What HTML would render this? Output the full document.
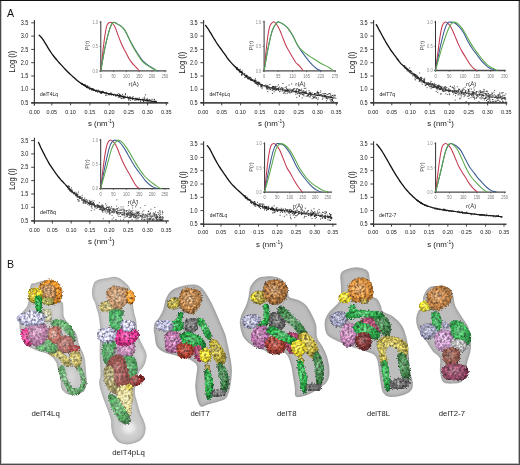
<!DOCTYPE html>
<html><head><meta charset="utf-8"><style>
html,body{margin:0;padding:0;background:#fff;}
svg{display:block;will-change:transform;}
text{font-family:"Liberation Sans", sans-serif;}
</style></head><body>
<svg width="520" height="465" viewBox="0 0 520 465">
<rect x="0" y="0" width="520" height="465" fill="#fff"/>

<line x1="34.4" y1="20.0" x2="34.4" y2="105.6" stroke="#333" stroke-width="1.1"/>
<line x1="31.2" y1="102.9" x2="168.3" y2="102.9" stroke="#4a4a4a" stroke-width="1.6"/>
<line x1="31.2" y1="22.8" x2="34.4" y2="22.8" stroke="#333" stroke-width="0.9"/>
<text x="28.4" y="24.9" font-size="6.5" text-anchor="end" fill="#1a1a1a" textLength="7.7" lengthAdjust="spacingAndGlyphs">3.5</text>
<line x1="31.2" y1="36.1" x2="34.4" y2="36.1" stroke="#333" stroke-width="0.9"/>
<text x="28.4" y="38.2" font-size="6.5" text-anchor="end" fill="#1a1a1a" textLength="7.7" lengthAdjust="spacingAndGlyphs">3.0</text>
<line x1="31.2" y1="49.4" x2="34.4" y2="49.4" stroke="#333" stroke-width="0.9"/>
<text x="28.4" y="51.5" font-size="6.5" text-anchor="end" fill="#1a1a1a" textLength="7.7" lengthAdjust="spacingAndGlyphs">2.5</text>
<line x1="31.2" y1="62.7" x2="34.4" y2="62.7" stroke="#333" stroke-width="0.9"/>
<text x="28.4" y="64.8" font-size="6.5" text-anchor="end" fill="#1a1a1a" textLength="7.7" lengthAdjust="spacingAndGlyphs">2.0</text>
<line x1="31.2" y1="76.0" x2="34.4" y2="76.0" stroke="#333" stroke-width="0.9"/>
<text x="28.4" y="78.1" font-size="6.5" text-anchor="end" fill="#1a1a1a" textLength="7.7" lengthAdjust="spacingAndGlyphs">1.5</text>
<line x1="31.2" y1="89.3" x2="34.4" y2="89.3" stroke="#333" stroke-width="0.9"/>
<text x="28.4" y="91.4" font-size="6.5" text-anchor="end" fill="#1a1a1a" textLength="7.7" lengthAdjust="spacingAndGlyphs">1.0</text>
<line x1="31.2" y1="102.6" x2="34.4" y2="102.6" stroke="#333" stroke-width="0.9"/>
<text x="28.4" y="104.7" font-size="6.5" text-anchor="end" fill="#1a1a1a" textLength="7.7" lengthAdjust="spacingAndGlyphs">0.5</text>
<line x1="34.4" y1="102.6" x2="34.4" y2="105.4" stroke="#333" stroke-width="0.9"/>
<text x="34.5" y="114.0" font-size="6.2" text-anchor="middle" fill="#222" textLength="10.6" lengthAdjust="spacingAndGlyphs">0.00</text>
<line x1="51.8" y1="102.6" x2="51.8" y2="105.4" stroke="#333" stroke-width="0.9"/>
<text x="51.8" y="114.0" font-size="6.2" text-anchor="middle" fill="#222" textLength="10.6" lengthAdjust="spacingAndGlyphs">0.05</text>
<line x1="70.6" y1="102.6" x2="70.6" y2="105.4" stroke="#333" stroke-width="0.9"/>
<text x="70.6" y="114.0" font-size="6.2" text-anchor="middle" fill="#222" textLength="10.6" lengthAdjust="spacingAndGlyphs">0.10</text>
<line x1="89.9" y1="102.6" x2="89.9" y2="105.4" stroke="#333" stroke-width="0.9"/>
<text x="89.9" y="114.0" font-size="6.2" text-anchor="middle" fill="#222" textLength="10.6" lengthAdjust="spacingAndGlyphs">0.15</text>
<line x1="109.2" y1="102.6" x2="109.2" y2="105.4" stroke="#333" stroke-width="0.9"/>
<text x="109.2" y="114.0" font-size="6.2" text-anchor="middle" fill="#222" textLength="10.6" lengthAdjust="spacingAndGlyphs">0.20</text>
<line x1="128.8" y1="102.6" x2="128.8" y2="105.4" stroke="#333" stroke-width="0.9"/>
<text x="128.8" y="114.0" font-size="6.2" text-anchor="middle" fill="#222" textLength="10.6" lengthAdjust="spacingAndGlyphs">0.25</text>
<line x1="147.6" y1="102.6" x2="147.6" y2="105.4" stroke="#333" stroke-width="0.9"/>
<text x="147.6" y="114.0" font-size="6.2" text-anchor="middle" fill="#222" textLength="10.6" lengthAdjust="spacingAndGlyphs">0.30</text>
<line x1="166.3" y1="102.6" x2="166.3" y2="105.4" stroke="#333" stroke-width="0.9"/>
<text x="166.3" y="114.0" font-size="6.2" text-anchor="middle" fill="#222" textLength="10.6" lengthAdjust="spacingAndGlyphs">0.35</text>
<text x="101.3" y="126.2" font-size="7.9" text-anchor="middle" fill="#1a1a1a">s (nm<tspan font-size="4.9" dy="-3.3">-1</tspan><tspan dy="3.3">)</tspan></text>
<text transform="translate(12.0,61.6) rotate(-90)" x="0" y="3" font-size="8.8" text-anchor="middle" fill="#1a1a1a" textLength="21.6" lengthAdjust="spacingAndGlyphs">Log (I)</text>
<text x="40.0" y="95.5" font-size="5.4" fill="#1a1a1a" textLength="17.9" lengthAdjust="spacingAndGlyphs">delT4Lq</text>
<path d="M39.20,35.20 C39.53,35.55 40.53,36.48 41.20,37.28 C41.87,38.07 42.53,38.99 43.20,39.96 C43.87,40.92 44.53,42.02 45.20,43.09 C45.87,44.16 46.53,45.30 47.20,46.39 C47.87,47.49 48.53,48.62 49.20,49.68 C49.87,50.73 50.53,51.78 51.20,52.75 C51.87,53.72 52.53,54.63 53.20,55.50 C53.87,56.38 54.53,57.20 55.20,58.01 C55.87,58.83 56.53,59.61 57.20,60.39 C57.87,61.17 58.53,61.94 59.20,62.70 C59.87,63.45 60.53,64.20 61.20,64.94 C61.87,65.68 62.53,66.40 63.20,67.12 C63.87,67.84 64.53,68.54 65.20,69.24 C65.87,69.93 66.53,70.62 67.20,71.29 C67.87,71.96 68.53,72.62 69.20,73.26 C69.87,73.90 70.53,74.52 71.20,75.14 C71.87,75.76 72.53,76.37 73.20,76.97 C73.87,77.58 74.53,78.19 75.20,78.77 C75.87,79.35 76.53,79.92 77.20,80.46 C77.87,81.00 78.53,81.50 79.20,81.99 C79.87,82.48 80.53,82.93 81.20,83.38 C81.87,83.82 82.53,84.24 83.20,84.65 C83.87,85.07 84.53,85.46 85.20,85.85 C85.87,86.24 86.87,86.82 87.20,87.01" fill="none" stroke="#111" stroke-width="1.3" stroke-linejoin="round" stroke-linecap="round"/>
<path d="M81.20,83.38 C81.53,83.59 82.53,84.24 83.20,84.65 C83.87,85.07 84.53,85.46 85.20,85.85 C85.87,86.24 86.53,86.64 87.20,87.01 C87.87,87.39 88.53,87.77 89.20,88.11 C89.87,88.45 90.53,88.76 91.20,89.04 C91.87,89.32 92.53,89.56 93.20,89.79 C93.87,90.02 94.53,90.23 95.20,90.43 C95.87,90.62 96.53,90.80 97.20,90.97 C97.87,91.14 98.53,91.30 99.20,91.46 C99.87,91.62 100.53,91.77 101.20,91.92 C101.87,92.08 102.53,92.22 103.20,92.38 C103.87,92.53 104.53,92.68 105.20,92.84 C105.87,92.99 106.53,93.15 107.20,93.30 C107.87,93.46 108.53,93.61 109.20,93.76 C109.87,93.90 110.53,94.03 111.20,94.16 C111.87,94.29 112.53,94.40 113.20,94.52 C113.87,94.63 114.53,94.74 115.20,94.87 C115.87,94.99 116.53,95.12 117.20,95.26 C117.87,95.40 118.53,95.56 119.20,95.71 C119.87,95.86 120.53,96.02 121.20,96.18 C121.87,96.33 122.53,96.48 123.20,96.63 C123.87,96.77 124.53,96.92 125.20,97.06 C125.87,97.20 126.53,97.34 127.20,97.48 C127.87,97.61 128.53,97.75 129.20,97.88 C129.87,98.01 130.53,98.14 131.20,98.26 C131.87,98.38 132.53,98.51 133.20,98.62 C133.87,98.73 134.53,98.83 135.20,98.93 C135.87,99.02 136.53,99.10 137.20,99.18 C137.87,99.26 138.53,99.32 139.20,99.39 C139.87,99.47 140.53,99.54 141.20,99.62 C141.87,99.70 142.53,99.78 143.20,99.86 C143.87,99.95 144.53,100.03 145.20,100.12 C145.87,100.21 146.53,100.31 147.20,100.40 C147.87,100.50 148.53,100.60 149.20,100.71 C149.87,100.81 150.53,100.91 151.20,101.03 C151.87,101.14 152.53,101.26 153.20,101.39 C153.87,101.52 154.65,101.70 155.20,101.81 C155.75,101.93 156.28,102.05 156.50,102.10" fill="none" stroke="#111" stroke-width="1.15" stroke-linejoin="round" stroke-linecap="round"/>
<path d="M105.6,92.9h1M121.4,96.1h1M85.8,87.0h1M86.7,87.1h1M113.1,95.3h1M128.2,98.6h1M124.5,97.3h1M145.5,100.2h1M92.2,89.3h1M95.0,91.4h1M129.1,97.7h1M85.9,86.5h1M132.2,98.1h1M115.3,95.8h1M140.7,99.7h1M120.6,98.2h1M135.8,99.5h1M112.7,94.4h1M92.8,90.5h1M138.5,99.7h1M146.7,100.0h1M124.7,96.1h1M144.1,97.1h1M86.0,86.8h1M129.7,98.7h1M110.2,93.6h1M83.2,85.0h1M85.9,86.9h1M91.1,88.4h1M87.5,88.0h1M122.4,97.9h1M102.2,91.2h1M108.2,94.4h1M94.6,90.3h1M98.9,91.1h1M81.8,83.9h1M109.0,94.8h1M119.9,95.7h1M131.9,99.6h1M146.7,98.3h1M110.7,94.9h1M86.1,87.1h1M97.1,91.0h1M81.5,84.0h1M89.1,89.2h1M127.2,97.8h1M100.3,91.6h1M144.7,100.9h1M116.2,95.4h1M107.0,93.5h1M143.2,101.9h1M120.9,96.5h1M122.0,94.4h1M145.8,99.8h1M101.0,92.5h1M121.2,98.6h1M106.1,93.8h1M145.0,94.8h1M142.5,100.2h1M108.0,94.3h1M83.6,85.1h1M152.8,101.9h1M151.3,101.9h1M97.9,91.1h1M96.2,90.0h1M144.1,98.6h1M130.1,100.4h1M149.3,101.9h1M137.4,99.9h1M106.3,95.3h1M153.9,99.6h1M135.5,100.2h1M91.0,89.9h1M92.4,88.6h1M154.5,101.0h1M91.3,89.7h1M153.8,99.3h1M113.8,94.2h1M143.0,99.9h1M99.4,92.1h1M100.8,92.8h1M107.9,94.6h1M125.0,93.9h1M118.9,96.5h1M120.5,95.7h1M81.8,84.3h1M94.3,90.2h1M105.8,92.3h1M122.9,98.3h1M100.0,92.2h1M139.0,98.0h1M149.5,100.2h1M127.1,96.3h1M115.2,94.9h1M117.1,94.4h1M151.7,99.3h1M123.2,97.2h1M90.6,88.8h1M86.9,87.7h1M139.9,100.8h1M93.0,89.6h1M147.3,99.5h1M97.9,90.2h1M155.2,101.9h1M93.5,89.6h1M96.1,90.8h1M135.3,98.1h1M82.8,84.6h1M128.0,99.9h1M140.2,101.8h1M89.3,89.2h1M101.6,92.4h1M113.0,95.0h1M92.6,89.0h1M124.0,97.4h1M132.8,98.8h1M86.9,86.0h1M87.7,86.3h1M86.5,86.1h1M122.7,97.0h1M101.5,91.7h1M89.7,88.5h1M85.3,86.0h1M138.1,100.0h1M118.8,95.6h1M100.2,91.9h1M136.1,99.5h1M151.1,101.9h1M142.5,98.1h1M110.8,94.2h1M132.7,96.8h1M134.2,100.2h1M111.6,94.7h1M86.8,87.2h1M100.5,92.8h1M146.4,101.3h1M102.5,92.2h1M93.2,90.5h1M101.1,93.5h1M99.7,91.4h1M104.6,93.4h1M116.9,95.3h1M96.5,91.3h1M88.2,87.8h1M84.6,85.7h1M125.1,97.7h1M137.4,98.9h1M110.5,92.8h1M154.9,101.6h1M84.8,84.6h1M147.9,100.4h1M91.9,88.6h1M119.1,96.8h1M125.0,94.2h1M132.4,98.6h1M91.4,89.4h1M89.3,87.1h1M128.2,97.4h1M118.0,95.9h1M119.0,94.6h1M130.6,98.2h1M87.0,86.9h1M135.8,98.9h1M118.3,93.7h1M117.2,95.5h1M129.4,96.9h1M92.5,89.7h1M123.8,96.2h1M86.0,86.3h1M131.8,97.3h1M120.0,95.6h1M148.1,100.7h1M154.4,101.9h1M142.6,100.1h1M115.0,95.3h1M97.2,92.3h1M92.1,89.8h1M142.6,99.7h1M147.6,101.0h1M117.7,97.0h1M81.8,83.7h1M92.0,89.6h1M105.0,95.1h1M144.0,100.1h1M150.5,101.9h1M109.2,93.6h1M155.9,101.4h1M102.0,92.7h1M89.1,87.8h1M100.1,93.1h1M119.6,94.6h1M147.4,101.9h1M128.5,99.8h1M135.1,98.6h1M136.1,99.1h1M102.8,91.6h1M150.5,100.1h1M103.7,92.8h1M154.2,101.2h1M123.0,96.2h1M94.0,90.5h1M118.5,97.2h1M149.0,99.7h1M95.8,90.8h1M107.0,93.4h1M123.9,98.1h1M137.3,98.3h1M109.6,94.3h1M86.1,86.9h1M119.0,95.7h1M145.8,100.2h1M111.3,94.8h1M152.6,101.7h1M83.9,85.2h1M148.2,100.6h1M110.7,94.1h1M143.0,101.4h1M89.6,88.5h1M120.4,97.2h1M129.7,97.1h1M115.6,96.2h1M98.8,92.0h1M129.6,98.5h1" stroke="#222" stroke-width="0.90" fill="none"/>
<line x1="100.8" y1="21.1" x2="100.8" y2="71.3" stroke="#333" stroke-width="1.0"/>
<line x1="99.6" y1="70.9" x2="166.5" y2="70.9" stroke="#4a4a4a" stroke-width="1.3"/>
<line x1="99.5" y1="22.3" x2="100.8" y2="22.3" stroke="#444" stroke-width="0.7"/>
<text x="98.0" y="24.1" font-size="4.9" text-anchor="end" fill="#8a8a8a" textLength="5.6" lengthAdjust="spacingAndGlyphs">1.0</text>
<line x1="99.5" y1="46.6" x2="100.8" y2="46.6" stroke="#444" stroke-width="0.7"/>
<text x="98.0" y="48.4" font-size="4.9" text-anchor="end" fill="#8a8a8a" textLength="5.6" lengthAdjust="spacingAndGlyphs">0.5</text>
<line x1="99.5" y1="70.9" x2="100.8" y2="70.9" stroke="#444" stroke-width="0.7"/>
<text x="98.0" y="72.7" font-size="4.9" text-anchor="end" fill="#8a8a8a" textLength="5.6" lengthAdjust="spacingAndGlyphs">0.0</text>
<line x1="100.8" y1="70.9" x2="100.8" y2="72.2" stroke="#444" stroke-width="0.7"/>
<text x="100.8" y="77.9" font-size="4.9" text-anchor="middle" fill="#777" textLength="2.2" lengthAdjust="spacingAndGlyphs">0</text>
<line x1="113.6" y1="70.9" x2="113.6" y2="72.2" stroke="#444" stroke-width="0.7"/>
<text x="113.6" y="77.9" font-size="4.9" text-anchor="middle" fill="#777" textLength="4.4" lengthAdjust="spacingAndGlyphs">50</text>
<line x1="126.4" y1="70.9" x2="126.4" y2="72.2" stroke="#444" stroke-width="0.7"/>
<text x="126.4" y="77.9" font-size="4.9" text-anchor="middle" fill="#777" textLength="6.6" lengthAdjust="spacingAndGlyphs">100</text>
<line x1="139.2" y1="70.9" x2="139.2" y2="72.2" stroke="#444" stroke-width="0.7"/>
<text x="139.2" y="77.9" font-size="4.9" text-anchor="middle" fill="#777" textLength="6.6" lengthAdjust="spacingAndGlyphs">150</text>
<line x1="152.0" y1="70.9" x2="152.0" y2="72.2" stroke="#444" stroke-width="0.7"/>
<text x="152.0" y="77.9" font-size="4.9" text-anchor="middle" fill="#777" textLength="6.6" lengthAdjust="spacingAndGlyphs">200</text>
<line x1="164.8" y1="70.9" x2="164.8" y2="72.2" stroke="#444" stroke-width="0.7"/>
<text x="164.8" y="77.9" font-size="4.9" text-anchor="middle" fill="#777" textLength="6.6" lengthAdjust="spacingAndGlyphs">250</text>
<text x="133.6" y="86.3" font-size="6.2" text-anchor="middle" fill="#333">r(Å)</text>
<text transform="translate(87.0,45.5) rotate(-90)" x="0" y="2" font-size="5.6" text-anchor="middle" fill="#333">P(r)</text>
<path d="M100.80,70.90 C101.14,67.74 102.15,57.78 102.82,51.95 C103.50,46.11 104.17,40.28 104.84,35.91 C105.52,31.53 106.19,27.89 106.87,25.70 C107.54,23.52 108.22,23.35 108.89,22.79 C109.56,22.22 110.24,22.14 110.91,22.30 C111.59,22.46 112.15,22.75 112.93,23.76 C113.72,24.77 114.73,26.35 115.62,28.38 C116.52,30.40 117.41,33.52 118.31,35.91 C119.21,38.30 120.10,40.61 121.00,42.71 C121.90,44.82 122.81,46.76 123.71,48.54 C124.61,50.33 125.50,51.70 126.40,53.40 C127.30,55.11 128.19,57.21 129.09,58.75 C129.98,60.29 130.88,61.50 131.78,62.64 C132.68,63.77 133.59,64.58 134.49,65.55 C135.39,66.53 136.39,67.58 137.18,68.47 C137.96,69.36 138.86,70.50 139.20,70.90" fill="none" stroke="#c23a50" stroke-width="1.05"/>
<path d="M100.80,70.90 C101.47,67.09 103.50,54.62 104.84,48.06 C106.19,41.50 107.77,35.50 108.89,31.53 C110.01,27.56 110.79,25.78 111.58,24.24 C112.36,22.71 112.70,22.38 113.60,22.30 C114.50,22.22 115.75,23.11 116.98,23.76 C118.21,24.41 119.77,25.22 121.00,26.19 C122.23,27.16 123.37,28.21 124.38,29.59 C125.39,30.97 126.05,32.51 127.07,34.45 C128.08,36.39 129.21,38.91 130.44,41.25 C131.68,43.60 133.14,46.28 134.49,48.54 C135.84,50.81 137.19,52.84 138.53,54.86 C139.88,56.89 141.24,59.16 142.58,60.69 C143.92,62.23 145.03,62.92 146.60,64.10 C148.17,65.27 150.46,66.73 152.00,67.74 C153.54,68.75 154.73,69.64 155.84,70.17 C156.95,70.70 158.19,70.78 158.66,70.90" fill="none" stroke="#3b5a92" stroke-width="1.05"/>
<path d="M100.80,70.90 C101.47,67.09 103.50,54.62 104.84,48.06 C106.19,41.50 107.77,35.50 108.89,31.53 C110.01,27.56 110.79,25.78 111.58,24.24 C112.36,22.71 112.70,22.38 113.60,22.30 C114.50,22.22 115.75,23.11 116.98,23.76 C118.21,24.41 119.77,25.22 121.00,26.19 C122.23,27.16 123.37,28.21 124.38,29.59 C125.39,30.97 126.05,32.43 127.07,34.45 C128.08,36.48 129.21,39.23 130.44,41.74 C131.68,44.25 133.14,47.17 134.49,49.52 C135.84,51.87 137.19,53.81 138.53,55.83 C139.88,57.86 141.24,60.17 142.58,61.67 C143.92,63.16 145.03,63.74 146.60,64.83 C148.17,65.91 150.20,67.17 152.00,68.18 C153.80,69.19 156.48,70.45 157.38,70.90" fill="none" stroke="#5aa84a" stroke-width="1.05"/>
<line x1="203.6" y1="20.0" x2="203.6" y2="105.6" stroke="#333" stroke-width="1.1"/>
<line x1="200.4" y1="102.9" x2="338.0" y2="102.9" stroke="#4a4a4a" stroke-width="1.6"/>
<line x1="200.4" y1="22.8" x2="203.6" y2="22.8" stroke="#333" stroke-width="0.9"/>
<text x="197.6" y="24.9" font-size="6.5" text-anchor="end" fill="#1a1a1a" textLength="7.7" lengthAdjust="spacingAndGlyphs">3.5</text>
<line x1="200.4" y1="36.1" x2="203.6" y2="36.1" stroke="#333" stroke-width="0.9"/>
<text x="197.6" y="38.2" font-size="6.5" text-anchor="end" fill="#1a1a1a" textLength="7.7" lengthAdjust="spacingAndGlyphs">3.0</text>
<line x1="200.4" y1="49.4" x2="203.6" y2="49.4" stroke="#333" stroke-width="0.9"/>
<text x="197.6" y="51.5" font-size="6.5" text-anchor="end" fill="#1a1a1a" textLength="7.7" lengthAdjust="spacingAndGlyphs">2.5</text>
<line x1="200.4" y1="62.7" x2="203.6" y2="62.7" stroke="#333" stroke-width="0.9"/>
<text x="197.6" y="64.8" font-size="6.5" text-anchor="end" fill="#1a1a1a" textLength="7.7" lengthAdjust="spacingAndGlyphs">2.0</text>
<line x1="200.4" y1="76.0" x2="203.6" y2="76.0" stroke="#333" stroke-width="0.9"/>
<text x="197.6" y="78.1" font-size="6.5" text-anchor="end" fill="#1a1a1a" textLength="7.7" lengthAdjust="spacingAndGlyphs">1.5</text>
<line x1="200.4" y1="89.3" x2="203.6" y2="89.3" stroke="#333" stroke-width="0.9"/>
<text x="197.6" y="91.4" font-size="6.5" text-anchor="end" fill="#1a1a1a" textLength="7.7" lengthAdjust="spacingAndGlyphs">1.0</text>
<line x1="200.4" y1="102.6" x2="203.6" y2="102.6" stroke="#333" stroke-width="0.9"/>
<text x="197.6" y="104.7" font-size="6.5" text-anchor="end" fill="#1a1a1a" textLength="7.7" lengthAdjust="spacingAndGlyphs">0.5</text>
<line x1="203.6" y1="102.6" x2="203.6" y2="105.4" stroke="#333" stroke-width="0.9"/>
<text x="203.1" y="114.0" font-size="6.2" text-anchor="middle" fill="#222" textLength="10.6" lengthAdjust="spacingAndGlyphs">0.00</text>
<line x1="221.8" y1="102.6" x2="221.8" y2="105.4" stroke="#333" stroke-width="0.9"/>
<text x="221.8" y="114.0" font-size="6.2" text-anchor="middle" fill="#222" textLength="10.6" lengthAdjust="spacingAndGlyphs">0.05</text>
<line x1="240.6" y1="102.6" x2="240.6" y2="105.4" stroke="#333" stroke-width="0.9"/>
<text x="240.6" y="114.0" font-size="6.2" text-anchor="middle" fill="#222" textLength="10.6" lengthAdjust="spacingAndGlyphs">0.10</text>
<line x1="259.9" y1="102.6" x2="259.9" y2="105.4" stroke="#333" stroke-width="0.9"/>
<text x="259.9" y="114.0" font-size="6.2" text-anchor="middle" fill="#222" textLength="10.6" lengthAdjust="spacingAndGlyphs">0.15</text>
<line x1="279.2" y1="102.6" x2="279.2" y2="105.4" stroke="#333" stroke-width="0.9"/>
<text x="279.2" y="114.0" font-size="6.2" text-anchor="middle" fill="#222" textLength="10.6" lengthAdjust="spacingAndGlyphs">0.20</text>
<line x1="298.8" y1="102.6" x2="298.8" y2="105.4" stroke="#333" stroke-width="0.9"/>
<text x="298.8" y="114.0" font-size="6.2" text-anchor="middle" fill="#222" textLength="10.6" lengthAdjust="spacingAndGlyphs">0.25</text>
<line x1="317.6" y1="102.6" x2="317.6" y2="105.4" stroke="#333" stroke-width="0.9"/>
<text x="317.6" y="114.0" font-size="6.2" text-anchor="middle" fill="#222" textLength="10.6" lengthAdjust="spacingAndGlyphs">0.30</text>
<line x1="336.3" y1="102.6" x2="336.3" y2="105.4" stroke="#333" stroke-width="0.9"/>
<text x="336.3" y="114.0" font-size="6.2" text-anchor="middle" fill="#222" textLength="10.6" lengthAdjust="spacingAndGlyphs">0.35</text>
<text x="271.4" y="126.2" font-size="7.9" text-anchor="middle" fill="#1a1a1a">s (nm<tspan font-size="4.9" dy="-3.3">-1</tspan><tspan dy="3.3">)</tspan></text>
<text transform="translate(182.3,62.6) rotate(-90)" x="0" y="3" font-size="8.8" text-anchor="middle" fill="#1a1a1a" textLength="21.6" lengthAdjust="spacingAndGlyphs">Log (I)</text>
<text x="209.4" y="95.5" font-size="5.4" fill="#1a1a1a" textLength="20.6" lengthAdjust="spacingAndGlyphs">delT4pLq</text>
<path d="M205.60,25.40 C205.93,25.86 206.93,27.16 207.60,28.15 C208.27,29.13 208.93,30.22 209.60,31.31 C210.27,32.40 210.93,33.56 211.60,34.67 C212.27,35.79 212.93,36.90 213.60,38.00 C214.27,39.10 214.93,40.21 215.60,41.27 C216.27,42.33 216.93,43.36 217.60,44.35 C218.27,45.34 218.93,46.29 219.60,47.22 C220.27,48.16 220.93,49.07 221.60,49.98 C222.27,50.89 222.93,51.77 223.60,52.68 C224.27,53.59 224.93,54.51 225.60,55.45 C226.27,56.38 226.93,57.41 227.60,58.32 C228.27,59.22 228.93,60.07 229.60,60.87 C230.27,61.67 230.93,62.39 231.60,63.12 C232.27,63.84 232.93,64.54 233.60,65.22 C234.27,65.91 234.93,66.57 235.60,67.23 C236.27,67.89 236.93,68.54 237.60,69.18 C238.27,69.81 238.93,70.45 239.60,71.05 C240.27,71.65 241.27,72.49 241.60,72.78" fill="none" stroke="#111" stroke-width="1.3" stroke-linejoin="round" stroke-linecap="round"/>
<path d="M235.60,67.23 C235.93,67.56 236.93,68.54 237.60,69.18 C238.27,69.81 238.93,70.45 239.60,71.05 C240.27,71.65 240.93,72.24 241.60,72.78 C242.27,73.31 242.93,73.79 243.60,74.26 C244.27,74.74 244.93,75.16 245.60,75.61 C246.27,76.07 246.93,76.53 247.60,77.00 C248.27,77.48 248.93,77.98 249.60,78.44 C250.27,78.90 250.93,79.36 251.60,79.79 C252.27,80.22 252.93,80.62 253.60,81.01 C254.27,81.40 254.93,81.77 255.60,82.13 C256.27,82.50 256.93,82.85 257.60,83.19 C258.27,83.52 258.93,83.85 259.60,84.16 C260.27,84.47 260.93,84.77 261.60,85.05 C262.27,85.32 262.93,85.59 263.60,85.83 C264.27,86.07 264.93,86.28 265.60,86.48 C266.27,86.68 266.93,86.85 267.60,87.02 C268.27,87.19 268.93,87.35 269.60,87.51 C270.27,87.68 270.93,87.86 271.60,88.02 C272.27,88.18 272.93,88.33 273.60,88.47 C274.27,88.60 274.93,88.71 275.60,88.81 C276.27,88.92 276.93,89.01 277.60,89.10 C278.27,89.20 278.93,89.29 279.60,89.38 C280.27,89.47 280.93,89.56 281.60,89.64 C282.27,89.73 282.93,89.82 283.60,89.91 C284.27,90.00 284.93,90.09 285.60,90.17 C286.27,90.26 286.93,90.34 287.60,90.43 C288.27,90.51 288.93,90.60 289.60,90.68 C290.27,90.77 290.93,90.85 291.60,90.94 C292.27,91.03 292.93,91.12 293.60,91.21 C294.27,91.31 294.93,91.40 295.60,91.50 C296.27,91.61 296.93,91.71 297.60,91.82 C298.27,91.93 298.93,92.05 299.60,92.17 C300.27,92.29 300.93,92.42 301.60,92.54 C302.27,92.67 302.93,92.80 303.60,92.93 C304.27,93.06 304.93,93.19 305.60,93.32 C306.27,93.45 306.93,93.57 307.60,93.70 C308.27,93.82 308.93,93.94 309.60,94.06 C310.27,94.17 310.93,94.28 311.60,94.39 C312.27,94.50 312.93,94.60 313.60,94.70 C314.27,94.81 314.93,94.90 315.60,95.00 C316.27,95.10 316.93,95.19 317.60,95.29 C318.27,95.39 318.93,95.48 319.60,95.58 C320.27,95.67 320.93,95.77 321.60,95.87 C322.27,95.97 322.93,96.07 323.60,96.17 C324.27,96.27 324.93,96.38 325.60,96.49 C326.27,96.59 326.93,96.70 327.60,96.81 C328.27,96.92 328.93,97.03 329.60,97.14 C330.27,97.25 330.93,97.35 331.60,97.47 C332.27,97.59 332.93,97.73 333.60,97.84 C334.27,97.95 335.20,98.06 335.60,98.12 C336.00,98.18 335.93,98.19 336.00,98.20" fill="none" stroke="#111" stroke-width="0.80" stroke-linejoin="round" stroke-linecap="round"/>
<path d="M299.1,93.0h1M246.7,75.8h1M274.3,88.4h1M295.6,91.1h1M331.4,99.6h1M323.9,96.4h1M331.6,100.8h1M266.2,85.3h1M277.5,89.2h1M302.2,92.9h1M269.3,87.8h1M303.8,93.8h1M286.0,88.2h1M332.5,98.4h1M257.6,82.2h1M265.0,85.1h1M257.8,83.6h1M302.0,94.7h1M256.8,84.5h1M249.7,79.5h1M325.3,98.0h1M308.8,96.9h1M254.1,80.9h1M310.1,93.4h1M272.9,87.5h1M252.4,80.5h1M331.1,99.3h1M331.9,95.3h1M317.7,98.0h1M240.4,71.3h1M254.8,83.3h1M325.2,93.5h1M312.2,96.2h1M239.0,71.3h1M310.2,92.9h1M269.4,89.0h1M261.7,84.6h1M267.1,88.7h1M327.1,96.9h1M329.8,97.5h1M331.2,101.9h1M274.2,87.5h1M328.3,98.0h1M315.8,98.0h1M296.2,89.4h1M267.5,87.2h1M255.2,81.5h1M260.2,85.8h1M268.1,87.8h1M323.8,96.1h1M245.1,75.9h1M306.5,93.7h1M297.5,93.4h1M310.3,93.3h1M319.6,94.8h1M292.2,91.0h1M260.2,84.1h1M250.8,78.3h1M275.1,87.8h1M286.2,91.0h1M334.6,95.2h1M283.0,93.1h1M239.5,70.3h1M247.4,78.2h1M328.5,96.6h1M322.1,95.8h1M330.1,100.8h1M295.1,91.8h1M249.6,79.5h1M261.0,84.6h1M236.6,68.4h1M303.3,92.6h1M315.0,96.1h1M241.8,72.7h1M299.4,93.4h1M251.9,79.7h1M266.3,87.7h1M266.7,86.3h1M321.9,99.2h1M271.9,88.1h1M236.1,67.4h1M277.9,84.9h1M281.6,91.1h1M237.0,68.3h1M244.4,74.0h1M272.6,88.9h1M287.6,92.3h1M246.4,77.1h1M255.2,80.2h1M329.8,95.9h1M328.1,97.0h1M325.9,97.1h1M314.1,93.9h1M275.9,89.7h1M257.3,82.8h1M287.3,91.2h1M308.0,95.7h1M239.6,71.5h1M319.3,95.1h1M295.5,90.7h1M277.5,88.4h1M278.1,88.0h1M237.8,70.1h1M284.5,90.3h1M281.3,87.5h1M282.8,90.8h1M244.7,75.8h1M286.5,90.0h1M308.8,92.9h1M286.6,89.1h1M330.6,97.3h1M321.2,95.1h1M254.9,78.8h1M284.7,91.5h1M314.3,93.8h1M242.1,73.5h1M325.2,95.4h1M317.1,91.3h1M256.3,82.8h1M286.1,91.1h1M251.6,80.3h1M303.5,95.9h1M247.0,78.0h1M299.1,93.5h1M293.5,88.5h1M246.0,75.2h1M315.3,93.7h1M334.5,95.8h1M279.7,91.0h1M309.9,94.7h1M299.4,90.0h1M294.1,91.3h1M238.9,70.9h1M297.1,88.7h1M248.7,78.0h1M300.8,93.9h1M246.1,76.3h1M257.9,83.1h1M297.9,91.4h1M249.0,78.4h1M245.1,76.0h1M322.6,93.5h1M236.6,69.0h1M291.7,90.1h1M329.2,93.5h1M260.3,87.0h1M276.1,89.3h1M241.3,74.6h1M329.6,97.4h1M255.5,81.1h1M316.8,95.1h1M266.4,88.8h1M313.8,97.1h1M236.1,68.2h1M309.7,92.3h1M258.1,83.7h1M269.1,88.1h1M305.0,92.7h1M290.9,89.9h1M314.3,94.6h1M332.0,100.5h1M323.5,96.1h1M309.9,96.8h1M310.1,95.3h1M259.4,83.1h1M298.6,90.0h1M282.4,83.5h1M305.3,88.3h1M292.5,92.0h1M256.7,84.6h1M250.0,79.8h1M246.2,75.9h1M238.4,70.6h1M304.8,92.4h1M242.1,72.5h1M271.8,90.2h1M242.1,71.0h1M326.9,99.0h1M246.7,77.0h1M320.3,90.9h1M298.7,90.0h1M245.5,75.9h1M267.4,86.4h1M237.6,69.5h1M272.3,90.0h1M331.9,99.3h1M238.6,69.9h1M279.1,87.1h1M289.3,92.4h1M321.7,96.4h1M235.6,67.5h1M311.7,98.7h1M284.6,90.2h1M254.0,80.6h1M261.6,88.3h1M263.9,85.7h1M246.5,75.8h1M243.6,73.8h1M298.3,89.5h1M275.6,89.3h1M324.3,95.9h1M256.1,83.5h1M273.4,86.9h1M258.9,82.6h1M310.8,93.8h1M270.3,89.0h1M301.7,97.9h1M252.5,80.8h1M248.1,76.8h1M324.0,96.9h1M305.8,96.2h1M251.0,79.7h1M287.7,91.7h1M268.3,89.0h1M245.7,75.7h1M245.7,77.2h1M308.8,93.7h1M255.1,82.6h1M274.3,89.2h1M275.4,87.9h1M298.7,90.4h1M249.7,77.8h1M326.3,98.5h1M292.9,89.3h1M307.7,95.0h1M312.9,98.0h1M299.7,90.4h1M266.8,87.8h1M313.7,97.0h1M298.5,90.6h1M297.7,92.7h1M303.0,94.9h1M313.3,97.0h1M284.5,93.4h1M251.6,80.6h1M329.6,99.3h1M289.6,93.0h1M286.7,91.1h1M276.5,86.4h1M256.5,81.8h1M247.7,79.1h1M271.0,87.8h1M236.8,69.5h1M277.6,88.6h1M257.9,84.8h1M329.5,97.9h1M274.7,90.7h1M248.4,78.8h1M282.4,88.2h1M258.1,82.1h1M317.4,99.7h1M282.3,89.2h1M318.9,95.3h1M320.6,94.8h1M278.1,89.9h1M235.8,67.7h1M265.7,87.4h1M278.3,88.7h1M328.4,93.7h1M241.2,74.7h1M249.5,77.2h1M298.8,95.8h1M301.1,92.8h1M245.7,76.1h1M270.1,89.6h1M325.9,100.9h1M296.3,97.4h1M302.3,94.3h1M255.2,80.7h1M288.6,85.1h1M291.0,92.0h1M258.9,83.8h1M282.2,89.8h1M284.6,87.6h1M236.2,67.7h1M282.3,88.6h1M273.0,86.6h1M331.6,95.7h1M238.4,69.7h1M303.8,88.4h1M286.6,93.6h1M325.3,96.0h1M269.4,84.5h1M272.1,86.4h1M256.6,82.7h1M277.7,89.6h1M318.3,94.1h1M285.9,86.7h1M301.0,92.2h1M268.6,87.0h1M299.0,96.2h1M239.5,72.6h1M240.5,71.7h1M236.1,68.9h1M301.3,90.4h1M326.5,94.7h1M305.1,91.8h1M303.6,92.2h1M311.8,92.9h1M253.6,81.6h1M301.1,89.2h1M317.8,92.6h1M265.7,86.4h1M267.3,85.6h1M241.0,71.6h1M239.4,71.6h1M327.4,94.5h1M236.9,67.9h1M333.6,95.3h1M276.7,88.6h1M250.7,79.1h1M236.0,69.1h1M244.3,77.6h1M248.4,77.8h1M308.9,92.8h1M240.5,71.7h1M308.5,90.8h1M298.4,84.9h1M260.9,86.1h1M307.2,96.1h1M317.2,95.6h1M266.6,89.0h1M284.1,92.2h1M272.3,86.8h1M250.0,79.9h1M271.8,87.4h1M274.1,86.8h1M330.0,94.1h1M241.6,72.7h1M305.8,91.1h1M333.2,101.9h1M295.6,88.8h1M273.2,89.5h1M295.7,92.5h1M235.7,67.4h1M277.8,90.2h1M239.7,69.2h1M316.7,92.5h1M320.6,94.4h1M304.0,92.3h1M290.9,91.9h1M255.5,83.5h1M296.2,91.2h1M282.0,89.7h1M314.7,97.9h1M244.3,75.2h1M293.5,89.1h1M324.0,93.8h1M254.4,81.9h1M253.6,79.8h1M275.7,90.0h1M250.4,80.0h1M246.1,76.3h1M314.2,93.6h1M287.4,89.8h1M238.9,71.8h1M292.2,89.9h1M313.4,97.5h1M317.4,93.2h1M260.9,85.1h1M243.9,75.2h1M291.2,84.0h1M326.5,97.9h1M295.3,94.2h1M261.2,86.7h1M299.6,90.7h1M280.3,88.5h1M332.1,97.9h1M261.1,85.3h1M325.8,97.3h1M314.1,93.9h1M300.2,94.1h1M311.0,95.1h1M303.2,90.7h1M246.0,75.6h1M261.2,84.5h1M259.3,84.3h1M303.3,92.7h1M239.1,70.3h1M257.6,86.0h1M249.5,77.5h1M245.2,76.8h1M280.7,88.2h1M317.8,94.7h1M257.7,83.1h1M306.9,95.7h1M262.1,86.9h1M251.1,80.1h1M252.3,79.9h1M267.3,91.6h1M241.2,75.2h1M302.3,91.5h1M261.3,85.2h1M271.9,93.5h1M245.3,75.7h1M325.1,96.3h1M333.4,96.2h1M316.2,95.2h1M318.7,95.6h1M254.1,82.0h1M292.6,90.6h1M253.5,81.0h1M243.4,74.1h1M296.4,91.6h1M296.7,93.9h1M316.7,95.4h1M308.8,94.6h1M307.7,94.4h1M319.7,92.4h1M284.8,91.4h1M322.7,95.0h1M254.1,80.9h1M272.6,88.8h1M236.0,67.5h1M247.6,78.0h1M317.2,92.7h1M273.6,91.9h1M241.6,74.6h1M286.8,90.0h1M289.2,91.6h1M253.7,81.3h1M260.5,85.7h1M305.4,93.5h1M237.3,68.7h1M305.8,92.5h1M322.5,98.0h1M284.9,90.3h1M263.5,85.5h1M294.7,92.4h1M250.2,79.2h1M318.1,93.1h1M274.4,89.4h1M275.1,86.3h1M313.2,94.8h1M279.1,91.7h1M315.9,98.0h1M240.9,71.5h1M331.3,97.5h1M298.8,93.7h1M288.6,89.2h1M237.6,69.9h1M332.5,101.9h1M316.4,93.1h1M324.0,95.4h1M303.3,92.0h1M289.7,89.2h1M287.5,89.8h1M330.6,96.4h1M247.5,78.3h1M331.1,97.2h1" stroke="#222" stroke-width="0.90" fill="none"/>
<line x1="264.1" y1="20.7" x2="264.1" y2="71.3" stroke="#333" stroke-width="1.0"/>
<line x1="262.9" y1="70.9" x2="336.0" y2="70.9" stroke="#4a4a4a" stroke-width="1.3"/>
<line x1="262.8" y1="21.9" x2="264.1" y2="21.9" stroke="#444" stroke-width="0.7"/>
<text x="261.3" y="23.7" font-size="4.9" text-anchor="end" fill="#8a8a8a" textLength="5.6" lengthAdjust="spacingAndGlyphs">1.0</text>
<line x1="262.8" y1="46.4" x2="264.1" y2="46.4" stroke="#444" stroke-width="0.7"/>
<text x="261.3" y="48.2" font-size="4.9" text-anchor="end" fill="#8a8a8a" textLength="5.6" lengthAdjust="spacingAndGlyphs">0.5</text>
<line x1="262.8" y1="70.9" x2="264.1" y2="70.9" stroke="#444" stroke-width="0.7"/>
<text x="261.3" y="72.7" font-size="4.9" text-anchor="end" fill="#8a8a8a" textLength="5.6" lengthAdjust="spacingAndGlyphs">0.0</text>
<line x1="264.1" y1="70.9" x2="264.1" y2="72.2" stroke="#444" stroke-width="0.7"/>
<text x="264.1" y="77.9" font-size="4.9" text-anchor="middle" fill="#777" textLength="2.2" lengthAdjust="spacingAndGlyphs">0</text>
<line x1="278.3" y1="70.9" x2="278.3" y2="72.2" stroke="#444" stroke-width="0.7"/>
<text x="278.3" y="77.9" font-size="4.9" text-anchor="middle" fill="#777" textLength="4.4" lengthAdjust="spacingAndGlyphs">55</text>
<line x1="292.5" y1="70.9" x2="292.5" y2="72.2" stroke="#444" stroke-width="0.7"/>
<text x="292.5" y="77.9" font-size="4.9" text-anchor="middle" fill="#777" textLength="6.6" lengthAdjust="spacingAndGlyphs">110</text>
<line x1="306.6" y1="70.9" x2="306.6" y2="72.2" stroke="#444" stroke-width="0.7"/>
<text x="306.6" y="77.9" font-size="4.9" text-anchor="middle" fill="#777" textLength="6.6" lengthAdjust="spacingAndGlyphs">165</text>
<line x1="320.8" y1="70.9" x2="320.8" y2="72.2" stroke="#444" stroke-width="0.7"/>
<text x="320.8" y="77.9" font-size="4.9" text-anchor="middle" fill="#777" textLength="6.6" lengthAdjust="spacingAndGlyphs">220</text>
<line x1="335.0" y1="70.9" x2="335.0" y2="72.2" stroke="#444" stroke-width="0.7"/>
<text x="335.0" y="77.9" font-size="4.9" text-anchor="middle" fill="#777" textLength="6.6" lengthAdjust="spacingAndGlyphs">275</text>
<text x="300.5" y="86.3" font-size="6.2" text-anchor="middle" fill="#333">r(Å)</text>
<text transform="translate(251.0,45.5) rotate(-90)" x="0" y="2" font-size="5.6" text-anchor="middle" fill="#333">P(r)</text>
<path d="M264.10,70.90 C264.65,65.67 266.42,46.95 267.37,39.54 C268.32,32.13 268.85,29.40 269.80,26.46 C270.75,23.52 271.98,22.31 273.07,21.90 C274.16,21.49 275.25,22.70 276.35,24.01 C277.44,25.31 278.53,27.43 279.62,29.74 C280.71,32.05 281.80,35.15 282.89,37.87 C283.98,40.59 285.08,43.74 286.17,46.06 C287.26,48.38 288.35,49.88 289.44,51.79 C290.53,53.70 291.60,55.70 292.69,57.52 C293.78,59.34 294.87,61.36 295.96,62.72 C297.06,64.07 298.01,64.29 299.24,65.66 C300.46,67.02 302.63,70.03 303.31,70.90" fill="none" stroke="#c23a50" stroke-width="1.05"/>
<path d="M264.10,70.90 C264.78,67.04 266.81,54.44 268.17,47.72 C269.54,41.00 270.91,34.66 272.27,30.57 C273.63,26.49 275.26,24.67 276.35,23.22 C277.43,21.78 277.70,21.77 278.79,21.90 C279.89,22.03 281.39,22.97 282.89,24.01 C284.39,25.04 286.16,26.21 287.79,28.12 C289.42,30.03 291.06,32.61 292.69,35.47 C294.32,38.33 295.96,42.41 297.59,45.27 C299.22,48.13 300.85,50.31 302.49,52.62 C304.12,54.93 305.75,57.10 307.38,59.14 C309.02,61.18 310.65,63.24 312.28,64.87 C313.92,66.51 315.68,67.94 317.18,68.94 C318.68,69.94 320.60,70.57 321.28,70.90" fill="none" stroke="#3b5a92" stroke-width="1.05"/>
<path d="M264.10,70.90 C264.78,67.04 266.81,54.44 268.17,47.72 C269.54,41.00 270.91,34.66 272.27,30.57 C273.63,26.49 275.26,24.67 276.35,23.22 C277.43,21.78 277.70,21.77 278.79,21.90 C279.89,22.03 281.39,22.97 282.89,24.01 C284.39,25.04 286.16,26.21 287.79,28.12 C289.42,30.03 291.06,32.61 292.69,35.47 C294.32,38.33 295.96,42.69 297.59,45.27 C299.22,47.85 300.58,49.19 302.49,50.96 C304.39,52.72 306.86,54.35 309.03,55.86 C311.21,57.36 313.38,58.61 315.56,59.97 C317.74,61.34 319.92,62.82 322.11,64.04 C324.29,65.27 326.75,66.18 328.65,67.32 C330.56,68.47 332.73,70.30 333.55,70.90" fill="none" stroke="#5aa84a" stroke-width="1.05"/>
<line x1="373.6" y1="20.0" x2="373.6" y2="105.6" stroke="#333" stroke-width="1.1"/>
<line x1="370.4" y1="102.9" x2="507.3" y2="102.9" stroke="#4a4a4a" stroke-width="1.6"/>
<line x1="370.4" y1="22.8" x2="373.6" y2="22.8" stroke="#333" stroke-width="0.9"/>
<text x="367.6" y="24.9" font-size="6.5" text-anchor="end" fill="#1a1a1a" textLength="7.7" lengthAdjust="spacingAndGlyphs">3.5</text>
<line x1="370.4" y1="36.1" x2="373.6" y2="36.1" stroke="#333" stroke-width="0.9"/>
<text x="367.6" y="38.2" font-size="6.5" text-anchor="end" fill="#1a1a1a" textLength="7.7" lengthAdjust="spacingAndGlyphs">3.0</text>
<line x1="370.4" y1="49.4" x2="373.6" y2="49.4" stroke="#333" stroke-width="0.9"/>
<text x="367.6" y="51.5" font-size="6.5" text-anchor="end" fill="#1a1a1a" textLength="7.7" lengthAdjust="spacingAndGlyphs">2.5</text>
<line x1="370.4" y1="62.7" x2="373.6" y2="62.7" stroke="#333" stroke-width="0.9"/>
<text x="367.6" y="64.8" font-size="6.5" text-anchor="end" fill="#1a1a1a" textLength="7.7" lengthAdjust="spacingAndGlyphs">2.0</text>
<line x1="370.4" y1="76.0" x2="373.6" y2="76.0" stroke="#333" stroke-width="0.9"/>
<text x="367.6" y="78.1" font-size="6.5" text-anchor="end" fill="#1a1a1a" textLength="7.7" lengthAdjust="spacingAndGlyphs">1.5</text>
<line x1="370.4" y1="89.3" x2="373.6" y2="89.3" stroke="#333" stroke-width="0.9"/>
<text x="367.6" y="91.4" font-size="6.5" text-anchor="end" fill="#1a1a1a" textLength="7.7" lengthAdjust="spacingAndGlyphs">1.0</text>
<line x1="370.4" y1="102.6" x2="373.6" y2="102.6" stroke="#333" stroke-width="0.9"/>
<text x="367.6" y="104.7" font-size="6.5" text-anchor="end" fill="#1a1a1a" textLength="7.7" lengthAdjust="spacingAndGlyphs">0.5</text>
<line x1="373.6" y1="102.6" x2="373.6" y2="105.4" stroke="#333" stroke-width="0.9"/>
<text x="373.1" y="114.0" font-size="6.2" text-anchor="middle" fill="#222" textLength="10.6" lengthAdjust="spacingAndGlyphs">0.00</text>
<line x1="391.8" y1="102.6" x2="391.8" y2="105.4" stroke="#333" stroke-width="0.9"/>
<text x="391.8" y="114.0" font-size="6.2" text-anchor="middle" fill="#222" textLength="10.6" lengthAdjust="spacingAndGlyphs">0.05</text>
<line x1="410.6" y1="102.6" x2="410.6" y2="105.4" stroke="#333" stroke-width="0.9"/>
<text x="410.6" y="114.0" font-size="6.2" text-anchor="middle" fill="#222" textLength="10.6" lengthAdjust="spacingAndGlyphs">0.10</text>
<line x1="429.9" y1="102.6" x2="429.9" y2="105.4" stroke="#333" stroke-width="0.9"/>
<text x="429.9" y="114.0" font-size="6.2" text-anchor="middle" fill="#222" textLength="10.6" lengthAdjust="spacingAndGlyphs">0.15</text>
<line x1="449.2" y1="102.6" x2="449.2" y2="105.4" stroke="#333" stroke-width="0.9"/>
<text x="449.2" y="114.0" font-size="6.2" text-anchor="middle" fill="#222" textLength="10.6" lengthAdjust="spacingAndGlyphs">0.20</text>
<line x1="468.8" y1="102.6" x2="468.8" y2="105.4" stroke="#333" stroke-width="0.9"/>
<text x="468.8" y="114.0" font-size="6.2" text-anchor="middle" fill="#222" textLength="10.6" lengthAdjust="spacingAndGlyphs">0.25</text>
<line x1="487.6" y1="102.6" x2="487.6" y2="105.4" stroke="#333" stroke-width="0.9"/>
<text x="487.6" y="114.0" font-size="6.2" text-anchor="middle" fill="#222" textLength="10.6" lengthAdjust="spacingAndGlyphs">0.30</text>
<line x1="506.3" y1="102.6" x2="506.3" y2="105.4" stroke="#333" stroke-width="0.9"/>
<text x="506.3" y="114.0" font-size="6.2" text-anchor="middle" fill="#222" textLength="10.6" lengthAdjust="spacingAndGlyphs">0.35</text>
<text x="440.6" y="126.2" font-size="7.9" text-anchor="middle" fill="#1a1a1a">s (nm<tspan font-size="4.9" dy="-3.3">-1</tspan><tspan dy="3.3">)</tspan></text>
<text transform="translate(351.5,62.6) rotate(-90)" x="0" y="3" font-size="8.8" text-anchor="middle" fill="#1a1a1a" textLength="21.6" lengthAdjust="spacingAndGlyphs">Log (I)</text>
<text x="379.4" y="95.5" font-size="5.4" fill="#1a1a1a" textLength="15.6" lengthAdjust="spacingAndGlyphs">delT7q</text>
<path d="M376.30,24.60 C376.63,25.21 377.63,27.00 378.30,28.24 C378.97,29.47 379.63,30.76 380.30,32.01 C380.97,33.25 381.63,34.48 382.30,35.70 C382.97,36.91 383.63,38.12 384.30,39.31 C384.97,40.50 385.63,41.69 386.30,42.83 C386.97,43.97 387.63,45.07 388.30,46.15 C388.97,47.22 389.63,48.27 390.30,49.28 C390.97,50.29 391.63,51.27 392.30,52.21 C392.97,53.16 393.63,54.04 394.30,54.94 C394.97,55.84 395.63,56.71 396.30,57.60 C396.97,58.48 397.63,59.38 398.30,60.25 C398.97,61.12 399.63,62.05 400.30,62.82 C400.97,63.59 401.63,64.23 402.30,64.88 C402.97,65.52 403.63,66.09 404.30,66.70 C404.97,67.30 405.63,67.90 406.30,68.50 C406.97,69.10 407.97,69.99 408.30,70.28" fill="none" stroke="#111" stroke-width="1.3" stroke-linejoin="round" stroke-linecap="round"/>
<path d="M402.30,64.88 C402.63,65.18 403.63,66.09 404.30,66.70 C404.97,67.30 405.63,67.90 406.30,68.50 C406.97,69.10 407.63,69.70 408.30,70.28 C408.97,70.87 409.63,71.44 410.30,71.99 C410.97,72.55 411.63,73.08 412.30,73.61 C412.97,74.13 413.63,74.64 414.30,75.13 C414.97,75.62 415.63,76.09 416.30,76.57 C416.97,77.04 417.63,77.49 418.30,77.96 C418.97,78.43 419.63,78.91 420.30,79.39 C420.97,79.87 421.63,80.37 422.30,80.83 C422.97,81.28 423.63,81.71 424.30,82.10 C424.97,82.49 425.63,82.83 426.30,83.16 C426.97,83.49 427.63,83.79 428.30,84.08 C428.97,84.38 429.63,84.66 430.30,84.92 C430.97,85.19 431.63,85.44 432.30,85.67 C432.97,85.91 433.63,86.12 434.30,86.33 C434.97,86.54 435.63,86.73 436.30,86.93 C436.97,87.13 437.63,87.33 438.30,87.53 C438.97,87.74 439.63,87.96 440.30,88.16 C440.97,88.36 441.63,88.54 442.30,88.72 C442.97,88.90 443.63,89.06 444.30,89.23 C444.97,89.40 445.63,89.57 446.30,89.73 C446.97,89.90 447.63,90.06 448.30,90.21 C448.97,90.37 449.63,90.52 450.30,90.66 C450.97,90.80 451.63,90.94 452.30,91.07 C452.97,91.19 453.63,91.31 454.30,91.42 C454.97,91.53 455.63,91.63 456.30,91.72 C456.97,91.81 457.63,91.89 458.30,91.98 C458.97,92.06 459.63,92.14 460.30,92.21 C460.97,92.29 461.63,92.36 462.30,92.44 C462.97,92.52 463.63,92.59 464.30,92.67 C464.97,92.75 465.63,92.84 466.30,92.92 C466.97,93.01 467.63,93.10 468.30,93.20 C468.97,93.29 469.63,93.38 470.30,93.48 C470.97,93.57 471.63,93.67 472.30,93.77 C472.97,93.86 473.63,93.96 474.30,94.06 C474.97,94.16 475.63,94.26 476.30,94.36 C476.97,94.46 477.63,94.57 478.30,94.67 C478.97,94.77 479.63,94.88 480.30,94.99 C480.97,95.09 481.63,95.20 482.30,95.32 C482.97,95.43 483.63,95.55 484.30,95.66 C484.97,95.78 485.63,95.90 486.30,96.02 C486.97,96.14 487.63,96.26 488.30,96.37 C488.97,96.49 489.63,96.61 490.30,96.72 C490.97,96.84 491.63,96.95 492.30,97.06 C492.97,97.17 493.63,97.27 494.30,97.37 C494.97,97.47 495.63,97.56 496.30,97.66 C496.97,97.75 497.63,97.84 498.30,97.93 C498.97,98.02 499.63,98.10 500.30,98.19 C500.97,98.27 501.63,98.36 502.30,98.44 C502.97,98.53 503.68,98.62 504.30,98.69 C504.92,98.77 505.72,98.87 506.00,98.90" fill="none" stroke="#111" stroke-width="0.55" stroke-linejoin="round" stroke-linecap="round"/>
<path d="M458.0,94.0h1M416.1,76.6h1M432.9,87.3h1M412.5,74.7h1M461.7,90.3h1M424.0,79.5h1M466.0,93.5h1M435.2,87.0h1M442.6,90.6h1M404.7,67.8h1M460.3,91.2h1M432.6,84.7h1M419.7,80.9h1M492.4,99.5h1M448.4,91.6h1M414.6,77.1h1M419.3,78.6h1M439.5,86.1h1M487.3,93.1h1M478.9,95.2h1M483.6,90.0h1M496.8,98.0h1M481.6,95.1h1M454.3,88.1h1M483.4,93.4h1M465.4,90.8h1M477.3,95.3h1M443.3,88.2h1M483.8,98.6h1M454.5,92.1h1M418.3,79.0h1M462.8,94.0h1M489.5,94.5h1M501.3,93.0h1M404.6,68.0h1M461.1,95.1h1M458.4,88.9h1M456.3,91.1h1M440.0,86.9h1M439.3,86.4h1M413.6,74.1h1M444.4,86.7h1M501.9,95.9h1M448.4,91.8h1M457.6,91.9h1M420.9,82.0h1M455.8,91.3h1M494.7,100.9h1M494.1,90.4h1M419.5,78.0h1M422.7,81.3h1M467.8,89.4h1M468.4,98.4h1M445.5,87.9h1M403.9,67.7h1M489.4,95.9h1M454.3,90.5h1M430.6,81.3h1M462.1,91.2h1M415.9,76.7h1M413.7,74.7h1M456.8,86.7h1M409.8,71.2h1M482.1,94.9h1M420.8,79.2h1M413.6,73.6h1M449.4,89.8h1M409.1,68.0h1M448.3,88.4h1M428.9,86.6h1M435.6,84.6h1M486.7,91.3h1M454.0,86.0h1M428.3,84.1h1M435.0,84.8h1M452.9,91.4h1M440.1,89.1h1M502.6,97.3h1M457.9,91.7h1M444.6,91.4h1M439.3,89.8h1M423.0,81.6h1M471.3,94.2h1M419.4,80.4h1M488.7,97.6h1M448.7,91.1h1M439.5,86.4h1M441.9,90.7h1M455.0,95.7h1M449.7,90.3h1M495.3,95.6h1M441.0,87.7h1M492.5,96.1h1M455.8,91.3h1M442.8,91.4h1M461.4,91.8h1M421.6,81.2h1M436.2,88.4h1M440.4,89.5h1M433.8,86.0h1M416.4,78.2h1M432.3,87.6h1M493.5,92.3h1M417.0,78.7h1M471.2,94.3h1M445.6,89.3h1M489.9,95.0h1M467.6,96.5h1M478.4,101.6h1M407.6,70.4h1M434.4,87.2h1M407.5,69.7h1M489.1,95.4h1M476.6,91.5h1M439.1,88.8h1M488.6,96.2h1M490.6,97.6h1M408.3,71.7h1M424.9,85.3h1M480.0,94.2h1M479.8,90.5h1M432.2,87.0h1M498.4,97.1h1M478.8,91.2h1M409.0,70.8h1M447.2,90.8h1M481.2,94.7h1M475.2,93.9h1M502.4,101.9h1M459.0,93.7h1M445.5,90.2h1M435.2,86.2h1M427.8,82.5h1M456.1,93.2h1M434.0,85.4h1M418.0,77.2h1M459.4,98.3h1M420.8,79.2h1M481.6,92.2h1M415.2,75.7h1M409.7,72.3h1M423.6,81.0h1M436.6,87.4h1M440.5,88.5h1M504.7,99.2h1M412.1,75.9h1M414.6,75.6h1M447.8,90.0h1M497.3,97.8h1M467.5,91.3h1M428.6,83.7h1M406.3,69.6h1M422.4,80.5h1M489.8,101.2h1M488.2,101.9h1M436.8,87.8h1M441.1,87.4h1M441.2,88.6h1M461.3,92.9h1M487.1,101.9h1M453.9,89.2h1M419.6,78.9h1M473.7,93.6h1M448.7,91.2h1M448.3,90.6h1M477.2,96.9h1M483.8,91.8h1M432.4,84.6h1M438.0,87.5h1M471.4,95.9h1M433.7,85.9h1M461.0,92.6h1M436.5,87.7h1M502.6,101.9h1M501.6,92.9h1M486.2,94.6h1M433.8,84.8h1M500.7,96.9h1M438.5,85.8h1M406.3,68.7h1M412.2,73.1h1M441.4,87.1h1M461.1,93.5h1M415.2,76.9h1M415.0,74.5h1M429.4,83.9h1M453.4,91.1h1M426.6,84.5h1M463.5,94.1h1M445.1,86.8h1M459.7,95.0h1M480.7,98.8h1M413.9,75.0h1M443.5,91.0h1M482.5,94.7h1M482.7,95.7h1M405.0,68.4h1M425.2,82.6h1M494.1,94.8h1M492.5,101.6h1M420.6,77.9h1M438.3,85.4h1M416.0,75.2h1M478.7,94.6h1M465.1,92.3h1M459.5,98.8h1M472.4,96.9h1M423.2,82.4h1M415.1,75.1h1M414.8,76.7h1M433.1,87.5h1M442.3,90.1h1M473.8,90.1h1M500.3,97.4h1M454.7,93.3h1M485.1,97.7h1M472.8,97.4h1M452.0,92.0h1M492.5,95.1h1M411.2,73.5h1M463.6,96.6h1M420.8,78.9h1M443.1,89.4h1M404.1,66.9h1M450.4,91.4h1M408.1,70.3h1M431.4,84.7h1M430.2,82.2h1M504.7,97.6h1M460.7,97.0h1M468.1,90.8h1M440.5,89.2h1M499.2,92.9h1M434.5,86.3h1M468.3,90.9h1M459.7,93.7h1M436.5,88.1h1M452.6,91.3h1M439.1,88.9h1M404.2,65.7h1M461.5,93.0h1M420.7,79.8h1M477.6,96.4h1M499.1,101.2h1M411.7,73.0h1M462.7,88.3h1M447.2,94.5h1M410.4,73.0h1M429.8,84.4h1M420.3,79.5h1M444.3,88.4h1M465.0,91.2h1M478.4,92.3h1M464.8,94.2h1M438.3,85.1h1M422.7,82.4h1M497.6,95.3h1M436.8,85.5h1M472.8,92.2h1M409.4,72.6h1M437.6,88.0h1M464.5,92.5h1M497.9,98.0h1M504.2,95.4h1M437.1,85.9h1M419.4,79.2h1M486.5,95.1h1M458.4,89.6h1M464.9,91.9h1M479.1,94.0h1M482.7,91.7h1M482.3,91.6h1M456.9,92.7h1M417.0,76.1h1M482.5,95.9h1M504.4,98.8h1M406.4,68.7h1M409.6,71.4h1M499.4,97.6h1M418.7,78.5h1M420.0,77.4h1M482.9,98.2h1M468.4,93.0h1M485.2,93.6h1M414.5,79.1h1M410.2,71.1h1M409.6,72.7h1M445.3,93.8h1M426.4,82.9h1M430.3,85.2h1M480.9,96.7h1M433.9,87.1h1M419.5,81.7h1M492.2,97.2h1M432.3,83.6h1M453.0,94.1h1M464.5,95.2h1M462.6,94.6h1M440.3,94.2h1M491.6,101.9h1M433.9,83.3h1M414.9,79.9h1M418.9,79.0h1M413.4,74.7h1M438.1,86.5h1M476.6,95.7h1M427.4,83.8h1M473.8,92.5h1M447.4,90.1h1M405.5,67.1h1M415.8,78.2h1M417.4,78.2h1M418.6,81.2h1M454.6,90.3h1M497.2,100.3h1M425.4,85.7h1M431.3,84.2h1M430.5,86.5h1M445.1,90.0h1M440.5,87.6h1M459.0,89.7h1M473.9,99.1h1M444.2,87.7h1M446.3,87.4h1M445.3,90.6h1M505.3,93.9h1M429.5,83.1h1M442.0,89.0h1M489.5,99.1h1M496.2,96.9h1M469.4,91.7h1M435.7,91.5h1M490.6,96.9h1M463.9,93.2h1M479.3,98.0h1M476.1,91.5h1M472.6,93.4h1M467.6,93.6h1M430.5,88.6h1M451.8,87.1h1M426.1,83.1h1M498.1,94.8h1M486.5,95.7h1M421.1,77.4h1M487.9,98.2h1M492.0,93.6h1M486.9,99.3h1M419.2,79.7h1M485.4,97.3h1M449.7,86.3h1M474.4,98.6h1M452.3,91.3h1M472.9,92.7h1M456.6,90.7h1M442.4,89.8h1M424.0,82.8h1M476.8,95.0h1M436.5,87.4h1M468.4,91.7h1M424.1,82.6h1M441.4,86.7h1M448.6,90.1h1M445.1,88.3h1M486.2,93.7h1M497.8,100.2h1M502.6,92.6h1M437.1,88.7h1M480.6,92.5h1M495.4,96.6h1M406.1,68.1h1M489.1,97.2h1M451.8,87.3h1M455.7,93.3h1M471.9,92.7h1M472.8,94.3h1M482.0,97.9h1M411.4,74.0h1M413.9,75.2h1M409.1,70.5h1M476.0,97.5h1M446.1,90.6h1M505.3,101.2h1M437.6,86.9h1M404.1,66.8h1M435.4,87.8h1M491.1,94.3h1M408.7,71.0h1M491.9,99.6h1M424.1,81.6h1M458.3,90.0h1M463.0,93.1h1M485.2,98.6h1M408.7,70.6h1M457.9,90.5h1M431.4,84.6h1M433.2,87.3h1M449.9,86.4h1M448.9,93.8h1M468.7,94.1h1M491.5,95.7h1M497.6,97.0h1M485.2,94.3h1M433.6,84.6h1M489.0,98.0h1M413.8,74.8h1M483.5,89.4h1M429.8,86.8h1M473.5,97.1h1M407.8,71.0h1M433.5,85.3h1M460.7,91.5h1M496.5,98.6h1M485.0,93.5h1M443.4,87.6h1M426.3,84.5h1M413.0,74.4h1M472.7,91.7h1M488.0,101.9h1M499.3,94.0h1M433.2,86.1h1M498.3,94.9h1M452.9,87.7h1M412.5,73.6h1M431.2,86.5h1M497.8,96.4h1M464.6,87.3h1M470.5,97.7h1M437.5,87.5h1M421.7,84.3h1M433.9,85.8h1M459.8,91.6h1M464.3,95.0h1M413.4,75.0h1M417.0,76.9h1M471.1,95.3h1M420.8,78.2h1M492.6,101.4h1M418.7,78.9h1M454.1,90.9h1M415.5,76.9h1M455.2,93.4h1M423.7,82.2h1M428.0,85.4h1M454.7,100.2h1M453.3,92.1h1M461.7,92.8h1M419.2,80.5h1M406.7,68.7h1M494.3,97.2h1M462.5,89.8h1M476.0,92.3h1M428.6,84.7h1M466.6,93.0h1M486.6,97.1h1M497.4,95.2h1M499.4,97.2h1M428.5,84.9h1M472.7,93.3h1M423.7,82.5h1M437.3,92.4h1M452.4,91.1h1M483.0,95.6h1M423.8,80.6h1M489.8,101.9h1M439.1,89.1h1M502.0,98.4h1M488.0,93.6h1M495.8,101.9h1M463.7,89.7h1M487.7,99.3h1M501.5,96.7h1M500.0,101.9h1M429.2,83.8h1M427.2,83.0h1M453.7,92.1h1M473.4,87.9h1M484.5,98.4h1M499.6,96.1h1M470.1,94.5h1M438.1,88.9h1M404.0,65.9h1M405.2,68.2h1M465.2,91.0h1M437.7,85.9h1M466.7,96.1h1M412.5,73.9h1M470.9,89.1h1M415.8,78.1h1M422.3,81.6h1M501.2,99.3h1M465.7,101.5h1M443.7,90.9h1M504.3,97.9h1M488.2,96.4h1M421.4,80.5h1M449.9,90.7h1M413.8,75.9h1M491.4,92.9h1M494.7,101.6h1M411.2,71.3h1M440.4,89.5h1M468.0,90.3h1M496.0,97.1h1M440.6,93.7h1M473.2,95.4h1M449.2,94.7h1M480.0,92.7h1M436.7,89.8h1M418.2,77.7h1M462.3,90.1h1M468.9,95.4h1M481.3,92.9h1M503.3,97.8h1M485.6,91.5h1M475.9,98.2h1M431.8,83.7h1M484.5,93.8h1M417.8,78.3h1M478.8,93.9h1M435.3,86.4h1M502.1,101.9h1M422.6,82.0h1M436.2,86.8h1M414.6,75.0h1M501.8,100.1h1M424.3,78.3h1M468.5,95.8h1M435.6,86.9h1M460.5,90.2h1M480.3,91.8h1M457.5,94.9h1M467.8,93.3h1M487.8,95.7h1M439.6,87.9h1M410.6,73.2h1M480.4,91.6h1M414.8,76.7h1M469.3,89.0h1M482.5,92.8h1M499.4,95.1h1M485.7,98.0h1M422.4,78.7h1M471.8,92.7h1M417.1,78.3h1M454.7,93.1h1M471.6,91.5h1M431.4,87.4h1M483.9,100.0h1M480.4,97.8h1M495.1,97.1h1M469.7,85.5h1M416.9,76.6h1M431.6,84.0h1M465.0,92.4h1M426.3,84.2h1M472.5,95.2h1M474.8,92.3h1M489.0,100.0h1M417.7,77.9h1M409.5,70.5h1M407.5,69.2h1M414.8,75.3h1M437.3,86.5h1M425.7,84.2h1M486.0,100.5h1M406.6,70.9h1M446.7,90.3h1M467.8,89.5h1M455.7,90.8h1M426.6,87.7h1M501.6,98.3h1M504.1,97.3h1M449.8,90.8h1M475.8,93.6h1M444.6,90.2h1M423.3,79.5h1M423.7,81.8h1M423.6,80.5h1M502.7,95.2h1M500.2,96.7h1M409.9,70.9h1M404.8,67.3h1M430.4,83.5h1M420.2,80.5h1M408.0,70.4h1M439.7,89.2h1M413.9,74.4h1M419.2,73.0h1M496.5,100.8h1M452.1,92.3h1M461.0,93.0h1M424.8,85.0h1M475.9,95.7h1M503.5,98.4h1M486.3,91.1h1M417.2,77.8h1M442.1,90.7h1M488.2,94.9h1M494.2,97.6h1M410.7,71.6h1M452.9,88.8h1M424.5,83.3h1M414.1,74.9h1M416.4,75.8h1M468.4,94.8h1M448.3,90.3h1M451.5,90.5h1M472.1,94.2h1M474.1,97.2h1M418.0,77.5h1M427.8,83.6h1M426.8,84.1h1" stroke="#2a2a2a" stroke-width="0.85" fill="none"/>
<line x1="435.5" y1="20.9" x2="435.5" y2="70.9" stroke="#333" stroke-width="1.0"/>
<line x1="434.3" y1="70.5" x2="505.8" y2="70.5" stroke="#4a4a4a" stroke-width="1.3"/>
<line x1="434.2" y1="22.1" x2="435.5" y2="22.1" stroke="#444" stroke-width="0.7"/>
<text x="432.7" y="23.9" font-size="4.9" text-anchor="end" fill="#8a8a8a" textLength="5.6" lengthAdjust="spacingAndGlyphs">1.0</text>
<line x1="434.2" y1="46.3" x2="435.5" y2="46.3" stroke="#444" stroke-width="0.7"/>
<text x="432.7" y="48.0" font-size="4.9" text-anchor="end" fill="#8a8a8a" textLength="5.6" lengthAdjust="spacingAndGlyphs">0.5</text>
<line x1="434.2" y1="70.5" x2="435.5" y2="70.5" stroke="#444" stroke-width="0.7"/>
<text x="432.7" y="72.2" font-size="4.9" text-anchor="end" fill="#8a8a8a" textLength="5.6" lengthAdjust="spacingAndGlyphs">0.0</text>
<line x1="435.5" y1="70.5" x2="435.5" y2="71.8" stroke="#444" stroke-width="0.7"/>
<text x="435.5" y="77.5" font-size="4.9" text-anchor="middle" fill="#777" textLength="2.2" lengthAdjust="spacingAndGlyphs">0</text>
<line x1="449.3" y1="70.5" x2="449.3" y2="71.8" stroke="#444" stroke-width="0.7"/>
<text x="449.3" y="77.5" font-size="4.9" text-anchor="middle" fill="#777" textLength="4.4" lengthAdjust="spacingAndGlyphs">50</text>
<line x1="463.1" y1="70.5" x2="463.1" y2="71.8" stroke="#444" stroke-width="0.7"/>
<text x="463.1" y="77.5" font-size="4.9" text-anchor="middle" fill="#777" textLength="6.6" lengthAdjust="spacingAndGlyphs">100</text>
<line x1="476.9" y1="70.5" x2="476.9" y2="71.8" stroke="#444" stroke-width="0.7"/>
<text x="476.9" y="77.5" font-size="4.9" text-anchor="middle" fill="#777" textLength="6.6" lengthAdjust="spacingAndGlyphs">150</text>
<line x1="490.7" y1="70.5" x2="490.7" y2="71.8" stroke="#444" stroke-width="0.7"/>
<text x="490.7" y="77.5" font-size="4.9" text-anchor="middle" fill="#777" textLength="6.6" lengthAdjust="spacingAndGlyphs">200</text>
<line x1="504.5" y1="70.5" x2="504.5" y2="71.8" stroke="#444" stroke-width="0.7"/>
<text x="504.5" y="77.5" font-size="4.9" text-anchor="middle" fill="#777" textLength="6.6" lengthAdjust="spacingAndGlyphs">250</text>
<text x="471.2" y="86.0" font-size="6.2" text-anchor="middle" fill="#333">r(Å)</text>
<text transform="translate(421.5,45.5) rotate(-90)" x="0" y="2" font-size="5.6" text-anchor="middle" fill="#333">P(r)</text>
<path d="M435.50,70.50 C435.91,67.35 437.20,57.43 437.98,51.62 C438.77,45.82 439.46,40.01 440.19,35.65 C440.92,31.30 441.52,27.75 442.37,25.49 C443.22,23.23 444.32,22.42 445.30,22.10 C446.27,21.78 447.25,22.66 448.22,23.55 C449.20,24.44 450.05,25.41 451.15,27.42 C452.24,29.44 453.57,32.83 454.79,35.65 C456.01,38.48 457.24,41.70 458.46,44.36 C459.68,47.03 460.89,49.45 462.11,51.62 C463.32,53.80 464.53,55.46 465.75,57.43 C466.97,59.41 468.20,61.75 469.42,63.48 C470.64,65.22 471.84,66.67 473.06,67.84 C474.28,69.01 476.12,70.06 476.73,70.50" fill="none" stroke="#c23a50" stroke-width="1.05"/>
<path d="M435.50,70.50 C436.28,66.63 438.68,54.04 440.19,47.27 C441.70,40.49 443.34,33.88 444.55,29.84 C445.77,25.81 446.50,24.36 447.48,23.07 C448.45,21.78 449.19,22.10 450.40,22.10 C451.62,22.10 453.32,22.26 454.79,23.07 C456.26,23.87 457.77,25.33 459.24,26.94 C460.70,28.55 462.12,30.33 463.57,32.75 C465.02,35.17 466.49,38.80 467.96,41.46 C469.42,44.12 470.88,46.54 472.35,48.72 C473.81,50.90 475.27,52.59 476.73,54.53 C478.20,56.46 479.66,58.60 481.12,60.34 C482.58,62.07 484.03,63.60 485.48,64.93 C486.94,66.27 488.13,67.39 489.87,68.32 C491.62,69.25 494.93,70.14 495.94,70.50" fill="none" stroke="#3b5a92" stroke-width="1.05"/>
<path d="M435.50,70.50 C436.52,66.87 439.63,55.25 441.63,48.72 C443.62,42.19 445.89,35.41 447.48,31.30 C449.07,27.18 450.05,25.57 451.15,24.04 C452.25,22.50 452.86,22.10 454.07,22.10 C455.29,22.10 457.12,22.99 458.46,24.04 C459.80,25.08 460.77,26.46 462.11,28.39 C463.44,30.33 465.03,33.11 466.49,35.65 C467.96,38.19 469.42,41.22 470.88,43.64 C472.35,46.06 473.81,48.11 475.27,50.17 C476.73,52.23 478.17,54.12 479.63,55.98 C481.09,57.84 482.56,59.69 484.02,61.30 C485.48,62.92 486.95,64.49 488.41,65.66 C489.87,66.83 491.27,67.52 492.80,68.32 C494.33,69.13 496.80,70.14 497.60,70.50" fill="none" stroke="#5aa84a" stroke-width="1.05"/>
<line x1="34.4" y1="137.8" x2="34.4" y2="223.7" stroke="#333" stroke-width="1.1"/>
<line x1="31.2" y1="221.0" x2="168.8" y2="221.0" stroke="#4a4a4a" stroke-width="1.6"/>
<line x1="31.2" y1="140.6" x2="34.4" y2="140.6" stroke="#333" stroke-width="0.9"/>
<text x="28.4" y="142.7" font-size="6.5" text-anchor="end" fill="#1a1a1a" textLength="7.7" lengthAdjust="spacingAndGlyphs">3.5</text>
<line x1="31.2" y1="153.9" x2="34.4" y2="153.9" stroke="#333" stroke-width="0.9"/>
<text x="28.4" y="156.0" font-size="6.5" text-anchor="end" fill="#1a1a1a" textLength="7.7" lengthAdjust="spacingAndGlyphs">3.0</text>
<line x1="31.2" y1="167.3" x2="34.4" y2="167.3" stroke="#333" stroke-width="0.9"/>
<text x="28.4" y="169.4" font-size="6.5" text-anchor="end" fill="#1a1a1a" textLength="7.7" lengthAdjust="spacingAndGlyphs">2.5</text>
<line x1="31.2" y1="180.6" x2="34.4" y2="180.6" stroke="#333" stroke-width="0.9"/>
<text x="28.4" y="182.7" font-size="6.5" text-anchor="end" fill="#1a1a1a" textLength="7.7" lengthAdjust="spacingAndGlyphs">2.0</text>
<line x1="31.2" y1="194.0" x2="34.4" y2="194.0" stroke="#333" stroke-width="0.9"/>
<text x="28.4" y="196.1" font-size="6.5" text-anchor="end" fill="#1a1a1a" textLength="7.7" lengthAdjust="spacingAndGlyphs">1.5</text>
<line x1="31.2" y1="207.3" x2="34.4" y2="207.3" stroke="#333" stroke-width="0.9"/>
<text x="28.4" y="209.4" font-size="6.5" text-anchor="end" fill="#1a1a1a" textLength="7.7" lengthAdjust="spacingAndGlyphs">1.0</text>
<line x1="31.2" y1="220.7" x2="34.4" y2="220.7" stroke="#333" stroke-width="0.9"/>
<text x="28.4" y="222.8" font-size="6.5" text-anchor="end" fill="#1a1a1a" textLength="7.7" lengthAdjust="spacingAndGlyphs">0.5</text>
<line x1="34.4" y1="220.7" x2="34.4" y2="223.5" stroke="#333" stroke-width="0.9"/>
<text x="34.5" y="231.5" font-size="6.2" text-anchor="middle" fill="#222" textLength="10.6" lengthAdjust="spacingAndGlyphs">0.00</text>
<line x1="52.4" y1="220.7" x2="52.4" y2="223.5" stroke="#333" stroke-width="0.9"/>
<text x="52.4" y="231.5" font-size="6.2" text-anchor="middle" fill="#222" textLength="10.6" lengthAdjust="spacingAndGlyphs">0.05</text>
<line x1="71.2" y1="220.7" x2="71.2" y2="223.5" stroke="#333" stroke-width="0.9"/>
<text x="71.2" y="231.5" font-size="6.2" text-anchor="middle" fill="#222" textLength="10.6" lengthAdjust="spacingAndGlyphs">0.10</text>
<line x1="89.9" y1="220.7" x2="89.9" y2="223.5" stroke="#333" stroke-width="0.9"/>
<text x="89.9" y="231.5" font-size="6.2" text-anchor="middle" fill="#222" textLength="10.6" lengthAdjust="spacingAndGlyphs">0.15</text>
<line x1="109.2" y1="220.7" x2="109.2" y2="223.5" stroke="#333" stroke-width="0.9"/>
<text x="109.2" y="231.5" font-size="6.2" text-anchor="middle" fill="#222" textLength="10.6" lengthAdjust="spacingAndGlyphs">0.20</text>
<line x1="128.3" y1="220.7" x2="128.3" y2="223.5" stroke="#333" stroke-width="0.9"/>
<text x="128.3" y="231.5" font-size="6.2" text-anchor="middle" fill="#222" textLength="10.6" lengthAdjust="spacingAndGlyphs">0.25</text>
<line x1="147.6" y1="220.7" x2="147.6" y2="223.5" stroke="#333" stroke-width="0.9"/>
<text x="147.6" y="231.5" font-size="6.2" text-anchor="middle" fill="#222" textLength="10.6" lengthAdjust="spacingAndGlyphs">0.30</text>
<line x1="166.3" y1="220.7" x2="166.3" y2="223.5" stroke="#333" stroke-width="0.9"/>
<text x="166.3" y="231.5" font-size="6.2" text-anchor="middle" fill="#222" textLength="10.6" lengthAdjust="spacingAndGlyphs">0.35</text>
<text x="101.3" y="243.9" font-size="7.9" text-anchor="middle" fill="#1a1a1a">s (nm<tspan font-size="4.9" dy="-3.3">-1</tspan><tspan dy="3.3">)</tspan></text>
<text transform="translate(11.8,179.0) rotate(-90)" x="0" y="3" font-size="8.8" text-anchor="middle" fill="#1a1a1a" textLength="21.6" lengthAdjust="spacingAndGlyphs">Log (I)</text>
<text x="40.0" y="213.6" font-size="5.4" fill="#1a1a1a" textLength="15.9" lengthAdjust="spacingAndGlyphs">delT8q</text>
<path d="M38.50,142.40 C38.83,143.15 39.83,145.48 40.50,146.91 C41.17,148.35 41.83,149.66 42.50,151.00 C43.17,152.33 43.83,153.63 44.50,154.92 C45.17,156.20 45.83,157.47 46.50,158.70 C47.17,159.93 47.83,161.15 48.50,162.30 C49.17,163.45 49.83,164.57 50.50,165.62 C51.17,166.68 51.83,167.65 52.50,168.63 C53.17,169.61 53.83,170.55 54.50,171.50 C55.17,172.45 55.83,173.40 56.50,174.31 C57.17,175.23 57.83,176.14 58.50,176.98 C59.17,177.82 59.83,178.62 60.50,179.37 C61.17,180.12 61.83,180.80 62.50,181.51 C63.17,182.21 63.83,182.88 64.50,183.59 C65.17,184.30 65.83,185.03 66.50,185.77 C67.17,186.50 67.83,187.27 68.50,187.98 C69.17,188.69 69.83,189.38 70.50,190.01 C71.17,190.65 72.17,191.51 72.50,191.81" fill="none" stroke="#111" stroke-width="1.3" stroke-linejoin="round" stroke-linecap="round"/>
<path d="M66.50,185.77 C66.83,186.14 67.83,187.27 68.50,187.98 C69.17,188.69 69.83,189.38 70.50,190.01 C71.17,190.65 71.83,191.23 72.50,191.81 C73.17,192.39 73.83,192.94 74.50,193.50 C75.17,194.05 75.83,194.60 76.50,195.14 C77.17,195.68 77.83,196.21 78.50,196.73 C79.17,197.25 79.83,197.76 80.50,198.25 C81.17,198.74 81.83,199.23 82.50,199.68 C83.17,200.12 83.83,200.54 84.50,200.92 C85.17,201.30 85.83,201.63 86.50,201.96 C87.17,202.28 87.83,202.58 88.50,202.87 C89.17,203.15 89.83,203.42 90.50,203.68 C91.17,203.94 91.83,204.19 92.50,204.46 C93.17,204.72 93.83,204.99 94.50,205.26 C95.17,205.53 95.83,205.81 96.50,206.06 C97.17,206.32 97.83,206.56 98.50,206.78 C99.17,207.00 99.83,207.19 100.50,207.40 C101.17,207.60 101.83,207.80 102.50,208.00 C103.17,208.21 103.83,208.42 104.50,208.64 C105.17,208.85 105.83,209.07 106.50,209.29 C107.17,209.50 107.83,209.72 108.50,209.92 C109.17,210.12 109.83,210.32 110.50,210.51 C111.17,210.70 111.83,210.88 112.50,211.04 C113.17,211.21 113.83,211.36 114.50,211.50 C115.17,211.64 115.83,211.77 116.50,211.90 C117.17,212.02 117.83,212.13 118.50,212.24 C119.17,212.35 119.83,212.45 120.50,212.56 C121.17,212.66 121.83,212.76 122.50,212.85 C123.17,212.95 123.83,213.05 124.50,213.15 C125.17,213.24 125.83,213.34 126.50,213.44 C127.17,213.54 127.83,213.64 128.50,213.74 C129.17,213.84 129.83,213.94 130.50,214.04 C131.17,214.14 131.83,214.24 132.50,214.33 C133.17,214.43 133.83,214.52 134.50,214.62 C135.17,214.71 135.83,214.80 136.50,214.89 C137.17,214.98 137.83,215.07 138.50,215.16 C139.17,215.24 139.83,215.33 140.50,215.41 C141.17,215.49 141.83,215.57 142.50,215.65 C143.17,215.72 143.83,215.80 144.50,215.87 C145.17,215.94 145.83,216.02 146.50,216.09 C147.17,216.15 147.83,216.22 148.50,216.29 C149.17,216.36 149.83,216.42 150.50,216.49 C151.17,216.55 151.83,216.62 152.50,216.68 C153.17,216.74 153.83,216.80 154.50,216.86 C155.17,216.92 155.83,216.97 156.50,217.02 C157.17,217.08 157.83,217.12 158.50,217.17 C159.17,217.22 159.83,217.28 160.50,217.32 C161.17,217.37 162.03,217.42 162.50,217.45 C162.97,217.48 163.17,217.49 163.30,217.50" fill="none" stroke="#111" stroke-width="0.45" stroke-linejoin="round" stroke-linecap="round"/>
<path d="M127.9,205.5h1M71.1,192.3h1M71.1,190.8h1M90.4,204.6h1M156.2,220.0h1M155.1,217.3h1M139.7,215.7h1M160.2,220.0h1M83.0,202.0h1M77.6,199.6h1M67.7,185.7h1M120.5,206.9h1M124.2,213.1h1M74.9,193.6h1M105.3,208.7h1M138.5,217.3h1M111.1,208.1h1M129.5,213.0h1M160.6,218.0h1M101.1,207.4h1M148.3,211.2h1M102.5,208.2h1M125.3,210.9h1M140.8,216.6h1M133.5,215.1h1M117.1,209.9h1M129.3,217.4h1M137.3,220.0h1M135.8,212.6h1M132.4,205.5h1M84.6,203.2h1M109.6,210.3h1M100.7,208.8h1M76.5,196.8h1M156.3,216.0h1M147.2,216.3h1M91.3,203.2h1M69.5,190.7h1M98.8,202.6h1M141.4,217.4h1M77.5,194.1h1M97.4,205.4h1M159.5,220.0h1M118.1,207.9h1M106.3,207.5h1M133.2,217.3h1M94.9,206.7h1M68.8,188.4h1M84.3,198.0h1M133.0,214.4h1M91.2,202.1h1M70.1,190.3h1M159.4,219.5h1M123.8,210.6h1M96.5,205.0h1M73.9,193.1h1M78.3,197.3h1M159.9,216.6h1M84.5,202.9h1M96.4,205.7h1M136.9,212.6h1M156.3,217.4h1M146.5,215.6h1M149.0,214.2h1M68.4,188.0h1M153.7,214.8h1M130.5,211.7h1M81.2,200.1h1M129.7,213.8h1M88.8,205.5h1M79.9,198.5h1M102.2,211.7h1M91.5,205.9h1M117.3,212.2h1M94.7,207.9h1M140.4,216.0h1M104.1,209.7h1M128.6,214.3h1M130.7,213.0h1M89.9,203.1h1M111.3,211.6h1M76.4,195.0h1M89.5,203.6h1M78.8,196.7h1M156.8,219.5h1M74.3,193.7h1M150.4,209.2h1M149.3,219.5h1M90.3,203.3h1M149.9,218.3h1M155.6,218.1h1M137.2,213.1h1M87.1,202.7h1M101.9,209.7h1M84.7,201.1h1M129.7,216.4h1M138.1,215.6h1M89.8,202.2h1M81.3,197.3h1M157.6,220.0h1M153.5,214.7h1M89.1,203.7h1M88.2,202.7h1M109.3,211.3h1M123.1,219.7h1M105.8,213.1h1M89.7,203.8h1M116.3,199.8h1M126.7,213.9h1M147.0,219.1h1M89.1,203.3h1M98.2,205.7h1M69.7,190.6h1M82.9,203.2h1M92.1,204.5h1M121.0,214.7h1M79.0,198.6h1M81.7,198.2h1M152.0,216.2h1M89.8,202.5h1M106.5,207.5h1M130.6,217.7h1M157.3,216.5h1M72.4,192.4h1M95.1,205.9h1M159.6,210.6h1M148.4,219.6h1M129.8,215.2h1M130.2,215.2h1M143.8,219.3h1M74.7,193.8h1M121.9,212.3h1M90.0,202.8h1M117.4,214.9h1M127.0,215.1h1M131.6,219.6h1M132.1,214.7h1M129.2,217.6h1M89.7,203.0h1M158.8,211.0h1M153.3,220.0h1M137.6,213.0h1M79.7,196.6h1M88.0,203.5h1M106.2,209.5h1M74.9,195.3h1M101.4,206.4h1M109.2,210.0h1M131.9,214.4h1M102.7,208.9h1M128.7,209.8h1M134.7,217.5h1M96.2,208.3h1M145.8,219.1h1M123.6,209.7h1M68.9,188.8h1M74.2,193.0h1M84.0,201.7h1M92.8,204.8h1M161.6,220.0h1M159.9,220.0h1M99.5,206.6h1M113.1,213.0h1M72.7,192.6h1M127.0,214.4h1M92.6,204.4h1M114.4,209.9h1M156.0,218.6h1M133.5,215.0h1M135.8,216.1h1M76.5,194.0h1M85.7,203.2h1M89.5,201.5h1M130.7,215.1h1M123.0,214.0h1M127.9,213.6h1M118.3,216.5h1M70.4,190.6h1M128.5,215.6h1M126.1,214.5h1M130.6,216.0h1M82.5,200.2h1M135.8,205.7h1M143.2,214.2h1M72.8,193.6h1M76.0,194.6h1M156.3,216.7h1M111.5,212.4h1M117.2,213.6h1M135.8,215.0h1M74.2,193.3h1M113.6,210.8h1M97.8,205.9h1M135.4,211.1h1M155.9,220.0h1M126.5,210.6h1M94.0,205.8h1M161.0,220.0h1M126.5,215.2h1M74.0,193.8h1M75.7,194.0h1M76.5,196.9h1M140.7,216.1h1M77.7,197.0h1M146.9,218.9h1M84.1,199.1h1M79.2,198.1h1M160.1,217.0h1M152.5,220.0h1M112.6,208.7h1M111.8,209.1h1M137.4,217.2h1M77.7,201.0h1M99.8,207.3h1M161.9,220.0h1M148.9,218.4h1M100.1,209.5h1M107.4,212.7h1M68.5,187.1h1M125.3,217.1h1M148.4,214.8h1M92.8,204.0h1M103.5,209.5h1M89.1,200.3h1M152.1,220.0h1M90.8,206.6h1M136.9,200.6h1M145.0,214.6h1M147.5,214.1h1M118.9,213.1h1M147.9,211.6h1M151.3,220.0h1M132.0,212.9h1M72.1,190.2h1M99.8,206.3h1M142.0,216.7h1M91.3,205.3h1M98.7,207.3h1M74.2,193.1h1M138.1,212.8h1M144.0,217.2h1M97.0,207.7h1M153.2,212.7h1M97.2,205.3h1M123.5,212.2h1M116.9,208.7h1M130.9,216.5h1M102.0,210.2h1M79.4,197.0h1M70.8,189.7h1M108.4,211.1h1M117.4,213.0h1M88.7,200.9h1M143.9,220.0h1M108.8,206.7h1M135.1,216.0h1M98.9,209.5h1M85.3,200.0h1M81.2,199.1h1M162.8,218.0h1M154.2,215.2h1M139.9,207.8h1M87.3,204.5h1M115.4,219.6h1M116.2,206.2h1M120.9,210.3h1M107.9,207.7h1M92.2,203.2h1M112.1,212.1h1M68.0,187.8h1M90.1,201.8h1M116.7,208.8h1M86.8,200.8h1M136.2,213.1h1M93.5,200.9h1M155.7,219.9h1M75.7,194.6h1M143.4,217.6h1M128.4,217.7h1M99.5,207.3h1M82.9,200.9h1M126.4,214.3h1M75.6,195.3h1M97.6,207.3h1M109.4,214.1h1M113.8,209.0h1M123.9,213.4h1M83.6,199.9h1M105.9,205.3h1M108.0,209.3h1M82.0,197.7h1M122.1,214.7h1M101.3,205.9h1M155.2,214.8h1M120.3,213.3h1M137.6,218.0h1M148.7,220.0h1M123.7,210.5h1M119.9,216.5h1M84.9,202.9h1M70.0,189.3h1M113.2,208.9h1M100.8,210.0h1M156.1,214.5h1M104.4,209.0h1M142.4,214.0h1M102.1,210.3h1M118.9,210.6h1M82.8,201.8h1M69.6,190.7h1M81.5,200.0h1M73.0,192.5h1M154.3,207.5h1M120.0,220.0h1M108.9,212.2h1M138.8,213.6h1M150.7,218.2h1M124.4,214.6h1M79.3,197.8h1M135.0,215.8h1M84.7,201.7h1M131.6,205.8h1M108.9,213.7h1M91.6,208.3h1M134.8,213.5h1M84.6,200.2h1M73.1,193.8h1M132.4,210.7h1M122.4,214.2h1M151.5,215.2h1M157.4,220.0h1M154.7,218.0h1M104.0,209.4h1M67.9,188.3h1M68.0,186.4h1M107.0,207.2h1M106.5,207.1h1M158.6,213.2h1M103.4,207.6h1M153.6,219.4h1M161.9,212.1h1M97.8,206.4h1M82.6,203.0h1M114.1,212.2h1M156.1,215.9h1M81.7,195.4h1M123.4,211.1h1M156.4,217.3h1M93.9,204.6h1M150.5,216.2h1M137.1,213.2h1M76.8,195.7h1M129.9,212.5h1M102.8,218.8h1M108.2,207.9h1M144.5,205.5h1M105.7,211.0h1M112.6,211.2h1M132.3,213.1h1M161.7,217.3h1M128.2,212.6h1M91.2,207.1h1M75.8,195.4h1M152.6,213.7h1M136.0,216.1h1M100.2,208.1h1M145.1,217.3h1M85.2,201.2h1M156.1,218.5h1M142.4,217.2h1M153.9,215.8h1M160.0,212.1h1M149.0,214.0h1M76.9,196.8h1M138.5,211.8h1M111.7,219.1h1M82.8,199.6h1M120.3,213.1h1M112.3,211.9h1M93.0,202.8h1M123.7,212.0h1M151.9,220.0h1M80.9,198.2h1M159.6,214.9h1M70.2,190.0h1M79.3,196.9h1M157.9,214.5h1M102.0,205.4h1M149.7,214.0h1M101.8,206.7h1M90.8,210.5h1M73.6,192.7h1M115.9,211.5h1M147.3,213.8h1M162.0,211.2h1M135.5,217.2h1M159.9,218.2h1M121.7,209.1h1M123.7,217.8h1M68.7,189.3h1M77.2,199.3h1M93.0,202.5h1M159.6,217.0h1M134.0,217.7h1M78.0,192.0h1M93.3,203.7h1M158.4,220.0h1M162.2,216.5h1M136.7,213.8h1M101.7,207.9h1M82.6,200.6h1M123.6,215.8h1M122.2,214.9h1M106.8,210.1h1M107.8,209.9h1M139.6,216.2h1M76.3,194.8h1M104.4,208.9h1M131.4,210.9h1M110.6,212.7h1M84.7,200.6h1M75.3,195.6h1M107.9,211.1h1M116.3,212.0h1M96.6,207.1h1M154.2,213.7h1M71.8,191.9h1M148.3,218.4h1M73.1,193.6h1M99.5,207.1h1M116.2,209.0h1M131.3,213.7h1M153.5,215.8h1M88.7,203.3h1M133.0,216.4h1M99.4,206.7h1M105.7,208.2h1M108.5,212.0h1M161.9,220.0h1M77.0,195.4h1M131.3,214.3h1M144.6,220.0h1M112.6,209.9h1M113.6,210.3h1M122.6,206.9h1M71.8,191.9h1M98.2,206.2h1M123.1,209.2h1M102.4,212.2h1M93.9,205.0h1M76.2,195.4h1M149.9,219.5h1M135.8,218.8h1M103.8,209.0h1M101.2,207.8h1M162.5,220.0h1M149.9,213.9h1M159.9,220.0h1M86.2,201.6h1M113.5,209.9h1M123.5,214.8h1M93.9,203.9h1M130.8,214.1h1M118.2,212.6h1M141.9,211.8h1M91.2,201.6h1M95.2,205.6h1M135.0,206.8h1M87.8,203.0h1M101.6,206.3h1M137.4,218.1h1M89.8,201.4h1M128.0,211.1h1M93.5,204.8h1M159.2,217.8h1M131.4,215.4h1M99.6,206.3h1M143.3,210.7h1M93.2,205.0h1M135.4,220.0h1M109.4,207.6h1M97.4,207.3h1M94.3,206.9h1M148.8,219.7h1M108.2,207.2h1M141.1,219.4h1M109.4,212.8h1M124.2,215.2h1M103.6,208.7h1M102.9,205.9h1M127.0,216.4h1M69.4,189.0h1M86.6,201.0h1M154.2,213.7h1M98.2,205.9h1M98.5,205.6h1M79.2,196.9h1M97.2,204.5h1M78.6,200.3h1M90.4,204.0h1M103.4,210.5h1M143.4,214.7h1M113.2,217.8h1M72.7,192.5h1M141.6,220.0h1M119.8,212.8h1M92.3,203.4h1M109.5,213.7h1M87.8,203.4h1M76.4,194.8h1M115.9,213.3h1M134.4,216.1h1M116.2,211.8h1M102.9,210.0h1M101.6,210.8h1M126.1,213.3h1M158.5,218.4h1M78.4,196.2h1M98.8,206.5h1M99.8,208.6h1M105.8,208.8h1M130.6,212.0h1M89.7,204.4h1M111.1,206.6h1M70.2,191.0h1M159.0,215.7h1M112.5,209.3h1M84.0,200.6h1M128.9,212.3h1M125.9,211.6h1M120.0,212.5h1M113.6,212.4h1M132.2,215.8h1M126.3,210.6h1M109.7,209.3h1M121.5,209.8h1M159.9,220.0h1M129.7,213.6h1M156.5,216.0h1M136.9,215.8h1M146.4,214.8h1M69.0,186.5h1M133.1,216.1h1M149.7,218.4h1M70.0,189.6h1M73.8,193.0h1M82.7,199.8h1M94.1,209.9h1M161.8,214.1h1M143.3,219.9h1M137.3,213.1h1M76.2,192.9h1M149.6,215.3h1M134.1,215.2h1M86.2,199.5h1M94.3,206.4h1M133.7,213.1h1M88.9,204.3h1M116.1,211.4h1M70.0,190.0h1M101.5,204.8h1M100.6,205.9h1M117.5,210.5h1M155.0,212.0h1M86.4,201.9h1M101.2,209.8h1M128.1,214.7h1M103.4,208.8h1M67.7,189.1h1M91.7,201.0h1M127.2,212.7h1M141.6,218.4h1M132.1,208.0h1M109.1,211.3h1M77.1,195.8h1M116.1,212.6h1M104.5,211.9h1M84.9,201.9h1M118.7,214.4h1M115.5,220.0h1M86.5,202.4h1M140.6,213.8h1M141.9,215.2h1M136.8,211.9h1M102.9,207.3h1M73.7,193.1h1M120.0,210.3h1M77.1,196.5h1M91.2,203.8h1M91.6,203.4h1M96.1,206.2h1M102.9,208.0h1M88.8,202.6h1M98.9,206.2h1M162.4,212.6h1M71.0,187.9h1M104.9,210.8h1M74.4,192.0h1M109.2,210.0h1M146.7,217.3h1M152.4,219.2h1M130.5,211.3h1M90.9,204.4h1M149.9,212.7h1M160.7,220.0h1M127.3,214.9h1M80.0,197.3h1M135.4,216.8h1M130.1,217.1h1M69.6,189.2h1M99.6,209.0h1M131.4,214.7h1M119.5,209.1h1M78.5,201.3h1M69.9,191.4h1M102.6,206.8h1M107.0,210.8h1M117.3,213.9h1M109.0,209.9h1M159.8,214.0h1M105.0,203.9h1M94.1,206.7h1M150.8,217.3h1M109.5,210.0h1M117.0,213.1h1M156.9,217.7h1M107.2,211.7h1M109.8,208.9h1M135.2,217.7h1M155.6,215.6h1M69.3,190.4h1M79.6,198.5h1M88.7,203.2h1M76.1,194.8h1M145.8,215.9h1M91.5,204.5h1M138.2,214.6h1M157.5,212.5h1M77.1,195.0h1M133.6,214.2h1M114.9,210.2h1M109.2,209.1h1M93.7,204.6h1M75.7,193.6h1M78.5,197.1h1M115.5,209.0h1M152.6,218.7h1M161.0,220.0h1M92.0,204.1h1M125.8,216.4h1M144.7,215.9h1M75.1,195.0h1M126.2,214.9h1M111.6,215.4h1M77.5,197.0h1M129.4,215.3h1M159.0,217.8h1M108.0,209.0h1M129.5,210.6h1M121.8,214.7h1M159.5,220.0h1M162.1,218.6h1M138.3,212.0h1M156.9,220.0h1M142.5,214.4h1M97.3,207.3h1M148.0,211.5h1" stroke="#333" stroke-width="0.80" fill="none"/>
<line x1="100.7" y1="138.9" x2="100.7" y2="189.0" stroke="#333" stroke-width="1.0"/>
<line x1="99.5" y1="188.6" x2="169.6" y2="188.6" stroke="#4a4a4a" stroke-width="1.3"/>
<line x1="99.4" y1="140.1" x2="100.7" y2="140.1" stroke="#444" stroke-width="0.7"/>
<text x="97.9" y="141.8" font-size="4.9" text-anchor="end" fill="#8a8a8a" textLength="5.6" lengthAdjust="spacingAndGlyphs">1.0</text>
<line x1="99.4" y1="164.3" x2="100.7" y2="164.3" stroke="#444" stroke-width="0.7"/>
<text x="97.9" y="166.1" font-size="4.9" text-anchor="end" fill="#8a8a8a" textLength="5.6" lengthAdjust="spacingAndGlyphs">0.5</text>
<line x1="99.4" y1="188.6" x2="100.7" y2="188.6" stroke="#444" stroke-width="0.7"/>
<text x="97.9" y="190.3" font-size="4.9" text-anchor="end" fill="#8a8a8a" textLength="5.6" lengthAdjust="spacingAndGlyphs">0.0</text>
<line x1="100.7" y1="188.6" x2="100.7" y2="189.9" stroke="#444" stroke-width="0.7"/>
<text x="100.7" y="195.6" font-size="4.9" text-anchor="middle" fill="#777" textLength="2.2" lengthAdjust="spacingAndGlyphs">0</text>
<line x1="113.5" y1="188.6" x2="113.5" y2="189.9" stroke="#444" stroke-width="0.7"/>
<text x="113.5" y="195.6" font-size="4.9" text-anchor="middle" fill="#777" textLength="4.4" lengthAdjust="spacingAndGlyphs">50</text>
<line x1="126.4" y1="188.6" x2="126.4" y2="189.9" stroke="#444" stroke-width="0.7"/>
<text x="126.4" y="195.6" font-size="4.9" text-anchor="middle" fill="#777" textLength="6.6" lengthAdjust="spacingAndGlyphs">100</text>
<line x1="139.2" y1="188.6" x2="139.2" y2="189.9" stroke="#444" stroke-width="0.7"/>
<text x="139.2" y="195.6" font-size="4.9" text-anchor="middle" fill="#777" textLength="6.6" lengthAdjust="spacingAndGlyphs">150</text>
<line x1="152.1" y1="188.6" x2="152.1" y2="189.9" stroke="#444" stroke-width="0.7"/>
<text x="152.1" y="195.6" font-size="4.9" text-anchor="middle" fill="#777" textLength="6.6" lengthAdjust="spacingAndGlyphs">200</text>
<line x1="164.9" y1="188.6" x2="164.9" y2="189.9" stroke="#444" stroke-width="0.7"/>
<text x="164.9" y="195.6" font-size="4.9" text-anchor="middle" fill="#777" textLength="6.6" lengthAdjust="spacingAndGlyphs">250</text>
<text x="132.8" y="204.0" font-size="6.2" text-anchor="middle" fill="#333">r(Å)</text>
<text transform="translate(86.5,164.0) rotate(-90)" x="0" y="2" font-size="5.6" text-anchor="middle" fill="#333">P(r)</text>
<path d="M100.70,188.60 C101.06,185.53 102.16,175.91 102.88,170.17 C103.61,164.43 104.34,158.53 105.07,154.16 C105.80,149.80 106.43,146.32 107.28,143.98 C108.13,141.64 109.21,140.50 110.18,140.10 C111.16,139.70 112.14,140.67 113.11,141.56 C114.09,142.44 115.07,143.62 116.04,145.44 C117.02,147.25 117.85,149.80 118.95,152.47 C120.04,155.13 121.38,158.73 122.60,161.44 C123.81,164.15 125.03,166.45 126.25,168.72 C127.46,170.98 128.68,172.84 129.90,175.02 C131.11,177.20 132.45,179.95 133.54,181.81 C134.64,183.67 135.50,185.04 136.47,186.17 C137.45,187.31 138.92,188.20 139.40,188.60" fill="none" stroke="#c23a50" stroke-width="1.05"/>
<path d="M100.70,188.60 C101.43,184.80 103.61,172.68 105.07,165.81 C106.53,158.93 108.22,151.42 109.44,147.38 C110.66,143.33 111.54,142.77 112.39,141.56 C113.25,140.34 113.49,140.10 114.58,140.10 C115.67,140.10 117.49,140.42 118.95,141.56 C120.40,142.69 121.86,144.79 123.32,146.89 C124.77,148.99 126.23,151.66 127.69,154.16 C129.14,156.67 130.60,159.50 132.05,161.92 C133.51,164.35 134.97,166.61 136.42,168.72 C137.88,170.82 139.34,172.59 140.79,174.53 C142.25,176.47 143.69,178.66 145.16,180.35 C146.63,182.05 148.15,183.55 149.61,184.72 C151.06,185.89 152.46,186.74 153.90,187.39 C155.34,188.03 157.54,188.40 158.27,188.60" fill="none" stroke="#3b5a92" stroke-width="1.05"/>
<path d="M100.70,188.60 C101.67,185.04 104.71,173.89 106.53,167.26 C108.36,160.63 110.19,152.95 111.65,148.83 C113.11,144.71 114.20,143.98 115.30,142.53 C116.39,141.07 117.01,140.10 118.23,140.10 C119.44,140.10 121.14,141.15 122.60,142.53 C124.06,143.90 125.53,146.16 126.99,148.34 C128.45,150.53 129.90,153.11 131.36,155.62 C132.82,158.13 134.29,160.95 135.75,163.38 C137.22,165.81 138.66,168.07 140.12,170.17 C141.58,172.27 142.94,174.21 144.52,175.99 C146.10,177.77 147.91,179.38 149.61,180.84 C151.31,182.30 153.26,183.63 154.72,184.72 C156.18,185.81 157.22,186.74 158.37,187.39 C159.52,188.03 161.07,188.40 161.61,188.60" fill="none" stroke="#5aa84a" stroke-width="1.05"/>
<line x1="203.6" y1="141.3" x2="203.6" y2="226.9" stroke="#333" stroke-width="1.1"/>
<line x1="200.4" y1="224.2" x2="336.5" y2="224.2" stroke="#4a4a4a" stroke-width="1.6"/>
<line x1="200.4" y1="144.1" x2="203.6" y2="144.1" stroke="#333" stroke-width="0.9"/>
<text x="197.6" y="146.2" font-size="6.5" text-anchor="end" fill="#1a1a1a" textLength="7.7" lengthAdjust="spacingAndGlyphs">3.5</text>
<line x1="200.4" y1="157.4" x2="203.6" y2="157.4" stroke="#333" stroke-width="0.9"/>
<text x="197.6" y="159.5" font-size="6.5" text-anchor="end" fill="#1a1a1a" textLength="7.7" lengthAdjust="spacingAndGlyphs">3.0</text>
<line x1="200.4" y1="170.7" x2="203.6" y2="170.7" stroke="#333" stroke-width="0.9"/>
<text x="197.6" y="172.8" font-size="6.5" text-anchor="end" fill="#1a1a1a" textLength="7.7" lengthAdjust="spacingAndGlyphs">2.5</text>
<line x1="200.4" y1="184.0" x2="203.6" y2="184.0" stroke="#333" stroke-width="0.9"/>
<text x="197.6" y="186.1" font-size="6.5" text-anchor="end" fill="#1a1a1a" textLength="7.7" lengthAdjust="spacingAndGlyphs">2.0</text>
<line x1="200.4" y1="197.3" x2="203.6" y2="197.3" stroke="#333" stroke-width="0.9"/>
<text x="197.6" y="199.4" font-size="6.5" text-anchor="end" fill="#1a1a1a" textLength="7.7" lengthAdjust="spacingAndGlyphs">1.5</text>
<line x1="200.4" y1="210.6" x2="203.6" y2="210.6" stroke="#333" stroke-width="0.9"/>
<text x="197.6" y="212.7" font-size="6.5" text-anchor="end" fill="#1a1a1a" textLength="7.7" lengthAdjust="spacingAndGlyphs">1.0</text>
<line x1="200.4" y1="223.9" x2="203.6" y2="223.9" stroke="#333" stroke-width="0.9"/>
<text x="197.6" y="226.0" font-size="6.5" text-anchor="end" fill="#1a1a1a" textLength="7.7" lengthAdjust="spacingAndGlyphs">0.5</text>
<line x1="203.6" y1="223.9" x2="203.6" y2="226.7" stroke="#333" stroke-width="0.9"/>
<text x="203.1" y="234.3" font-size="6.2" text-anchor="middle" fill="#222" textLength="10.6" lengthAdjust="spacingAndGlyphs">0.00</text>
<line x1="221.0" y1="223.9" x2="221.0" y2="226.7" stroke="#333" stroke-width="0.9"/>
<text x="221.0" y="234.3" font-size="6.2" text-anchor="middle" fill="#222" textLength="10.6" lengthAdjust="spacingAndGlyphs">0.05</text>
<line x1="239.7" y1="223.9" x2="239.7" y2="226.7" stroke="#333" stroke-width="0.9"/>
<text x="239.7" y="234.3" font-size="6.2" text-anchor="middle" fill="#222" textLength="10.6" lengthAdjust="spacingAndGlyphs">0.10</text>
<line x1="258.5" y1="223.9" x2="258.5" y2="226.7" stroke="#333" stroke-width="0.9"/>
<text x="258.5" y="234.3" font-size="6.2" text-anchor="middle" fill="#222" textLength="10.6" lengthAdjust="spacingAndGlyphs">0.15</text>
<line x1="277.2" y1="223.9" x2="277.2" y2="226.7" stroke="#333" stroke-width="0.9"/>
<text x="277.2" y="234.3" font-size="6.2" text-anchor="middle" fill="#222" textLength="10.6" lengthAdjust="spacingAndGlyphs">0.20</text>
<line x1="296.0" y1="223.9" x2="296.0" y2="226.7" stroke="#333" stroke-width="0.9"/>
<text x="296.0" y="234.3" font-size="6.2" text-anchor="middle" fill="#222" textLength="10.6" lengthAdjust="spacingAndGlyphs">0.25</text>
<line x1="314.7" y1="223.9" x2="314.7" y2="226.7" stroke="#333" stroke-width="0.9"/>
<text x="314.7" y="234.3" font-size="6.2" text-anchor="middle" fill="#222" textLength="10.6" lengthAdjust="spacingAndGlyphs">0.30</text>
<line x1="332.9" y1="223.9" x2="332.9" y2="226.7" stroke="#333" stroke-width="0.9"/>
<text x="332.9" y="234.3" font-size="6.2" text-anchor="middle" fill="#222" textLength="10.6" lengthAdjust="spacingAndGlyphs">0.35</text>
<text x="269.4" y="247.4" font-size="7.9" text-anchor="middle" fill="#1a1a1a">s (nm<tspan font-size="4.9" dy="-3.3">-1</tspan><tspan dy="3.3">)</tspan></text>
<text transform="translate(183.0,182.0) rotate(-90)" x="0" y="3" font-size="8.8" text-anchor="middle" fill="#1a1a1a" textLength="21.6" lengthAdjust="spacingAndGlyphs">Log (I)</text>
<text x="209.8" y="216.6" font-size="5.4" fill="#1a1a1a" textLength="17.4" lengthAdjust="spacingAndGlyphs">delT8Lq</text>
<path d="M207.30,145.60 C207.63,146.04 208.63,147.17 209.30,148.22 C209.97,149.27 210.63,150.62 211.30,151.89 C211.97,153.16 212.63,154.54 213.30,155.83 C213.97,157.12 214.63,158.39 215.30,159.63 C215.97,160.87 216.63,162.09 217.30,163.25 C217.97,164.41 218.63,165.55 219.30,166.61 C219.97,167.67 220.63,168.65 221.30,169.63 C221.97,170.62 222.63,171.55 223.30,172.50 C223.97,173.45 224.63,174.38 225.30,175.35 C225.97,176.32 226.63,177.34 227.30,178.31 C227.97,179.28 228.63,180.29 229.30,181.18 C229.97,182.06 230.63,182.87 231.30,183.63 C231.97,184.40 232.63,185.09 233.30,185.77 C233.97,186.45 234.63,187.08 235.30,187.72 C235.97,188.35 236.63,188.97 237.30,189.60 C237.97,190.23 238.63,190.86 239.30,191.48 C239.97,192.10 240.63,192.72 241.30,193.33 C241.97,193.94 242.63,194.55 243.30,195.14 C243.97,195.73 244.63,196.31 245.30,196.88 C245.97,197.44 246.63,197.99 247.30,198.53 C247.97,199.06 248.97,199.82 249.30,200.08" fill="none" stroke="#111" stroke-width="1.3" stroke-linejoin="round" stroke-linecap="round"/>
<path d="M243.30,195.14 C243.63,195.43 244.63,196.31 245.30,196.88 C245.97,197.44 246.63,197.99 247.30,198.53 C247.97,199.06 248.63,199.58 249.30,200.08 C249.97,200.57 250.63,201.06 251.30,201.52 C251.97,201.98 252.63,202.43 253.30,202.85 C253.97,203.27 254.63,203.68 255.30,204.04 C255.97,204.40 256.63,204.72 257.30,205.02 C257.97,205.31 258.63,205.57 259.30,205.82 C259.97,206.07 260.63,206.31 261.30,206.53 C261.97,206.75 262.63,206.96 263.30,207.15 C263.97,207.34 264.63,207.52 265.30,207.67 C265.97,207.83 266.63,207.97 267.30,208.10 C267.97,208.23 268.63,208.35 269.30,208.47 C269.97,208.60 270.63,208.72 271.30,208.83 C271.97,208.94 272.63,209.05 273.30,209.16 C273.97,209.26 274.63,209.36 275.30,209.46 C275.97,209.56 276.63,209.65 277.30,209.74 C277.97,209.84 278.63,209.93 279.30,210.02 C279.97,210.12 280.63,210.21 281.30,210.30 C281.97,210.39 282.63,210.48 283.30,210.57 C283.97,210.66 284.63,210.75 285.30,210.84 C285.97,210.93 286.63,211.02 287.30,211.11 C287.97,211.20 288.63,211.29 289.30,211.38 C289.97,211.47 290.63,211.56 291.30,211.64 C291.97,211.73 292.63,211.82 293.30,211.91 C293.97,212.00 294.63,212.09 295.30,212.18 C295.97,212.27 296.63,212.36 297.30,212.46 C297.97,212.55 298.63,212.64 299.30,212.73 C299.97,212.83 300.63,212.92 301.30,213.01 C301.97,213.11 302.63,213.20 303.30,213.29 C303.97,213.39 304.63,213.48 305.30,213.58 C305.97,213.67 306.63,213.77 307.30,213.86 C307.97,213.96 308.63,214.05 309.30,214.14 C309.97,214.24 310.63,214.33 311.30,214.43 C311.97,214.52 312.63,214.61 313.30,214.70 C313.97,214.80 314.63,214.89 315.30,214.98 C315.97,215.07 316.63,215.16 317.30,215.26 C317.97,215.35 318.63,215.44 319.30,215.54 C319.97,215.63 320.63,215.73 321.30,215.82 C321.97,215.92 322.63,216.02 323.30,216.13 C323.97,216.23 324.63,216.34 325.30,216.45 C325.97,216.57 326.63,216.68 327.30,216.81 C327.97,216.94 328.63,217.10 329.30,217.23 C329.97,217.35 330.87,217.50 331.30,217.58 C331.73,217.66 331.80,217.68 331.90,217.70" fill="none" stroke="#111" stroke-width="0.75" stroke-linejoin="round" stroke-linecap="round"/>
<path d="M258.5,205.2h1M273.1,208.9h1M257.1,205.6h1M272.4,213.1h1M270.1,208.6h1M281.8,210.5h1M244.6,196.7h1M327.9,217.1h1M265.7,209.0h1M294.7,213.4h1M265.1,208.6h1M330.5,216.8h1M254.5,206.1h1M314.7,215.3h1M291.8,213.7h1M266.9,209.0h1M260.3,203.8h1M298.7,211.6h1M324.5,213.3h1M325.1,215.8h1M252.5,202.2h1M300.3,209.8h1M325.9,212.6h1M310.3,214.9h1M253.2,203.2h1M303.6,211.2h1M254.7,203.4h1M327.0,217.0h1M282.7,209.5h1M328.9,216.4h1M250.2,201.8h1M279.7,210.4h1M279.9,210.7h1M264.4,206.5h1M286.7,210.2h1M271.9,208.1h1M331.1,217.5h1M251.7,202.2h1M280.7,208.3h1M317.1,211.1h1M294.5,211.4h1M298.1,213.4h1M291.2,210.4h1M252.5,202.7h1M313.9,216.5h1M320.1,219.0h1M310.2,216.0h1M267.8,206.3h1M316.1,215.2h1M276.8,211.1h1M310.4,213.4h1M325.1,218.5h1M323.8,216.7h1M283.9,210.7h1M307.4,211.3h1M299.3,211.7h1M305.5,216.5h1M320.5,215.9h1M313.0,213.0h1M264.4,206.3h1M263.4,204.9h1M272.1,208.8h1M327.4,219.8h1M288.9,211.1h1M273.9,210.6h1M311.5,218.4h1M245.1,195.9h1M257.8,205.6h1M278.4,210.3h1M272.5,208.9h1M255.3,204.0h1M254.2,201.8h1M288.1,212.3h1M262.6,204.1h1M314.7,218.3h1M316.1,215.2h1M310.9,210.2h1M330.1,214.8h1M316.8,213.1h1M303.7,217.8h1M293.3,212.0h1M255.4,206.2h1M321.7,215.1h1M254.2,201.6h1M310.9,215.5h1M311.3,215.3h1M315.2,216.2h1M320.8,216.8h1M250.0,202.6h1M250.8,202.1h1M301.8,210.3h1M246.2,198.4h1M264.8,207.0h1M290.2,209.4h1M254.7,203.8h1M308.5,215.3h1M272.1,210.0h1M285.7,209.7h1M324.5,211.7h1M319.3,216.3h1M266.2,206.5h1M257.3,205.2h1M330.6,214.8h1M321.9,218.3h1M254.4,203.7h1M301.5,209.8h1M288.8,210.1h1M323.7,217.7h1M324.9,217.4h1M324.5,216.2h1M320.2,216.1h1M318.0,215.4h1M276.4,210.5h1M284.7,212.7h1M260.8,206.4h1M329.5,216.5h1M276.5,207.7h1M326.6,215.0h1M275.6,210.7h1M294.8,212.9h1M329.9,216.2h1M258.6,207.1h1M295.4,211.4h1M271.2,209.2h1M282.7,209.0h1M248.2,199.5h1M273.9,210.5h1M312.1,213.8h1M290.7,212.1h1M302.2,213.3h1M276.9,210.6h1M249.4,200.0h1M301.0,214.6h1M246.5,198.7h1M298.5,211.7h1M259.8,206.4h1M315.2,214.7h1M314.4,213.4h1M301.0,212.2h1M329.1,216.8h1M290.3,212.5h1M263.8,208.4h1M244.6,197.4h1M306.7,211.9h1M263.9,206.6h1M274.3,212.7h1M293.9,214.8h1M330.2,217.3h1M320.6,214.1h1M311.2,214.0h1M261.8,204.1h1M286.5,210.4h1M311.3,214.4h1M266.3,208.0h1M310.7,212.0h1M302.3,214.0h1M290.5,211.5h1M270.8,208.2h1M251.9,202.2h1M258.7,203.7h1M253.8,203.8h1M265.6,208.2h1M267.2,209.6h1M309.4,213.7h1M292.8,215.0h1M244.7,196.3h1M271.7,207.1h1M245.6,198.6h1M270.7,209.4h1M262.1,206.6h1M275.8,209.9h1M294.3,213.0h1M270.3,209.0h1M273.7,205.9h1M313.1,213.3h1M255.3,204.5h1M297.0,215.0h1M246.5,197.1h1M264.4,208.0h1M287.3,210.2h1M260.4,204.4h1M260.0,208.4h1M247.1,199.0h1M289.9,212.0h1M313.4,212.5h1M254.6,203.0h1M310.7,215.7h1M278.5,209.1h1M273.7,210.4h1M291.5,210.6h1M253.8,203.8h1M296.3,210.2h1M327.7,217.6h1M271.4,207.4h1M279.6,215.3h1M277.3,211.2h1M285.0,209.9h1M245.7,198.3h1M250.5,200.7h1M329.1,213.5h1M327.6,216.1h1M296.8,210.3h1M324.7,213.7h1M267.7,207.3h1M324.7,217.4h1M330.9,218.2h1M262.0,207.9h1M294.7,211.0h1M279.8,212.6h1M248.5,199.9h1M252.7,204.0h1M247.2,198.1h1M286.8,212.0h1M314.0,216.4h1M320.5,215.7h1M283.9,211.6h1M293.6,208.7h1M330.4,217.3h1M245.0,196.9h1M280.3,210.7h1M324.4,218.4h1M307.7,210.5h1M270.0,209.4h1M295.8,215.8h1M258.2,206.2h1M329.5,214.3h1M262.0,206.7h1M300.5,208.0h1M288.9,213.0h1M301.2,212.1h1M286.9,209.9h1M280.9,210.1h1M281.5,209.7h1M281.0,211.2h1M328.9,220.2h1M278.2,210.1h1M295.5,212.3h1M320.3,216.4h1M268.6,208.3h1M322.0,217.2h1M264.7,207.2h1M284.8,208.8h1M264.0,209.8h1M253.6,202.3h1M330.1,215.3h1M248.8,200.3h1M249.5,199.9h1M321.9,212.3h1M297.7,211.4h1M265.4,206.8h1M307.7,214.2h1M293.9,213.3h1M282.1,212.1h1M272.6,212.2h1M327.2,216.2h1M279.6,209.8h1M299.6,213.6h1M292.8,212.0h1M270.4,209.7h1M265.9,207.3h1M267.7,209.1h1M282.1,212.0h1M258.0,205.9h1M272.7,209.6h1M310.3,212.8h1M311.6,215.1h1M280.9,210.3h1M289.7,215.0h1M277.0,211.2h1M275.1,211.1h1M284.0,210.9h1M273.1,209.8h1M291.3,211.4h1M249.6,200.0h1M262.1,205.5h1M265.3,207.6h1M268.1,208.8h1M304.9,208.2h1M301.0,213.9h1M266.2,208.1h1M315.8,214.0h1M329.8,218.7h1M273.5,210.0h1M318.0,215.3h1M300.9,214.0h1M252.4,202.2h1M314.3,211.6h1M268.3,207.3h1M251.1,203.5h1M274.3,209.8h1M281.8,210.5h1M298.8,213.6h1M288.4,211.7h1M258.8,205.6h1M288.7,209.5h1M322.1,215.1h1M247.2,199.9h1M256.1,204.7h1M312.2,213.8h1M304.1,216.3h1M303.8,211.9h1M301.4,213.6h1M255.3,204.0h1M277.4,210.1h1M292.0,212.0h1M272.5,208.3h1M319.5,216.1h1M312.7,212.7h1M253.8,204.6h1M271.8,210.1h1M290.8,211.0h1M313.5,208.8h1M271.4,209.0h1M276.2,208.1h1M257.0,202.3h1M273.4,209.7h1M288.6,213.2h1M304.5,212.6h1M319.2,212.3h1M267.6,207.6h1M313.9,215.8h1M328.3,217.7h1M314.7,213.0h1M279.6,209.7h1M251.4,202.5h1M302.6,213.7h1M314.4,215.4h1M244.4,196.5h1M312.0,211.9h1M257.2,204.9h1M322.7,212.6h1M267.9,209.6h1M312.3,213.8h1M286.3,214.9h1M275.5,208.6h1M293.0,209.1h1M290.0,217.2h1M306.3,213.9h1M318.2,214.0h1M315.9,217.4h1M330.9,218.5h1M250.2,201.2h1M271.8,208.6h1M323.4,216.7h1M292.6,211.3h1M274.0,212.0h1M327.5,217.7h1M254.4,203.5h1M254.6,205.2h1M327.8,216.7h1M263.0,207.2h1M289.9,212.0h1M302.7,212.3h1M308.1,213.3h1M306.3,212.6h1M247.0,198.8h1M297.7,214.4h1M318.5,209.7h1M286.4,210.8h1M330.0,220.5h1M244.0,195.8h1M253.4,204.8h1M273.2,208.4h1M259.0,207.1h1M295.3,215.6h1M307.9,215.6h1M325.8,212.0h1M290.5,218.7h1M265.8,208.5h1M292.8,211.6h1M294.3,217.6h1M266.1,206.7h1M245.1,197.5h1M275.8,209.3h1M264.3,207.1h1M324.4,215.7h1M304.7,213.9h1M331.2,218.9h1M283.8,216.3h1M290.3,211.0h1M289.1,210.9h1M317.6,212.9h1M292.6,213.6h1M245.7,198.6h1M294.0,213.3h1M259.8,205.8h1M295.5,212.9h1M306.2,213.8h1M266.0,210.4h1M258.8,204.6h1M309.8,214.1h1M281.4,210.5h1M295.2,212.5h1M304.5,214.1h1M263.1,208.0h1" stroke="#222" stroke-width="0.90" fill="none"/>
<line x1="264.6" y1="142.4" x2="264.6" y2="192.5" stroke="#333" stroke-width="1.0"/>
<line x1="263.4" y1="192.1" x2="332.0" y2="192.1" stroke="#4a4a4a" stroke-width="1.3"/>
<line x1="263.3" y1="143.6" x2="264.6" y2="143.6" stroke="#444" stroke-width="0.7"/>
<text x="261.8" y="145.3" font-size="4.9" text-anchor="end" fill="#8a8a8a" textLength="5.6" lengthAdjust="spacingAndGlyphs">1.0</text>
<line x1="263.3" y1="167.8" x2="264.6" y2="167.8" stroke="#444" stroke-width="0.7"/>
<text x="261.8" y="169.6" font-size="4.9" text-anchor="end" fill="#8a8a8a" textLength="5.6" lengthAdjust="spacingAndGlyphs">0.5</text>
<line x1="263.3" y1="192.1" x2="264.6" y2="192.1" stroke="#444" stroke-width="0.7"/>
<text x="261.8" y="193.8" font-size="4.9" text-anchor="end" fill="#8a8a8a" textLength="5.6" lengthAdjust="spacingAndGlyphs">0.0</text>
<line x1="264.6" y1="192.1" x2="264.6" y2="193.4" stroke="#444" stroke-width="0.7"/>
<text x="264.6" y="199.1" font-size="4.9" text-anchor="middle" fill="#777" textLength="2.2" lengthAdjust="spacingAndGlyphs">0</text>
<line x1="277.2" y1="192.1" x2="277.2" y2="193.4" stroke="#444" stroke-width="0.7"/>
<text x="277.2" y="199.1" font-size="4.9" text-anchor="middle" fill="#777" textLength="4.4" lengthAdjust="spacingAndGlyphs">50</text>
<line x1="289.9" y1="192.1" x2="289.9" y2="193.4" stroke="#444" stroke-width="0.7"/>
<text x="289.9" y="199.1" font-size="4.9" text-anchor="middle" fill="#777" textLength="6.6" lengthAdjust="spacingAndGlyphs">100</text>
<line x1="302.6" y1="192.1" x2="302.6" y2="193.4" stroke="#444" stroke-width="0.7"/>
<text x="302.6" y="199.1" font-size="4.9" text-anchor="middle" fill="#777" textLength="6.6" lengthAdjust="spacingAndGlyphs">150</text>
<line x1="315.2" y1="192.1" x2="315.2" y2="193.4" stroke="#444" stroke-width="0.7"/>
<text x="315.2" y="199.1" font-size="4.9" text-anchor="middle" fill="#777" textLength="6.6" lengthAdjust="spacingAndGlyphs">200</text>
<line x1="327.9" y1="192.1" x2="327.9" y2="193.4" stroke="#444" stroke-width="0.7"/>
<text x="327.9" y="199.1" font-size="4.9" text-anchor="middle" fill="#777" textLength="6.6" lengthAdjust="spacingAndGlyphs">250</text>
<text x="298.0" y="207.5" font-size="6.2" text-anchor="middle" fill="#333">r(Å)</text>
<text transform="translate(250.5,167.0) rotate(-90)" x="0" y="2" font-size="5.6" text-anchor="middle" fill="#333">P(r)</text>
<path d="M264.60,192.10 C264.92,188.95 265.81,179.25 266.50,173.19 C267.18,167.12 267.97,160.25 268.70,155.72 C269.43,151.20 270.02,148.05 270.87,146.03 C271.73,144.00 272.84,143.68 273.81,143.60 C274.78,143.52 275.74,144.49 276.72,145.54 C277.69,146.59 278.56,147.72 279.65,149.91 C280.75,152.09 282.08,155.64 283.30,158.63 C284.51,161.63 285.72,165.34 286.94,167.85 C288.16,170.36 289.39,171.57 290.61,173.67 C291.83,175.77 293.04,178.36 294.25,180.46 C295.47,182.56 296.55,184.34 297.89,186.28 C299.24,188.22 301.56,191.13 302.30,192.10" fill="none" stroke="#c23a50" stroke-width="1.05"/>
<path d="M264.60,192.10 C265.28,188.46 267.29,177.06 268.70,170.28 C270.11,163.49 271.86,155.64 273.08,151.36 C274.29,147.08 275.13,145.86 275.99,144.57 C276.84,143.28 277.09,143.60 278.19,143.60 C279.28,143.60 281.10,143.68 282.56,144.57 C284.02,145.46 285.48,147.08 286.94,148.94 C288.40,150.79 289.88,153.06 291.34,155.72 C292.81,158.39 294.26,162.19 295.72,164.94 C297.18,167.69 298.64,170.03 300.10,172.22 C301.55,174.40 303.01,176.18 304.47,178.03 C305.94,179.89 307.41,181.75 308.88,183.37 C310.34,184.99 311.79,186.52 313.25,187.73 C314.71,188.95 316.29,189.92 317.63,190.64 C318.97,191.37 320.66,191.86 321.27,192.10" fill="none" stroke="#3b5a92" stroke-width="1.05"/>
<path d="M264.60,192.10 C265.52,188.70 268.37,178.52 270.14,171.73 C271.92,164.94 273.91,155.72 275.25,151.36 C276.59,146.99 277.21,146.83 278.19,145.54 C279.16,144.25 279.88,143.60 281.10,143.60 C282.31,143.60 284.03,144.41 285.50,145.54 C286.97,146.67 288.44,148.37 289.90,150.39 C291.36,152.41 292.80,155.00 294.25,157.66 C295.71,160.33 297.17,163.81 298.63,166.39 C300.09,168.98 301.54,171.08 303.01,173.19 C304.47,175.29 305.82,177.23 307.41,179.00 C308.99,180.78 310.69,182.40 312.52,183.85 C314.34,185.31 316.54,186.60 318.36,187.73 C320.19,188.87 321.77,189.92 323.47,190.64 C325.18,191.37 327.73,191.86 328.58,192.10" fill="none" stroke="#5aa84a" stroke-width="1.05"/>
<line x1="373.6" y1="141.3" x2="373.6" y2="226.9" stroke="#333" stroke-width="1.1"/>
<line x1="370.4" y1="224.2" x2="506.5" y2="224.2" stroke="#4a4a4a" stroke-width="1.6"/>
<line x1="370.4" y1="144.1" x2="373.6" y2="144.1" stroke="#333" stroke-width="0.9"/>
<text x="367.6" y="146.2" font-size="6.5" text-anchor="end" fill="#1a1a1a" textLength="7.7" lengthAdjust="spacingAndGlyphs">3.5</text>
<line x1="370.4" y1="157.4" x2="373.6" y2="157.4" stroke="#333" stroke-width="0.9"/>
<text x="367.6" y="159.5" font-size="6.5" text-anchor="end" fill="#1a1a1a" textLength="7.7" lengthAdjust="spacingAndGlyphs">3.0</text>
<line x1="370.4" y1="170.7" x2="373.6" y2="170.7" stroke="#333" stroke-width="0.9"/>
<text x="367.6" y="172.8" font-size="6.5" text-anchor="end" fill="#1a1a1a" textLength="7.7" lengthAdjust="spacingAndGlyphs">2.5</text>
<line x1="370.4" y1="184.0" x2="373.6" y2="184.0" stroke="#333" stroke-width="0.9"/>
<text x="367.6" y="186.1" font-size="6.5" text-anchor="end" fill="#1a1a1a" textLength="7.7" lengthAdjust="spacingAndGlyphs">2.0</text>
<line x1="370.4" y1="197.3" x2="373.6" y2="197.3" stroke="#333" stroke-width="0.9"/>
<text x="367.6" y="199.4" font-size="6.5" text-anchor="end" fill="#1a1a1a" textLength="7.7" lengthAdjust="spacingAndGlyphs">1.5</text>
<line x1="370.4" y1="210.6" x2="373.6" y2="210.6" stroke="#333" stroke-width="0.9"/>
<text x="367.6" y="212.7" font-size="6.5" text-anchor="end" fill="#1a1a1a" textLength="7.7" lengthAdjust="spacingAndGlyphs">1.0</text>
<line x1="370.4" y1="223.9" x2="373.6" y2="223.9" stroke="#333" stroke-width="0.9"/>
<text x="367.6" y="226.0" font-size="6.5" text-anchor="end" fill="#1a1a1a" textLength="7.7" lengthAdjust="spacingAndGlyphs">0.5</text>
<line x1="373.6" y1="223.9" x2="373.6" y2="226.7" stroke="#333" stroke-width="0.9"/>
<text x="373.1" y="234.3" font-size="6.2" text-anchor="middle" fill="#222" textLength="10.6" lengthAdjust="spacingAndGlyphs">0.00</text>
<line x1="391.5" y1="223.9" x2="391.5" y2="226.7" stroke="#333" stroke-width="0.9"/>
<text x="391.5" y="234.3" font-size="6.2" text-anchor="middle" fill="#222" textLength="10.6" lengthAdjust="spacingAndGlyphs">0.05</text>
<line x1="410.3" y1="223.9" x2="410.3" y2="226.7" stroke="#333" stroke-width="0.9"/>
<text x="410.3" y="234.3" font-size="6.2" text-anchor="middle" fill="#222" textLength="10.6" lengthAdjust="spacingAndGlyphs">0.10</text>
<line x1="429.0" y1="223.9" x2="429.0" y2="226.7" stroke="#333" stroke-width="0.9"/>
<text x="429.0" y="234.3" font-size="6.2" text-anchor="middle" fill="#222" textLength="10.6" lengthAdjust="spacingAndGlyphs">0.15</text>
<line x1="447.8" y1="223.9" x2="447.8" y2="226.7" stroke="#333" stroke-width="0.9"/>
<text x="447.8" y="234.3" font-size="6.2" text-anchor="middle" fill="#222" textLength="10.6" lengthAdjust="spacingAndGlyphs">0.20</text>
<line x1="466.5" y1="223.9" x2="466.5" y2="226.7" stroke="#333" stroke-width="0.9"/>
<text x="466.5" y="234.3" font-size="6.2" text-anchor="middle" fill="#222" textLength="10.6" lengthAdjust="spacingAndGlyphs">0.25</text>
<line x1="485.6" y1="223.9" x2="485.6" y2="226.7" stroke="#333" stroke-width="0.9"/>
<text x="485.6" y="234.3" font-size="6.2" text-anchor="middle" fill="#222" textLength="10.6" lengthAdjust="spacingAndGlyphs">0.30</text>
<line x1="504.0" y1="223.9" x2="504.0" y2="226.7" stroke="#333" stroke-width="0.9"/>
<text x="504.0" y="234.3" font-size="6.2" text-anchor="middle" fill="#222" textLength="10.6" lengthAdjust="spacingAndGlyphs">0.35</text>
<text x="440.5" y="247.4" font-size="7.9" text-anchor="middle" fill="#1a1a1a">s (nm<tspan font-size="4.9" dy="-3.3">-1</tspan><tspan dy="3.3">)</tspan></text>
<text transform="translate(352.0,182.0) rotate(-90)" x="0" y="3" font-size="8.8" text-anchor="middle" fill="#1a1a1a" textLength="21.6" lengthAdjust="spacingAndGlyphs">Log (I)</text>
<text x="379.0" y="216.6" font-size="5.4" fill="#1a1a1a" textLength="17.3" lengthAdjust="spacingAndGlyphs">delT2-7</text>
<path d="M376.80,144.30 C377.13,144.71 378.13,145.88 378.80,146.74 C379.47,147.59 380.13,148.46 380.80,149.42 C381.47,150.38 382.13,151.42 382.80,152.50 C383.47,153.57 384.13,154.72 384.80,155.85 C385.47,156.98 386.13,158.12 386.80,159.27 C387.47,160.43 388.13,161.59 388.80,162.77 C389.47,163.95 390.13,165.17 390.80,166.35 C391.47,167.54 392.13,168.73 392.80,169.88 C393.47,171.02 394.13,172.13 394.80,173.21 C395.47,174.28 396.13,175.30 396.80,176.33 C397.47,177.36 398.13,178.38 398.80,179.39 C399.47,180.40 400.13,181.41 400.80,182.38 C401.47,183.35 402.13,184.31 402.80,185.22 C403.47,186.13 404.13,187.01 404.80,187.85 C405.47,188.68 406.13,189.47 406.80,190.23 C407.47,190.99 408.13,191.71 408.80,192.43 C409.47,193.14 410.13,193.84 410.80,194.51 C411.47,195.19 412.13,195.85 412.80,196.49 C413.47,197.13 414.13,197.75 414.80,198.33 C415.47,198.92 416.13,199.49 416.80,200.03 C417.47,200.56 418.13,201.07 418.80,201.55 C419.47,202.02 420.13,202.46 420.80,202.87 C421.47,203.28 422.47,203.82 422.80,204.01" fill="none" stroke="#111" stroke-width="1.3" stroke-linejoin="round" stroke-linecap="round"/>
<path d="M416.80,200.03 C417.13,200.28 418.13,201.07 418.80,201.55 C419.47,202.02 420.13,202.46 420.80,202.87 C421.47,203.28 422.13,203.65 422.80,204.01 C423.47,204.36 424.13,204.68 424.80,204.99 C425.47,205.29 426.13,205.56 426.80,205.83 C427.47,206.09 428.13,206.33 428.80,206.55 C429.47,206.78 430.13,206.99 430.80,207.19 C431.47,207.39 432.13,207.58 432.80,207.77 C433.47,207.96 434.13,208.14 434.80,208.31 C435.47,208.49 436.13,208.66 436.80,208.80 C437.47,208.95 438.13,209.08 438.80,209.20 C439.47,209.32 440.13,209.41 440.80,209.50 C441.47,209.60 442.13,209.69 442.80,209.79 C443.47,209.88 444.13,209.98 444.80,210.07 C445.47,210.17 446.13,210.26 446.80,210.35 C447.47,210.45 448.13,210.54 448.80,210.64 C449.47,210.73 450.13,210.82 450.80,210.92 C451.47,211.01 452.13,211.11 452.80,211.20 C453.47,211.30 454.13,211.39 454.80,211.49 C455.47,211.58 456.13,211.68 456.80,211.78 C457.47,211.87 458.13,211.97 458.80,212.07 C459.47,212.16 460.13,212.26 460.80,212.36 C461.47,212.45 462.13,212.55 462.80,212.64 C463.47,212.73 464.13,212.83 464.80,212.92 C465.47,213.01 466.13,213.10 466.80,213.19 C467.47,213.27 468.13,213.36 468.80,213.44 C469.47,213.53 470.13,213.61 470.80,213.70 C471.47,213.78 472.13,213.86 472.80,213.95 C473.47,214.03 474.13,214.11 474.80,214.18 C475.47,214.26 476.13,214.34 476.80,214.41 C477.47,214.49 478.13,214.56 478.80,214.63 C479.47,214.70 480.13,214.77 480.80,214.83 C481.47,214.90 482.13,214.96 482.80,215.02 C483.47,215.08 484.13,215.13 484.80,215.19 C485.47,215.24 486.13,215.29 486.80,215.34 C487.47,215.40 488.13,215.45 488.80,215.50 C489.47,215.55 490.13,215.60 490.80,215.65 C491.47,215.70 492.13,215.76 492.80,215.82 C493.47,215.87 494.13,215.94 494.80,216.00 C495.47,216.07 496.13,216.14 496.80,216.21 C497.47,216.28 498.13,216.37 498.80,216.44 C499.47,216.52 500.28,216.62 500.80,216.68 C501.32,216.74 501.72,216.78 501.90,216.80" fill="none" stroke="#111" stroke-width="1.20" stroke-linejoin="round" stroke-linecap="round"/>
<path d="M444.0,210.0h1M431.1,207.4h1M484.3,214.9h1M426.0,205.2h1M426.3,206.1h1M473.7,214.4h1M481.1,215.2h1M457.1,211.7h1M433.1,207.8h1M463.6,213.6h1M445.1,210.2h1M470.4,213.7h1M501.3,217.3h1M496.3,215.8h1M434.6,208.0h1M500.1,216.5h1M480.0,215.1h1M495.5,216.3h1M420.6,203.0h1M419.8,202.4h1M489.3,215.4h1M498.0,216.1h1M439.6,209.0h1M417.8,201.0h1M459.5,212.8h1M442.6,209.9h1M482.9,214.9h1M461.5,211.7h1M494.6,216.9h1M479.2,214.8h1M487.2,215.5h1M470.4,213.6h1M462.1,213.3h1M446.1,211.0h1M493.3,216.7h1M417.9,201.5h1M485.4,216.0h1M483.9,215.3h1M488.2,215.5h1M460.8,212.5h1M444.8,210.0h1M500.0,216.7h1M466.2,212.1h1M482.5,215.3h1M480.5,214.8h1M444.7,210.2h1M454.0,211.4h1M501.2,216.6h1M481.9,214.6h1M452.2,210.8h1M443.4,208.9h1M479.4,214.4h1M423.9,205.0h1M443.6,210.4h1M478.9,214.8h1M434.8,208.7h1M436.6,208.6h1M450.6,211.3h1M470.6,214.8h1M431.9,207.6h1M442.9,209.9h1M457.9,211.3h1M466.6,212.8h1M448.2,211.1h1M428.1,206.4h1M436.1,208.8h1M459.0,212.2h1M439.2,209.3h1M439.3,209.4h1M444.7,210.0h1M419.1,202.4h1M479.4,215.0h1M493.1,215.9h1M434.7,208.6h1M459.5,212.2h1M427.3,206.0h1M470.2,213.4h1M449.2,211.3h1M490.1,215.8h1M423.9,205.0h1M434.3,208.7h1M486.2,214.1h1M439.3,209.7h1M474.0,214.0h1M484.3,215.3h1M428.9,206.5h1M461.5,211.9h1M480.6,214.7h1M437.8,209.1h1M424.0,205.1h1M424.9,205.0h1M467.1,213.4h1M465.0,213.0h1M424.2,205.0h1M461.9,213.0h1M496.9,215.9h1M487.9,215.9h1M482.1,214.9h1M498.0,215.4h1M481.3,214.6h1M436.9,208.7h1M436.1,208.2h1M476.8,214.5h1M500.5,216.9h1M473.6,213.9h1M496.4,216.2h1M456.9,211.9h1M443.4,209.8h1M431.9,207.7h1M446.7,210.2h1M428.7,206.6h1M464.4,212.8h1M444.3,210.6h1M458.9,212.5h1M434.8,208.4h1M451.0,211.3h1M465.8,213.0h1M471.4,214.0h1M420.5,202.6h1M462.3,213.1h1M448.9,210.9h1M441.3,209.4h1M492.5,216.0h1M440.2,209.6h1M435.2,208.5h1" stroke="#222" stroke-width="0.90" fill="none"/>
<line x1="435.6" y1="142.4" x2="435.6" y2="192.5" stroke="#333" stroke-width="1.0"/>
<line x1="434.4" y1="192.1" x2="505.8" y2="192.1" stroke="#4a4a4a" stroke-width="1.3"/>
<line x1="434.3" y1="143.6" x2="435.6" y2="143.6" stroke="#444" stroke-width="0.7"/>
<text x="432.8" y="145.3" font-size="4.9" text-anchor="end" fill="#8a8a8a" textLength="5.6" lengthAdjust="spacingAndGlyphs">1.0</text>
<line x1="434.3" y1="167.8" x2="435.6" y2="167.8" stroke="#444" stroke-width="0.7"/>
<text x="432.8" y="169.6" font-size="4.9" text-anchor="end" fill="#8a8a8a" textLength="5.6" lengthAdjust="spacingAndGlyphs">0.5</text>
<line x1="434.3" y1="192.1" x2="435.6" y2="192.1" stroke="#444" stroke-width="0.7"/>
<text x="432.8" y="193.8" font-size="4.9" text-anchor="end" fill="#8a8a8a" textLength="5.6" lengthAdjust="spacingAndGlyphs">0.0</text>
<line x1="435.6" y1="192.1" x2="435.6" y2="193.4" stroke="#444" stroke-width="0.7"/>
<text x="435.6" y="199.1" font-size="4.9" text-anchor="middle" fill="#777" textLength="2.2" lengthAdjust="spacingAndGlyphs">0</text>
<line x1="449.4" y1="192.1" x2="449.4" y2="193.4" stroke="#444" stroke-width="0.7"/>
<text x="449.4" y="199.1" font-size="4.9" text-anchor="middle" fill="#777" textLength="4.4" lengthAdjust="spacingAndGlyphs">50</text>
<line x1="463.2" y1="192.1" x2="463.2" y2="193.4" stroke="#444" stroke-width="0.7"/>
<text x="463.2" y="199.1" font-size="4.9" text-anchor="middle" fill="#777" textLength="6.6" lengthAdjust="spacingAndGlyphs">100</text>
<line x1="477.0" y1="192.1" x2="477.0" y2="193.4" stroke="#444" stroke-width="0.7"/>
<text x="477.0" y="199.1" font-size="4.9" text-anchor="middle" fill="#777" textLength="6.6" lengthAdjust="spacingAndGlyphs">150</text>
<line x1="490.8" y1="192.1" x2="490.8" y2="193.4" stroke="#444" stroke-width="0.7"/>
<text x="490.8" y="199.1" font-size="4.9" text-anchor="middle" fill="#777" textLength="6.6" lengthAdjust="spacingAndGlyphs">200</text>
<line x1="504.6" y1="192.1" x2="504.6" y2="193.4" stroke="#444" stroke-width="0.7"/>
<text x="504.6" y="199.1" font-size="4.9" text-anchor="middle" fill="#777" textLength="6.6" lengthAdjust="spacingAndGlyphs">250</text>
<text x="471.2" y="207.5" font-size="6.2" text-anchor="middle" fill="#333">r(Å)</text>
<text transform="translate(421.8,167.0) rotate(-90)" x="0" y="2" font-size="5.6" text-anchor="middle" fill="#333">P(r)</text>
<path d="M435.60,192.10 C436.01,188.70 437.30,177.79 438.08,171.73 C438.87,165.67 439.56,160.01 440.29,155.72 C441.02,151.44 441.62,148.05 442.47,146.03 C443.32,144.00 444.42,143.76 445.40,143.60 C446.37,143.44 447.35,144.17 448.32,145.06 C449.30,145.94 450.15,146.91 451.25,148.94 C452.34,150.96 453.67,154.35 454.89,157.18 C456.11,160.01 457.34,163.40 458.56,165.91 C459.78,168.42 460.99,170.19 462.21,172.22 C463.42,174.24 464.63,176.09 465.85,178.03 C467.07,179.97 468.18,182.00 469.52,183.85 C470.86,185.71 472.57,187.82 473.91,189.19 C475.25,190.56 476.94,191.62 477.55,192.10" fill="none" stroke="#c23a50" stroke-width="1.05"/>
<path d="M435.60,192.10 C436.50,188.46 439.38,176.98 441.01,170.28 C442.64,163.57 444.18,155.97 445.40,151.84 C446.62,147.72 447.35,146.91 448.32,145.54 C449.30,144.17 449.91,143.52 451.25,143.60 C452.59,143.68 454.77,144.89 456.36,146.03 C457.94,147.16 459.40,148.53 460.74,150.39 C462.09,152.25 463.07,154.63 464.41,157.18 C465.76,159.73 467.34,163.24 468.80,165.67 C470.26,168.09 471.71,169.75 473.16,171.73 C474.62,173.71 476.09,175.77 477.55,177.55 C479.01,179.33 480.48,180.82 481.94,182.40 C483.40,183.98 484.75,185.63 486.33,187.01 C487.91,188.38 489.73,189.80 491.43,190.64 C493.14,191.49 495.71,191.86 496.57,192.10" fill="none" stroke="#3b5a92" stroke-width="1.05"/>
<path d="M435.60,192.10 C436.38,188.95 438.78,179.49 440.29,173.19 C441.80,166.88 443.44,158.80 444.65,154.27 C445.87,149.74 446.65,147.80 447.58,146.03 C448.51,144.25 449.25,143.76 450.23,143.60 C451.20,143.44 452.28,144.17 453.43,145.06 C454.58,145.94 455.88,147.08 457.10,148.94 C458.32,150.79 459.52,153.62 460.74,156.21 C461.96,158.80 463.20,161.87 464.41,164.45 C465.63,167.04 466.84,169.55 468.06,171.73 C469.27,173.91 470.36,175.77 471.70,177.55 C473.04,179.33 474.63,180.82 476.09,182.40 C477.55,183.98 479.01,185.63 480.48,187.01 C481.94,188.38 483.65,189.80 484.87,190.64 C486.09,191.49 487.30,191.86 487.79,192.10" fill="none" stroke="#5aa84a" stroke-width="1.05"/>
<text x="7" y="17" font-size="10.6" fill="#111">A</text>
<text x="7" y="268" font-size="10.6" fill="#111">B</text>
<defs><filter id="bl" x="-50%" y="-50%" width="200%" height="200%"><feGaussianBlur stdDeviation="2"/></filter>
<filter id="bl1" x="-10%" y="-10%" width="120%" height="120%"><feGaussianBlur stdDeviation="1.2"/></filter>
<filter id="bump" x="-5%" y="-5%" width="110%" height="110%" color-interpolation-filters="sRGB">
<feTurbulence type="turbulence" baseFrequency="0.45" numOctaves="1" seed="4" result="t"/>
<feDisplacementMap in="SourceGraphic" in2="t" scale="3.2" xChannelSelector="R" yChannelSelector="G" result="d"/>
<feTurbulence type="fractalNoise" baseFrequency="0.42" numOctaves="2" seed="9" result="n"/>
<feColorMatrix in="n" type="matrix" values="1.5 0 0 0 -0.25  1.5 0 0 0 -0.25  1.5 0 0 0 -0.25  0 0 0 0 1" result="g"/>
<feComposite in="g" in2="d" operator="arithmetic" k1="1.1" k2="0" k3="0.45" k4="0" result="m"/>
<feComposite in="m" in2="d" operator="in"/>
</filter></defs>
<clipPath id="env0"><path d="M31.3,284.9C32.3,283.0 33.7,284.2 35.8,283.6C37.9,283.0 41.3,281.3 44.0,281.0C46.7,280.7 49.5,278.9 52.0,282.0C54.5,285.1 57.3,296.2 59.0,299.7C60.7,303.2 61.6,301.2 62.3,303.0C62.9,304.8 62.7,308.3 62.9,310.7C63.1,313.1 62.5,314.8 63.5,317.2C64.5,319.6 66.7,322.6 68.7,325.3C70.7,328.1 74.2,330.8 75.7,333.7C77.2,336.6 77.2,340.3 77.9,342.6C78.6,344.9 79.0,346.0 79.8,347.7C80.5,349.4 81.6,350.9 82.4,352.9C83.2,354.8 84.0,357.2 84.4,359.4C84.8,361.5 84.8,363.4 85.0,365.8C85.2,368.2 85.4,370.9 85.6,373.5C85.8,376.1 86.4,378.9 86.3,381.3C86.2,383.7 85.7,386.0 85.0,387.7C84.3,389.4 83.7,390.6 82.4,391.6C81.1,392.6 79.5,393.1 77.3,393.5C75.1,393.9 71.7,394.5 69.5,394.2C67.3,393.9 65.7,392.7 64.4,391.6C63.1,390.5 62.3,389.4 61.8,387.7C61.2,386.0 61.4,383.7 61.1,381.3C60.8,378.9 60.3,375.9 59.8,373.5C59.3,371.1 58.4,369.0 57.9,367.1C57.4,365.2 57.5,363.6 56.6,361.9C55.7,360.2 54.4,358.3 52.7,356.8C51.0,355.3 49.1,354.0 46.3,352.8C43.5,351.6 39.1,351.0 35.9,349.6C32.7,348.2 29.2,346.8 26.9,344.5C24.6,342.2 23.1,339.1 22.0,336.0C20.9,332.9 20.0,329.7 20.0,326.0C20.0,322.3 20.7,317.3 22.0,314.0C23.3,310.7 26.7,309.2 28.0,306.0C29.3,302.8 29.4,298.5 30.0,295.0C30.6,291.5 30.3,286.8 31.3,284.9Z"/></clipPath>
<path d="M31.3,284.9C32.3,283.0 33.7,284.2 35.8,283.6C37.9,283.0 41.3,281.3 44.0,281.0C46.7,280.7 49.5,278.9 52.0,282.0C54.5,285.1 57.3,296.2 59.0,299.7C60.7,303.2 61.6,301.2 62.3,303.0C62.9,304.8 62.7,308.3 62.9,310.7C63.1,313.1 62.5,314.8 63.5,317.2C64.5,319.6 66.7,322.6 68.7,325.3C70.7,328.1 74.2,330.8 75.7,333.7C77.2,336.6 77.2,340.3 77.9,342.6C78.6,344.9 79.0,346.0 79.8,347.7C80.5,349.4 81.6,350.9 82.4,352.9C83.2,354.8 84.0,357.2 84.4,359.4C84.8,361.5 84.8,363.4 85.0,365.8C85.2,368.2 85.4,370.9 85.6,373.5C85.8,376.1 86.4,378.9 86.3,381.3C86.2,383.7 85.7,386.0 85.0,387.7C84.3,389.4 83.7,390.6 82.4,391.6C81.1,392.6 79.5,393.1 77.3,393.5C75.1,393.9 71.7,394.5 69.5,394.2C67.3,393.9 65.7,392.7 64.4,391.6C63.1,390.5 62.3,389.4 61.8,387.7C61.2,386.0 61.4,383.7 61.1,381.3C60.8,378.9 60.3,375.9 59.8,373.5C59.3,371.1 58.4,369.0 57.9,367.1C57.4,365.2 57.5,363.6 56.6,361.9C55.7,360.2 54.4,358.3 52.7,356.8C51.0,355.3 49.1,354.0 46.3,352.8C43.5,351.6 39.1,351.0 35.9,349.6C32.7,348.2 29.2,346.8 26.9,344.5C24.6,342.2 23.1,339.1 22.0,336.0C20.9,332.9 20.0,329.7 20.0,326.0C20.0,322.3 20.7,317.3 22.0,314.0C23.3,310.7 26.7,309.2 28.0,306.0C29.3,302.8 29.4,298.5 30.0,295.0C30.6,291.5 30.3,286.8 31.3,284.9Z" fill="#c9c9c9" stroke="#b4b4b4" stroke-width="1.2"/>
<ellipse clip-path="url(#env0)" cx="71.0" cy="377.0" rx="4.0" ry="8.0" fill="#dedede" opacity="0.90" filter="url(#bl)"/>
<ellipse clip-path="url(#env0)" cx="56.0" cy="312.0" rx="5.0" ry="7.0" fill="#d8d8d8" opacity="0.80" filter="url(#bl)"/>
<g clip-path="url(#env0)"><path d="M31.3,284.9C32.3,283.0 33.7,284.2 35.8,283.6C37.9,283.0 41.3,281.3 44.0,281.0C46.7,280.7 49.5,278.9 52.0,282.0C54.5,285.1 57.3,296.2 59.0,299.7C60.7,303.2 61.6,301.2 62.3,303.0C62.9,304.8 62.7,308.3 62.9,310.7C63.1,313.1 62.5,314.8 63.5,317.2C64.5,319.6 66.7,322.6 68.7,325.3C70.7,328.1 74.2,330.8 75.7,333.7C77.2,336.6 77.2,340.3 77.9,342.6C78.6,344.9 79.0,346.0 79.8,347.7C80.5,349.4 81.6,350.9 82.4,352.9C83.2,354.8 84.0,357.2 84.4,359.4C84.8,361.5 84.8,363.4 85.0,365.8C85.2,368.2 85.4,370.9 85.6,373.5C85.8,376.1 86.4,378.9 86.3,381.3C86.2,383.7 85.7,386.0 85.0,387.7C84.3,389.4 83.7,390.6 82.4,391.6C81.1,392.6 79.5,393.1 77.3,393.5C75.1,393.9 71.7,394.5 69.5,394.2C67.3,393.9 65.7,392.7 64.4,391.6C63.1,390.5 62.3,389.4 61.8,387.7C61.2,386.0 61.4,383.7 61.1,381.3C60.8,378.9 60.3,375.9 59.8,373.5C59.3,371.1 58.4,369.0 57.9,367.1C57.4,365.2 57.5,363.6 56.6,361.9C55.7,360.2 54.4,358.3 52.7,356.8C51.0,355.3 49.1,354.0 46.3,352.8C43.5,351.6 39.1,351.0 35.9,349.6C32.7,348.2 29.2,346.8 26.9,344.5C24.6,342.2 23.1,339.1 22.0,336.0C20.9,332.9 20.0,329.7 20.0,326.0C20.0,322.3 20.7,317.3 22.0,314.0C23.3,310.7 26.7,309.2 28.0,306.0C29.3,302.8 29.4,298.5 30.0,295.0C30.6,291.5 30.3,286.8 31.3,284.9Z" fill="none" stroke="#909090" stroke-width="3.5" opacity="0.45" filter="url(#bl1)"/></g>
<g filter="url(#bump)"><path d="M48.9,350.3C49.4,349.2 51.0,347.8 52.7,347.7C54.4,347.6 57.2,348.6 59.2,349.7C61.2,350.8 62.8,352.6 64.4,354.2C66.0,355.8 67.8,357.7 68.9,359.4C70.0,361.1 71.1,363.4 70.8,364.5C70.5,365.6 68.4,366.0 66.9,365.8C65.4,365.6 63.3,364.5 61.8,363.2C60.3,361.9 59.4,359.4 57.9,358.1C56.4,356.8 54.1,356.1 52.7,355.5C51.3,354.9 50.1,355.1 49.5,354.2C48.9,353.3 48.4,351.4 48.9,350.3Z" fill="url(#g0)"/>
<path d="M69.5,351.6C70.6,350.5 73.1,349.0 74.7,349.0C76.3,349.0 78.2,350.1 79.2,351.6C80.2,353.1 80.4,356.0 80.5,358.1C80.6,360.2 80.3,363.0 79.8,364.5C79.3,366.0 78.5,366.9 77.3,367.1C76.1,367.3 73.9,366.9 72.7,365.8C71.5,364.7 71.0,362.3 70.2,360.6C69.5,358.9 68.3,357.0 68.2,355.5C68.1,354.0 68.4,352.7 69.5,351.6Z" fill="url(#g1)"/>
<path d="M57.9,365.8C58.6,364.9 60.7,363.9 61.8,364.5C62.9,365.1 63.7,367.6 64.4,369.7C65.2,371.8 65.5,375.0 66.3,377.4C67.1,379.8 68.4,382.0 69.5,383.9C70.6,385.8 72.3,387.5 72.7,389.0C73.1,390.5 72.8,392.3 72.1,392.9C71.3,393.4 69.3,393.2 68.2,392.3C67.1,391.4 66.7,389.5 65.6,387.7C64.5,385.9 62.9,383.4 61.8,381.3C60.7,379.2 60.0,376.7 59.2,374.8C58.5,372.9 57.5,371.2 57.3,369.7C57.1,368.2 57.1,366.7 57.9,365.8Z" fill="url(#g2)"/>
<path d="M76.6,365.8C77.1,364.9 78.8,363.6 79.8,364.5C80.8,365.4 81.6,368.9 82.4,371.0C83.2,373.1 83.9,375.5 84.4,377.4C84.9,379.3 85.7,380.9 85.6,382.6C85.5,384.3 84.7,386.2 83.7,387.7C82.7,389.2 81.1,391.0 79.8,391.6C78.5,392.2 76.3,392.5 76.0,391.6C75.7,390.8 77.3,388.2 77.9,386.5C78.5,384.8 79.7,383.5 79.8,381.3C79.9,379.1 79.0,375.4 78.5,373.5C78.0,371.6 76.9,371.0 76.6,369.7C76.3,368.4 76.1,366.7 76.6,365.8Z" fill="url(#g2)"/>
<path d="M67.0,388.0C67.8,387.1 70.1,387.1 72.0,387.0C73.9,386.9 77.5,386.6 78.5,387.5C79.5,388.4 79.1,391.5 78.0,392.5C76.9,393.5 73.8,393.5 72.0,393.5C70.2,393.5 68.3,393.4 67.5,392.5C66.7,391.6 66.2,388.9 67.0,388.0Z" fill="url(#g2)"/>
<path d="M50.0,321.0C50.8,320.0 53.0,318.3 55.0,318.0C57.0,317.7 59.8,318.2 62.0,319.0C64.2,319.8 66.3,321.5 68.0,323.0C69.7,324.5 71.0,326.2 72.0,328.0C73.0,329.8 73.7,331.8 74.0,334.0C74.3,336.2 74.7,340.2 74.0,341.0C73.3,341.8 71.3,340.3 70.0,339.0C68.7,337.7 67.7,335.0 66.0,333.0C64.3,331.0 62.0,328.3 60.0,327.0C58.0,325.7 55.7,325.5 54.0,325.0C52.3,324.5 50.7,324.7 50.0,324.0C49.3,323.3 49.2,322.0 50.0,321.0Z" fill="url(#g3)"/>
<path d="M55.3,338.0C56.0,336.7 58.0,335.5 60.0,335.0C62.0,334.5 65.0,334.3 67.0,335.0C69.0,335.7 70.9,337.2 72.0,339.0C73.1,340.8 73.7,344.0 73.4,346.0C73.1,348.0 71.7,350.0 70.0,351.0C68.3,352.0 65.2,352.5 63.0,352.2C60.8,351.9 58.2,350.5 57.0,349.0C55.8,347.5 55.8,344.8 55.5,343.0C55.2,341.2 54.5,339.3 55.3,338.0Z" fill="url(#g4)"/>
<path d="M45.6,330.0C46.2,328.3 47.4,326.8 49.0,326.0C50.6,325.2 53.2,324.8 55.0,325.0C56.8,325.2 59.1,325.5 60.0,327.0C60.9,328.5 60.8,331.8 60.5,334.0C60.2,336.2 59.4,338.4 58.0,340.0C56.6,341.6 53.8,343.6 52.0,343.8C50.2,344.0 48.1,342.3 47.0,341.0C45.9,339.7 45.8,337.8 45.6,336.0C45.4,334.2 45.0,331.7 45.6,330.0Z" fill="url(#g5)"/>
<path d="M49.0,330.0C49.7,328.7 52.7,328.5 54.0,329.0C55.3,329.5 57.0,331.5 57.0,333.0C57.0,334.5 55.2,337.3 54.0,338.0C52.8,338.7 50.8,338.3 50.0,337.0C49.2,335.7 48.3,331.3 49.0,330.0Z" fill="url(#g6)"/>
<path d="M68.0,346.0C68.3,345.0 70.5,344.8 72.0,344.5C73.5,344.2 75.8,343.6 77.0,344.0C78.2,344.4 79.2,345.9 79.0,347.0C78.8,348.1 77.5,349.9 76.0,350.5C74.5,351.1 71.3,351.2 70.0,350.5C68.7,349.8 67.7,347.0 68.0,346.0Z" fill="url(#g7)"/>
<path d="M33.4,343.0C33.9,341.7 36.1,339.7 38.0,339.0C39.9,338.3 42.7,338.1 45.0,338.6C47.3,339.1 50.1,340.8 52.0,342.0C53.9,343.2 56.1,344.4 56.6,346.0C57.1,347.6 56.6,350.6 55.0,351.5C53.4,352.4 49.5,351.8 47.0,351.5C44.5,351.2 42.0,350.8 40.0,350.0C38.0,349.2 36.1,348.2 35.0,347.0C33.9,345.8 32.9,344.3 33.4,343.0Z" fill="url(#g3)"/>
<path d="M39.2,333.0C39.7,331.8 41.6,331.2 43.0,331.0C44.4,330.8 46.8,331.0 47.5,332.0C48.2,333.0 48.1,335.8 47.5,337.0C46.9,338.2 45.2,339.1 44.0,339.3C42.8,339.6 40.8,339.6 40.0,338.5C39.2,337.4 38.7,334.2 39.2,333.0Z" fill="url(#g8)"/>
<path d="M41.5,310.0C42.0,308.5 43.6,308.2 45.0,308.0C46.4,307.8 49.0,308.0 50.0,309.0C51.0,310.0 51.3,312.2 51.3,314.0C51.3,315.8 51.0,318.8 50.0,320.0C49.0,321.2 46.3,321.5 45.0,321.0C43.7,320.5 42.6,318.8 42.0,317.0C41.4,315.2 41.0,311.5 41.5,310.0Z" fill="url(#g9)"/>
<path d="M25.5,326.0C26.2,323.5 28.1,322.8 30.0,322.0C31.9,321.2 34.7,321.0 37.0,321.2C39.3,321.4 42.4,321.9 44.0,323.0C45.6,324.1 46.5,325.8 46.9,328.0C47.3,330.2 47.1,333.7 46.5,336.0C45.9,338.3 44.8,340.5 43.0,342.0C41.2,343.5 38.3,344.8 36.0,345.0C33.7,345.2 30.8,344.3 29.0,343.0C27.2,341.7 26.1,339.8 25.5,337.0C24.9,334.2 24.8,328.5 25.5,326.0Z" fill="url(#g10)"/>
<path d="M33.0,327.0C33.7,325.8 36.7,325.5 38.0,326.0C39.3,326.5 41.0,328.7 41.0,330.0C41.0,331.3 39.2,333.5 38.0,334.0C36.8,334.5 34.8,334.2 34.0,333.0C33.2,331.8 32.3,328.2 33.0,327.0Z" fill="url(#g11)"/></g>
<path d="M31.3,284.9C32.3,283.0 33.7,284.2 35.8,283.6C37.9,283.0 41.3,281.3 44.0,281.0C46.7,280.7 49.5,278.9 52.0,282.0C54.5,285.1 57.3,296.2 59.0,299.7C60.7,303.2 61.6,301.2 62.3,303.0C62.9,304.8 62.7,308.3 62.9,310.7C63.1,313.1 62.5,314.8 63.5,317.2C64.5,319.6 66.7,322.6 68.7,325.3C70.7,328.1 74.2,330.8 75.7,333.7C77.2,336.6 77.2,340.3 77.9,342.6C78.6,344.9 79.0,346.0 79.8,347.7C80.5,349.4 81.6,350.9 82.4,352.9C83.2,354.8 84.0,357.2 84.4,359.4C84.8,361.5 84.8,363.4 85.0,365.8C85.2,368.2 85.4,370.9 85.6,373.5C85.8,376.1 86.4,378.9 86.3,381.3C86.2,383.7 85.7,386.0 85.0,387.7C84.3,389.4 83.7,390.6 82.4,391.6C81.1,392.6 79.5,393.1 77.3,393.5C75.1,393.9 71.7,394.5 69.5,394.2C67.3,393.9 65.7,392.7 64.4,391.6C63.1,390.5 62.3,389.4 61.8,387.7C61.2,386.0 61.4,383.7 61.1,381.3C60.8,378.9 60.3,375.9 59.8,373.5C59.3,371.1 58.4,369.0 57.9,367.1C57.4,365.2 57.5,363.6 56.6,361.9C55.7,360.2 54.4,358.3 52.7,356.8C51.0,355.3 49.1,354.0 46.3,352.8C43.5,351.6 39.1,351.0 35.9,349.6C32.7,348.2 29.2,346.8 26.9,344.5C24.6,342.2 23.1,339.1 22.0,336.0C20.9,332.9 20.0,329.7 20.0,326.0C20.0,322.3 20.7,317.3 22.0,314.0C23.3,310.7 26.7,309.2 28.0,306.0C29.3,302.8 29.4,298.5 30.0,295.0C30.6,291.5 30.3,286.8 31.3,284.9Z" fill="#c9c9c9" opacity="0.22"/>
<g filter="url(#bump)"><path d="M19.8,332.0C20.0,330.3 21.0,328.8 22.0,328.0C23.0,327.2 25.1,327.0 26.0,327.5C26.9,328.0 27.4,329.4 27.5,331.0C27.6,332.6 26.2,335.3 26.5,337.0C26.8,338.7 28.2,339.8 29.0,341.0C29.8,342.2 31.6,343.2 31.4,344.0C31.2,344.8 29.2,345.8 28.0,345.7C26.8,345.6 25.2,344.8 24.0,343.5C22.8,342.2 21.7,339.9 21.0,338.0C20.3,336.1 19.6,333.7 19.8,332.0Z" fill="url(#g12)"/>
<path d="M16.0,317.0C16.3,315.7 17.5,314.0 19.0,313.0C20.5,312.0 22.7,311.5 25.0,311.0C27.3,310.5 30.5,310.0 33.0,310.0C35.5,310.0 38.0,310.2 40.0,311.0C42.0,311.8 44.2,313.3 44.8,315.0C45.4,316.7 44.6,319.4 43.5,321.0C42.4,322.6 40.2,323.8 38.0,324.5C35.8,325.2 32.7,325.1 30.0,325.0C27.3,324.9 24.2,324.7 22.0,324.0C19.8,323.3 18.0,322.2 17.0,321.0C16.0,319.8 15.7,318.3 16.0,317.0Z" fill="url(#g13)"/>
<path d="M38.5,284.0C39.3,282.2 41.2,280.9 43.0,280.0C44.8,279.1 47.0,278.5 49.0,278.5C51.0,278.5 53.3,279.1 55.0,280.0C56.7,280.9 57.9,282.3 59.0,284.0C60.1,285.7 61.2,287.8 61.5,290.0C61.8,292.2 61.8,295.0 61.0,297.0C60.2,299.0 58.7,300.9 57.0,302.0C55.3,303.1 53.0,303.6 51.0,303.6C49.0,303.6 46.8,302.9 45.0,302.0C43.2,301.1 41.2,299.8 40.0,298.0C38.8,296.2 38.2,293.3 38.0,291.0C37.8,288.7 37.7,285.8 38.5,284.0Z" fill="url(#g14)"/>
<path d="M40.0,287.0C40.7,285.0 43.2,283.6 45.0,283.0C46.8,282.4 49.4,282.7 51.0,283.5C52.6,284.3 53.8,286.1 54.5,288.0C55.2,289.9 55.6,293.0 55.0,295.0C54.4,297.0 52.7,299.2 51.0,300.0C49.3,300.8 46.7,300.8 45.0,300.0C43.3,299.2 41.8,297.2 41.0,295.0C40.2,292.8 39.3,289.0 40.0,287.0Z" fill="url(#g15)"/>
<path d="M40.0,298.0C40.8,296.9 44.0,296.5 46.0,296.5C48.0,296.5 50.9,296.9 52.0,298.0C53.1,299.1 53.4,301.9 52.6,303.0C51.8,304.1 48.9,304.3 47.0,304.3C45.1,304.3 42.2,304.1 41.0,303.0C39.8,301.9 39.2,299.1 40.0,298.0Z" fill="url(#g16)"/>
<path d="M27.0,291.0C27.4,289.2 28.7,288.2 30.0,287.5C31.3,286.8 33.3,286.7 35.0,286.8C36.7,286.9 38.9,287.0 40.0,288.0C41.1,289.0 41.5,291.2 41.6,293.0C41.7,294.8 41.3,297.4 40.5,299.0C39.7,300.6 38.6,301.8 37.0,302.3C35.4,302.8 32.6,302.7 31.0,302.0C29.4,301.3 28.2,299.8 27.5,298.0C26.8,296.2 26.6,292.8 27.0,291.0Z" fill="url(#g17)"/>
<path d="M32.5,288.5C33.1,287.2 35.7,287.2 37.0,287.5C38.3,287.8 40.0,288.8 40.5,290.0C41.0,291.2 40.6,293.8 40.0,295.0C39.4,296.2 38.1,296.9 37.0,297.0C35.9,297.1 34.2,296.9 33.5,295.5C32.8,294.1 31.9,289.8 32.5,288.5Z" fill="url(#g18)"/>
<path d="M34.5,296.0C35.2,294.2 36.9,294.4 38.0,294.5C39.1,294.6 40.5,295.1 41.0,296.5C41.5,297.9 41.1,300.6 41.0,303.0C40.9,305.4 41.2,309.4 40.5,310.7C39.8,312.0 37.6,311.9 36.5,311.0C35.4,310.1 34.3,307.5 34.0,305.0C33.7,302.5 33.8,297.8 34.5,296.0Z" fill="url(#g19)"/></g>
<clipPath id="env1"><path d="M93.8,284.9C94.3,283.3 94.5,282.6 95.7,281.7C96.9,280.8 99.0,280.2 100.9,279.7C102.9,279.2 105.2,278.9 107.4,278.5C109.6,278.1 111.9,277.4 113.8,277.4C115.7,277.4 117.3,277.7 119.0,278.5C120.7,279.3 122.6,281.0 124.1,282.3C125.6,283.6 126.9,284.7 128.0,286.2C129.1,287.7 129.9,289.5 130.6,291.4C131.2,293.3 131.6,295.4 131.9,297.8C132.2,300.2 132.2,302.9 132.5,305.5C132.8,308.1 133.3,310.7 133.8,313.3C134.3,315.9 135.2,317.8 135.7,321.0C136.2,324.2 136.3,329.4 137.0,332.7C137.7,335.9 138.5,337.9 139.6,340.5C140.7,343.1 142.4,345.8 143.5,348.2C144.6,350.6 145.9,352.3 146.1,354.7C146.3,357.1 145.5,360.2 144.8,362.4C144.2,364.5 143.1,366.3 142.2,367.6C141.3,368.9 140.5,368.7 139.6,370.2C138.7,371.7 137.5,374.5 137.0,376.6C136.5,378.7 136.9,380.8 136.5,382.7C136.1,384.6 134.8,386.1 134.5,388.0C134.2,389.9 134.2,392.2 134.5,394.4C134.8,396.6 135.6,398.9 136.2,401.0C136.8,403.1 137.4,405.2 138.0,407.3C138.6,409.4 139.2,411.6 140.0,413.7C140.8,415.8 142.2,418.0 143.0,420.2C143.8,422.4 144.8,424.5 145.0,426.6C145.2,428.7 145.1,431.0 144.5,433.0C143.9,435.0 143.0,436.9 141.5,438.5C140.0,440.1 137.8,441.4 135.5,442.3C133.2,443.2 130.4,443.7 128.0,443.8C125.6,443.9 122.9,443.5 121.0,442.8C119.1,442.1 117.8,441.0 116.5,439.5C115.2,438.0 114.0,436.1 113.2,434.0C112.4,431.9 112.1,429.3 111.8,427.0C111.5,424.7 112.0,422.5 111.5,420.0C111.0,417.5 109.9,414.7 109.0,412.0C108.1,409.3 107.0,406.7 106.0,404.0C105.0,401.3 103.9,398.7 103.0,396.0C102.1,393.3 101.0,390.4 100.5,388.0C100.0,385.6 99.6,383.4 99.7,381.5C99.8,379.6 100.7,378.9 100.9,376.6C101.1,374.3 101.0,370.8 100.9,367.6C100.8,364.4 100.4,361.0 100.3,357.3C100.2,353.6 100.2,349.3 100.3,345.6C100.4,341.9 100.9,338.5 100.9,335.3C101.0,332.1 100.9,329.6 100.6,326.2C100.3,322.8 99.6,317.6 99.0,314.6C98.4,311.6 97.5,310.0 97.0,308.1C96.5,306.2 96.3,304.7 95.7,303.0C95.1,301.3 93.7,299.7 93.2,297.8C92.7,295.9 92.4,293.5 92.5,291.4C92.6,289.2 93.3,286.5 93.8,284.9Z"/></clipPath>
<path d="M93.8,284.9C94.3,283.3 94.5,282.6 95.7,281.7C96.9,280.8 99.0,280.2 100.9,279.7C102.9,279.2 105.2,278.9 107.4,278.5C109.6,278.1 111.9,277.4 113.8,277.4C115.7,277.4 117.3,277.7 119.0,278.5C120.7,279.3 122.6,281.0 124.1,282.3C125.6,283.6 126.9,284.7 128.0,286.2C129.1,287.7 129.9,289.5 130.6,291.4C131.2,293.3 131.6,295.4 131.9,297.8C132.2,300.2 132.2,302.9 132.5,305.5C132.8,308.1 133.3,310.7 133.8,313.3C134.3,315.9 135.2,317.8 135.7,321.0C136.2,324.2 136.3,329.4 137.0,332.7C137.7,335.9 138.5,337.9 139.6,340.5C140.7,343.1 142.4,345.8 143.5,348.2C144.6,350.6 145.9,352.3 146.1,354.7C146.3,357.1 145.5,360.2 144.8,362.4C144.2,364.5 143.1,366.3 142.2,367.6C141.3,368.9 140.5,368.7 139.6,370.2C138.7,371.7 137.5,374.5 137.0,376.6C136.5,378.7 136.9,380.8 136.5,382.7C136.1,384.6 134.8,386.1 134.5,388.0C134.2,389.9 134.2,392.2 134.5,394.4C134.8,396.6 135.6,398.9 136.2,401.0C136.8,403.1 137.4,405.2 138.0,407.3C138.6,409.4 139.2,411.6 140.0,413.7C140.8,415.8 142.2,418.0 143.0,420.2C143.8,422.4 144.8,424.5 145.0,426.6C145.2,428.7 145.1,431.0 144.5,433.0C143.9,435.0 143.0,436.9 141.5,438.5C140.0,440.1 137.8,441.4 135.5,442.3C133.2,443.2 130.4,443.7 128.0,443.8C125.6,443.9 122.9,443.5 121.0,442.8C119.1,442.1 117.8,441.0 116.5,439.5C115.2,438.0 114.0,436.1 113.2,434.0C112.4,431.9 112.1,429.3 111.8,427.0C111.5,424.7 112.0,422.5 111.5,420.0C111.0,417.5 109.9,414.7 109.0,412.0C108.1,409.3 107.0,406.7 106.0,404.0C105.0,401.3 103.9,398.7 103.0,396.0C102.1,393.3 101.0,390.4 100.5,388.0C100.0,385.6 99.6,383.4 99.7,381.5C99.8,379.6 100.7,378.9 100.9,376.6C101.1,374.3 101.0,370.8 100.9,367.6C100.8,364.4 100.4,361.0 100.3,357.3C100.2,353.6 100.2,349.3 100.3,345.6C100.4,341.9 100.9,338.5 100.9,335.3C101.0,332.1 100.9,329.6 100.6,326.2C100.3,322.8 99.6,317.6 99.0,314.6C98.4,311.6 97.5,310.0 97.0,308.1C96.5,306.2 96.3,304.7 95.7,303.0C95.1,301.3 93.7,299.7 93.2,297.8C92.7,295.9 92.4,293.5 92.5,291.4C92.6,289.2 93.3,286.5 93.8,284.9Z" fill="#cbcbcb" stroke="#b6b6b6" stroke-width="1.2"/>
<ellipse clip-path="url(#env1)" cx="129.0" cy="428.0" rx="7.0" ry="6.0" fill="#f8f8f8" opacity="1.00" filter="url(#bl)"/>
<ellipse clip-path="url(#env1)" cx="121.0" cy="300.0" rx="6.0" ry="9.0" fill="#d8d8d8" opacity="0.70" filter="url(#bl)"/>
<ellipse clip-path="url(#env1)" cx="141.0" cy="356.0" rx="3.0" ry="7.0" fill="#dcdcdc" opacity="0.70" filter="url(#bl)"/>
<ellipse clip-path="url(#env1)" cx="106.0" cy="420.0" rx="3.0" ry="8.0" fill="#d6d6d6" opacity="0.60" filter="url(#bl)"/>
<g clip-path="url(#env1)"><path d="M93.8,284.9C94.3,283.3 94.5,282.6 95.7,281.7C96.9,280.8 99.0,280.2 100.9,279.7C102.9,279.2 105.2,278.9 107.4,278.5C109.6,278.1 111.9,277.4 113.8,277.4C115.7,277.4 117.3,277.7 119.0,278.5C120.7,279.3 122.6,281.0 124.1,282.3C125.6,283.6 126.9,284.7 128.0,286.2C129.1,287.7 129.9,289.5 130.6,291.4C131.2,293.3 131.6,295.4 131.9,297.8C132.2,300.2 132.2,302.9 132.5,305.5C132.8,308.1 133.3,310.7 133.8,313.3C134.3,315.9 135.2,317.8 135.7,321.0C136.2,324.2 136.3,329.4 137.0,332.7C137.7,335.9 138.5,337.9 139.6,340.5C140.7,343.1 142.4,345.8 143.5,348.2C144.6,350.6 145.9,352.3 146.1,354.7C146.3,357.1 145.5,360.2 144.8,362.4C144.2,364.5 143.1,366.3 142.2,367.6C141.3,368.9 140.5,368.7 139.6,370.2C138.7,371.7 137.5,374.5 137.0,376.6C136.5,378.7 136.9,380.8 136.5,382.7C136.1,384.6 134.8,386.1 134.5,388.0C134.2,389.9 134.2,392.2 134.5,394.4C134.8,396.6 135.6,398.9 136.2,401.0C136.8,403.1 137.4,405.2 138.0,407.3C138.6,409.4 139.2,411.6 140.0,413.7C140.8,415.8 142.2,418.0 143.0,420.2C143.8,422.4 144.8,424.5 145.0,426.6C145.2,428.7 145.1,431.0 144.5,433.0C143.9,435.0 143.0,436.9 141.5,438.5C140.0,440.1 137.8,441.4 135.5,442.3C133.2,443.2 130.4,443.7 128.0,443.8C125.6,443.9 122.9,443.5 121.0,442.8C119.1,442.1 117.8,441.0 116.5,439.5C115.2,438.0 114.0,436.1 113.2,434.0C112.4,431.9 112.1,429.3 111.8,427.0C111.5,424.7 112.0,422.5 111.5,420.0C111.0,417.5 109.9,414.7 109.0,412.0C108.1,409.3 107.0,406.7 106.0,404.0C105.0,401.3 103.9,398.7 103.0,396.0C102.1,393.3 101.0,390.4 100.5,388.0C100.0,385.6 99.6,383.4 99.7,381.5C99.8,379.6 100.7,378.9 100.9,376.6C101.1,374.3 101.0,370.8 100.9,367.6C100.8,364.4 100.4,361.0 100.3,357.3C100.2,353.6 100.2,349.3 100.3,345.6C100.4,341.9 100.9,338.5 100.9,335.3C101.0,332.1 100.9,329.6 100.6,326.2C100.3,322.8 99.6,317.6 99.0,314.6C98.4,311.6 97.5,310.0 97.0,308.1C96.5,306.2 96.3,304.7 95.7,303.0C95.1,301.3 93.7,299.7 93.2,297.8C92.7,295.9 92.4,293.5 92.5,291.4C92.6,289.2 93.3,286.5 93.8,284.9Z" fill="none" stroke="#909090" stroke-width="3.5" opacity="0.45" filter="url(#bl1)"/></g>
<g filter="url(#bump)"><path d="M97.7,305.5C98.0,304.2 99.5,302.6 100.9,301.7C102.3,300.8 104.2,299.9 106.1,299.8C108.0,299.7 110.6,300.2 112.5,301.0C114.4,301.8 116.2,302.9 117.7,304.3C119.2,305.7 121.3,307.9 121.5,309.4C121.7,310.9 120.2,312.9 118.9,313.3C117.6,313.7 115.5,312.4 113.8,312.0C112.1,311.6 110.3,310.8 108.6,310.7C106.9,310.6 105.1,311.5 103.5,311.3C101.9,311.1 100.0,310.4 99.0,309.4C98.0,308.4 97.4,306.8 97.7,305.5Z" fill="url(#g20)"/>
<path d="M104.8,292.6C104.9,291.3 105.2,290.0 106.1,288.8C106.9,287.6 108.6,286.2 109.9,285.5C111.2,284.8 112.3,284.3 113.8,284.3C115.3,284.3 117.3,285.2 119.0,285.5C120.7,285.8 122.6,285.4 124.1,286.2C125.6,287.0 127.1,288.8 128.0,290.1C128.9,291.4 129.5,292.2 129.3,293.9C129.1,295.6 127.8,298.5 126.7,300.4C125.6,302.3 124.1,304.2 122.8,305.5C121.5,306.8 120.5,307.5 119.0,308.1C117.5,308.8 115.2,309.6 113.8,309.4C112.4,309.2 111.5,308.1 110.6,306.8C109.7,305.5 109.5,303.4 108.6,301.7C107.7,300.0 106.0,298.0 105.4,296.5C104.8,295.0 104.7,293.9 104.8,292.6Z" fill="url(#g21)"/>
<path d="M109.0,310.0C110.3,308.4 113.8,308.4 116.0,308.4C118.2,308.4 121.5,308.4 122.5,310.0C123.5,311.6 121.8,315.3 122.0,318.0C122.2,320.7 124.1,323.5 123.8,326.0C123.5,328.5 121.8,332.0 120.0,333.0C118.2,334.0 114.8,333.3 113.0,332.0C111.2,330.7 110.3,327.3 109.5,325.0C108.7,322.7 108.1,320.5 108.0,318.0C107.9,315.5 107.7,311.6 109.0,310.0Z" fill="url(#g22)"/>
<path d="M102.0,340.0C102.9,337.2 105.0,338.2 107.0,338.2C109.0,338.2 112.4,338.0 113.8,340.0C115.2,342.0 115.4,347.0 115.5,350.0C115.6,353.0 115.1,355.6 114.5,358.0C113.9,360.4 113.6,363.7 112.0,364.7C110.4,365.7 106.8,365.6 105.0,364.0C103.2,362.4 102.0,359.0 101.5,355.0C101.0,351.0 101.1,342.8 102.0,340.0Z" fill="url(#g23)"/>
<path d="M112.5,348.0C113.3,346.3 116.8,346.2 118.0,347.0C119.2,347.8 120.0,351.2 120.0,353.0C120.0,354.8 119.2,357.3 118.0,358.0C116.8,358.7 113.9,358.7 113.0,357.0C112.1,355.3 111.7,349.7 112.5,348.0Z" fill="url(#g24)"/>
<path d="M116.4,342.0C117.6,339.3 121.4,338.5 124.0,338.0C126.6,337.5 130.3,337.5 132.0,339.0C133.7,340.5 134.2,344.3 134.2,347.0C134.2,349.7 133.7,353.2 132.0,355.0C130.3,356.8 126.5,357.7 124.0,357.5C121.5,357.3 118.3,356.6 117.0,354.0C115.7,351.4 115.2,344.7 116.4,342.0Z" fill="url(#g25)"/>
<path d="M121.2,357.0C122.3,354.5 125.8,355.0 128.0,355.0C130.2,355.0 133.1,355.2 134.5,357.0C135.9,358.8 136.5,363.0 136.7,366.0C136.9,369.0 136.4,372.2 135.5,375.0C134.6,377.8 132.9,381.8 131.0,382.8C129.1,383.8 125.6,383.1 124.0,381.0C122.4,378.9 121.7,374.0 121.2,370.0C120.7,366.0 120.1,359.5 121.2,357.0Z" fill="url(#g23)"/>
<path d="M106.8,360.0C108.1,357.8 111.5,354.4 114.0,353.7C116.5,353.0 120.1,354.4 122.0,356.0C123.9,357.6 124.4,360.0 125.4,363.0C126.4,366.0 127.3,370.3 128.0,374.0C128.7,377.7 129.9,381.8 129.7,385.0C129.5,388.2 128.6,391.4 127.0,393.0C125.4,394.6 122.5,394.7 120.0,394.5C117.5,394.3 114.2,393.4 112.0,392.0C109.8,390.6 108.0,388.7 107.0,386.0C106.0,383.3 106.0,379.2 105.8,376.0C105.6,372.8 105.8,369.7 106.0,367.0C106.2,364.3 105.5,362.2 106.8,360.0Z" fill="url(#g27)"/>
<path d="M112.0,362.0C112.8,360.5 116.5,360.2 118.0,361.0C119.5,361.8 121.0,365.2 121.0,367.0C121.0,368.8 119.3,371.5 118.0,372.0C116.7,372.5 114.0,371.7 113.0,370.0C112.0,368.3 111.2,363.5 112.0,362.0Z" fill="url(#g28)"/>
<path d="M103.1,367.0C103.9,364.5 106.4,363.7 108.0,364.0C109.6,364.3 111.6,366.2 112.5,369.0C113.4,371.8 112.8,377.7 113.5,380.5C114.2,383.3 116.7,384.1 116.8,386.0C116.9,387.9 115.6,391.5 114.0,392.0C112.4,392.5 108.8,391.2 107.0,389.0C105.2,386.8 103.8,382.7 103.1,379.0C102.4,375.3 102.3,369.5 103.1,367.0Z" fill="url(#g29)"/>
<path d="M129.0,377.0C130.0,375.3 133.6,373.9 136.0,373.7C138.4,373.4 142.2,374.3 143.2,375.5C144.2,376.7 143.2,379.4 142.0,381.0C140.8,382.6 138.0,384.5 136.0,385.0C134.0,385.5 131.2,385.3 130.0,384.0C128.8,382.7 128.0,378.7 129.0,377.0Z" fill="url(#g30)"/>
<path d="M116.0,387.0C117.2,384.4 120.5,384.6 123.0,384.3C125.5,384.0 129.4,383.2 131.0,385.0C132.6,386.8 132.3,391.7 132.3,395.0C132.3,398.3 131.6,401.8 131.0,405.0C130.4,408.2 130.1,411.5 129.0,414.0C127.9,416.5 126.2,419.6 124.5,419.9C122.8,420.2 119.9,419.3 118.5,416.0C117.1,412.7 116.4,404.8 116.0,400.0C115.6,395.2 114.8,389.6 116.0,387.0Z" fill="url(#g31)"/>
<path d="M107.0,395.0C107.4,393.2 110.2,392.7 112.0,393.4C113.8,394.1 116.1,396.7 118.0,399.0C119.9,401.3 121.6,404.0 123.5,407.0C125.4,410.0 128.5,414.2 129.2,417.0C129.9,419.8 128.9,422.9 127.5,423.7C126.1,424.5 123.2,423.6 121.0,422.0C118.8,420.4 116.4,417.0 114.5,414.0C112.6,411.0 110.8,407.2 109.5,404.0C108.2,400.8 106.6,396.8 107.0,395.0Z" fill="url(#g32)"/>
<path d="M125.5,384.5C125.9,383.7 128.0,382.8 129.0,383.0C130.1,383.2 131.6,385.1 131.8,386.0C132.0,386.9 130.9,388.2 130.0,388.5C129.1,388.8 127.2,388.7 126.5,388.0C125.8,387.3 125.1,385.3 125.5,384.5Z" fill="url(#g33)"/></g>
<path d="M93.8,284.9C94.3,283.3 94.5,282.6 95.7,281.7C96.9,280.8 99.0,280.2 100.9,279.7C102.9,279.2 105.2,278.9 107.4,278.5C109.6,278.1 111.9,277.4 113.8,277.4C115.7,277.4 117.3,277.7 119.0,278.5C120.7,279.3 122.6,281.0 124.1,282.3C125.6,283.6 126.9,284.7 128.0,286.2C129.1,287.7 129.9,289.5 130.6,291.4C131.2,293.3 131.6,295.4 131.9,297.8C132.2,300.2 132.2,302.9 132.5,305.5C132.8,308.1 133.3,310.7 133.8,313.3C134.3,315.9 135.2,317.8 135.7,321.0C136.2,324.2 136.3,329.4 137.0,332.7C137.7,335.9 138.5,337.9 139.6,340.5C140.7,343.1 142.4,345.8 143.5,348.2C144.6,350.6 145.9,352.3 146.1,354.7C146.3,357.1 145.5,360.2 144.8,362.4C144.2,364.5 143.1,366.3 142.2,367.6C141.3,368.9 140.5,368.7 139.6,370.2C138.7,371.7 137.5,374.5 137.0,376.6C136.5,378.7 136.9,380.8 136.5,382.7C136.1,384.6 134.8,386.1 134.5,388.0C134.2,389.9 134.2,392.2 134.5,394.4C134.8,396.6 135.6,398.9 136.2,401.0C136.8,403.1 137.4,405.2 138.0,407.3C138.6,409.4 139.2,411.6 140.0,413.7C140.8,415.8 142.2,418.0 143.0,420.2C143.8,422.4 144.8,424.5 145.0,426.6C145.2,428.7 145.1,431.0 144.5,433.0C143.9,435.0 143.0,436.9 141.5,438.5C140.0,440.1 137.8,441.4 135.5,442.3C133.2,443.2 130.4,443.7 128.0,443.8C125.6,443.9 122.9,443.5 121.0,442.8C119.1,442.1 117.8,441.0 116.5,439.5C115.2,438.0 114.0,436.1 113.2,434.0C112.4,431.9 112.1,429.3 111.8,427.0C111.5,424.7 112.0,422.5 111.5,420.0C111.0,417.5 109.9,414.7 109.0,412.0C108.1,409.3 107.0,406.7 106.0,404.0C105.0,401.3 103.9,398.7 103.0,396.0C102.1,393.3 101.0,390.4 100.5,388.0C100.0,385.6 99.6,383.4 99.7,381.5C99.8,379.6 100.7,378.9 100.9,376.6C101.1,374.3 101.0,370.8 100.9,367.6C100.8,364.4 100.4,361.0 100.3,357.3C100.2,353.6 100.2,349.3 100.3,345.6C100.4,341.9 100.9,338.5 100.9,335.3C101.0,332.1 100.9,329.6 100.6,326.2C100.3,322.8 99.6,317.6 99.0,314.6C98.4,311.6 97.5,310.0 97.0,308.1C96.5,306.2 96.3,304.7 95.7,303.0C95.1,301.3 93.7,299.7 93.2,297.8C92.7,295.9 92.4,293.5 92.5,291.4C92.6,289.2 93.3,286.5 93.8,284.9Z" fill="#cbcbcb" opacity="0.22"/>
<g filter="url(#bump)"><path d="M125.4,290.0C126.0,288.8 127.7,288.5 129.0,288.8C130.3,289.1 132.2,290.5 133.0,292.0C133.8,293.5 134.1,296.1 133.8,298.0C133.5,299.9 132.1,302.9 131.0,303.6C129.9,304.3 127.9,303.3 127.0,302.0C126.1,300.7 125.8,298.0 125.5,296.0C125.2,294.0 124.8,291.2 125.4,290.0Z" fill="url(#g14)"/>
<path d="M114.5,332.0C115.3,329.5 117.4,327.9 120.0,327.2C122.6,326.4 127.1,327.0 130.0,327.5C132.9,328.0 136.4,328.2 137.5,330.0C138.6,331.8 137.8,335.8 136.5,338.0C135.2,340.2 132.4,341.7 130.0,343.0C127.6,344.3 124.5,345.8 122.0,345.6C119.5,345.4 116.2,344.3 115.0,342.0C113.8,339.7 113.7,334.5 114.5,332.0Z" fill="url(#g26)"/>
<path d="M96.5,331.0C97.2,329.1 100.1,327.4 102.0,326.6C103.9,325.8 105.9,325.6 108.0,326.0C110.1,326.4 113.6,327.3 114.8,329.0C116.0,330.7 115.6,333.9 115.0,336.0C114.4,338.1 113.0,340.5 111.0,341.5C109.0,342.5 105.2,342.7 103.0,342.1C100.8,341.5 98.6,339.9 97.5,338.0C96.4,336.1 95.8,332.9 96.5,331.0Z" fill="url(#g13)"/>
<path d="M119.3,321.0C120.0,319.2 123.9,318.9 126.0,318.7C128.1,318.5 130.4,318.9 132.0,320.0C133.6,321.1 135.7,323.3 135.5,325.0C135.3,326.7 133.2,329.2 131.0,330.0C128.8,330.8 124.0,331.0 122.0,329.5C120.0,328.0 118.6,322.8 119.3,321.0Z" fill="url(#g13)"/></g>
<clipPath id="env2"><path d="M172.5,290.4C175.5,288.2 180.8,286.9 184.6,286.0C188.3,285.1 192.1,284.8 195.0,285.2C197.9,285.6 199.6,286.4 201.9,288.7C204.2,291.0 206.8,295.6 208.8,299.0C210.8,302.4 212.3,305.6 214.0,309.4C215.7,313.1 217.5,317.5 219.2,321.5C220.9,325.5 223.2,330.5 224.4,333.6C225.6,336.7 225.4,337.1 226.1,340.2C226.8,343.3 227.8,347.4 228.7,352.3C229.6,357.2 231.2,363.8 231.3,369.6C231.5,375.4 230.5,382.4 229.6,387.0C228.7,391.6 227.8,395.0 226.1,397.3C224.4,399.6 222.4,399.6 219.2,400.7C216.0,401.8 210.0,403.3 207.0,404.2C204.0,405.1 202.6,406.9 201.0,406.0C199.4,405.1 198.5,402.2 197.6,399.0C196.7,395.8 196.0,390.8 195.8,387.0C195.7,383.2 196.4,380.0 196.7,376.5C197.0,373.0 198.2,368.6 197.6,366.0C197.0,363.4 195.2,362.4 193.3,361.0C191.4,359.6 189.2,358.5 186.3,357.5C183.4,356.5 179.8,356.0 176.0,355.0C172.2,354.0 167.0,353.0 163.8,351.4C160.6,349.8 158.4,348.1 157.0,345.4C155.6,342.7 155.6,337.5 155.2,335.0C154.8,332.5 154.3,332.1 154.3,330.2C154.3,328.2 154.3,325.3 155.2,323.3C156.1,321.3 158.1,320.3 159.5,318.0C160.9,315.7 162.7,312.6 163.8,309.4C165.0,306.2 165.0,302.2 166.4,299.0C167.8,295.8 169.5,292.6 172.5,290.4Z"/></clipPath>
<path d="M172.5,290.4C175.5,288.2 180.8,286.9 184.6,286.0C188.3,285.1 192.1,284.8 195.0,285.2C197.9,285.6 199.6,286.4 201.9,288.7C204.2,291.0 206.8,295.6 208.8,299.0C210.8,302.4 212.3,305.6 214.0,309.4C215.7,313.1 217.5,317.5 219.2,321.5C220.9,325.5 223.2,330.5 224.4,333.6C225.6,336.7 225.4,337.1 226.1,340.2C226.8,343.3 227.8,347.4 228.7,352.3C229.6,357.2 231.2,363.8 231.3,369.6C231.5,375.4 230.5,382.4 229.6,387.0C228.7,391.6 227.8,395.0 226.1,397.3C224.4,399.6 222.4,399.6 219.2,400.7C216.0,401.8 210.0,403.3 207.0,404.2C204.0,405.1 202.6,406.9 201.0,406.0C199.4,405.1 198.5,402.2 197.6,399.0C196.7,395.8 196.0,390.8 195.8,387.0C195.7,383.2 196.4,380.0 196.7,376.5C197.0,373.0 198.2,368.6 197.6,366.0C197.0,363.4 195.2,362.4 193.3,361.0C191.4,359.6 189.2,358.5 186.3,357.5C183.4,356.5 179.8,356.0 176.0,355.0C172.2,354.0 167.0,353.0 163.8,351.4C160.6,349.8 158.4,348.1 157.0,345.4C155.6,342.7 155.6,337.5 155.2,335.0C154.8,332.5 154.3,332.1 154.3,330.2C154.3,328.2 154.3,325.3 155.2,323.3C156.1,321.3 158.1,320.3 159.5,318.0C160.9,315.7 162.7,312.6 163.8,309.4C165.0,306.2 165.0,302.2 166.4,299.0C167.8,295.8 169.5,292.6 172.5,290.4Z" fill="#bdbdbd" stroke="#a9a9a9" stroke-width="1.2"/>
<g clip-path="url(#env2)"><path d="M172.5,290.4C175.5,288.2 180.8,286.9 184.6,286.0C188.3,285.1 192.1,284.8 195.0,285.2C197.9,285.6 199.6,286.4 201.9,288.7C204.2,291.0 206.8,295.6 208.8,299.0C210.8,302.4 212.3,305.6 214.0,309.4C215.7,313.1 217.5,317.5 219.2,321.5C220.9,325.5 223.2,330.5 224.4,333.6C225.6,336.7 225.4,337.1 226.1,340.2C226.8,343.3 227.8,347.4 228.7,352.3C229.6,357.2 231.2,363.8 231.3,369.6C231.5,375.4 230.5,382.4 229.6,387.0C228.7,391.6 227.8,395.0 226.1,397.3C224.4,399.6 222.4,399.6 219.2,400.7C216.0,401.8 210.0,403.3 207.0,404.2C204.0,405.1 202.6,406.9 201.0,406.0C199.4,405.1 198.5,402.2 197.6,399.0C196.7,395.8 196.0,390.8 195.8,387.0C195.7,383.2 196.4,380.0 196.7,376.5C197.0,373.0 198.2,368.6 197.6,366.0C197.0,363.4 195.2,362.4 193.3,361.0C191.4,359.6 189.2,358.5 186.3,357.5C183.4,356.5 179.8,356.0 176.0,355.0C172.2,354.0 167.0,353.0 163.8,351.4C160.6,349.8 158.4,348.1 157.0,345.4C155.6,342.7 155.6,337.5 155.2,335.0C154.8,332.5 154.3,332.1 154.3,330.2C154.3,328.2 154.3,325.3 155.2,323.3C156.1,321.3 158.1,320.3 159.5,318.0C160.9,315.7 162.7,312.6 163.8,309.4C165.0,306.2 165.0,302.2 166.4,299.0C167.8,295.8 169.5,292.6 172.5,290.4Z" fill="none" stroke="#909090" stroke-width="3.5" opacity="0.45" filter="url(#bl1)"/></g>
<g filter="url(#bump)"><path d="M167.0,299.0C167.9,297.6 170.2,296.7 172.0,296.4C173.8,296.1 176.8,296.1 178.0,297.0C179.2,297.9 179.6,300.3 179.4,302.0C179.2,303.7 178.4,305.9 177.0,307.0C175.6,308.1 172.8,308.8 171.0,308.5C169.2,308.2 167.1,306.6 166.4,305.0C165.7,303.4 166.1,300.4 167.0,299.0Z" fill="url(#g34)"/>
<path d="M188.0,309.0C188.7,308.2 192.0,307.5 193.0,308.0C194.0,308.5 194.7,311.2 194.0,312.0C193.3,312.8 190.0,313.5 189.0,313.0C188.0,312.5 187.3,309.8 188.0,309.0Z" fill="url(#g34)"/>
<path d="M178.0,311.0C179.1,310.2 182.0,310.3 182.5,311.5C183.0,312.7 181.9,315.8 181.0,318.0C180.1,320.2 178.5,322.8 177.0,325.0C175.5,327.2 173.5,330.3 172.0,331.0C170.5,331.7 168.0,330.5 168.0,329.0C168.0,327.5 170.7,324.2 172.0,322.0C173.3,319.8 175.0,317.8 176.0,316.0C177.0,314.2 176.9,311.8 178.0,311.0Z" fill="url(#g19)"/>
<path d="M167.3,321.0C168.3,319.3 172.6,319.8 175.0,319.8C177.4,319.8 180.8,319.6 182.0,321.0C183.2,322.4 183.0,326.5 182.0,328.0C181.0,329.5 178.2,329.9 176.0,330.2C173.8,330.5 170.4,331.5 169.0,330.0C167.6,328.5 166.3,322.7 167.3,321.0Z" fill="url(#g19)"/>
<path d="M155.2,321.0C156.2,319.5 159.5,319.2 162.0,319.0C164.5,318.8 168.2,319.0 170.0,320.0C171.8,321.0 172.5,323.3 172.5,325.0C172.5,326.7 171.8,329.1 170.0,330.0C168.2,330.9 164.3,330.5 162.0,330.2C159.7,329.9 157.1,329.5 156.0,328.0C154.9,326.5 154.2,322.5 155.2,321.0Z" fill="url(#g35)"/>
<path d="M184.0,319.0C185.1,317.9 188.0,317.4 190.0,317.2C192.0,317.0 194.7,316.9 196.0,318.0C197.3,319.1 197.8,322.0 197.6,324.0C197.4,326.0 196.4,328.7 195.0,330.0C193.6,331.3 190.8,332.0 189.0,332.0C187.2,332.0 184.9,331.3 184.0,330.0C183.1,328.7 183.7,325.8 183.7,324.0C183.7,322.2 182.9,320.1 184.0,319.0Z" fill="url(#g36)"/>
<path d="M196.7,318.0C197.4,317.2 199.6,316.5 201.0,317.2C202.4,317.9 203.8,320.2 205.0,322.0C206.2,323.8 207.1,326.0 208.0,328.0C208.9,330.0 210.3,332.2 210.5,334.0C210.7,335.8 209.9,338.3 209.0,338.8C208.1,339.3 206.2,338.3 205.0,337.0C203.8,335.7 203.0,332.8 202.0,331.0C201.0,329.2 199.9,327.5 199.0,326.0C198.1,324.5 197.1,323.3 196.7,322.0C196.3,320.7 196.0,318.8 196.7,318.0Z" fill="url(#g19)"/>
<path d="M164.7,333.0C166.1,331.0 169.4,330.4 172.0,330.2C174.6,330.0 178.5,330.4 180.0,332.0C181.5,333.6 181.0,337.3 181.0,340.0C181.0,342.7 181.3,345.9 180.0,348.0C178.7,350.1 175.5,352.0 173.0,352.3C170.5,352.6 166.5,351.7 165.0,350.0C163.5,348.3 163.9,344.8 163.8,342.0C163.8,339.2 163.3,335.0 164.7,333.0Z" fill="url(#g37)"/>
<path d="M178.5,333.0C179.5,331.2 184.9,330.8 188.0,331.0C191.1,331.2 194.7,332.8 197.0,334.0C199.3,335.2 200.6,336.2 202.0,338.0C203.4,339.8 205.7,343.2 205.4,345.0C205.1,346.8 202.6,348.5 200.0,348.8C197.4,349.1 193.0,348.1 190.0,347.0C187.0,345.9 183.9,344.3 182.0,342.0C180.1,339.7 177.5,334.8 178.5,333.0Z" fill="url(#g19)"/>
<path d="M176.0,344.0C177.3,342.7 181.3,341.7 184.0,342.0C186.7,342.3 191.1,344.0 192.4,346.0C193.7,348.0 193.1,352.1 192.0,354.0C190.9,355.9 188.3,357.2 186.0,357.5C183.7,357.8 179.7,357.2 178.0,356.0C176.3,354.8 176.3,352.0 176.0,350.0C175.7,348.0 174.7,345.3 176.0,344.0Z" fill="url(#g38)"/>
<path d="M193.3,345.4C194.1,343.6 197.6,344.2 199.0,345.0C200.4,345.8 201.5,347.8 202.0,350.0C202.5,352.2 202.7,356.2 202.0,358.0C201.3,359.8 199.3,361.3 198.0,361.0C196.7,360.7 194.8,358.6 194.0,356.0C193.2,353.4 192.5,347.2 193.3,345.4Z" fill="url(#g39)"/>
<path d="M208.8,338.5C209.8,337.0 213.1,337.9 215.0,339.0C216.9,340.1 218.4,342.8 220.0,345.0C221.6,347.2 223.7,349.2 224.4,352.0C225.1,354.8 224.9,359.9 224.0,362.0C223.1,364.1 220.8,365.1 219.0,364.4C217.2,363.7 214.7,360.7 213.0,358.0C211.3,355.3 209.7,351.2 209.0,348.0C208.3,344.8 207.8,340.0 208.8,338.5Z" fill="url(#g40)"/>
<path d="M199.0,350.0C199.8,348.5 202.3,347.2 204.0,347.0C205.7,346.8 208.0,347.7 209.0,349.0C210.0,350.3 210.2,353.0 210.0,355.0C209.8,357.0 209.3,360.0 208.0,361.0C206.7,362.0 203.5,361.8 202.0,361.0C200.5,360.2 199.5,357.8 199.0,356.0C198.5,354.2 198.2,351.5 199.0,350.0Z" fill="url(#g41)"/>
<path d="M203.6,364.0C204.1,362.8 207.1,363.0 208.0,364.0C208.9,365.0 209.5,368.8 209.0,370.0C208.5,371.2 205.9,372.0 205.0,371.0C204.1,370.0 203.1,365.2 203.6,364.0Z" fill="url(#g42)"/>
<path d="M203.6,369.6C204.3,368.1 206.8,367.9 208.0,369.0C209.2,370.1 210.3,373.2 211.0,376.0C211.7,378.8 212.3,382.4 212.3,386.0C212.3,389.6 212.1,395.5 211.0,397.3C209.9,399.1 207.2,398.6 206.0,397.0C204.8,395.4 204.4,391.2 204.0,388.0C203.6,384.8 203.7,381.1 203.6,378.0C203.5,374.9 202.9,371.1 203.6,369.6Z" fill="url(#g19)"/>
<path d="M216.6,362.7C217.4,361.5 220.4,361.8 222.0,363.0C223.6,364.2 225.0,367.2 226.0,370.0C227.0,372.8 227.9,376.6 227.9,380.0C227.9,383.4 227.2,388.7 226.0,390.4C224.8,392.1 222.2,391.7 221.0,390.0C219.8,388.3 219.7,383.3 219.0,380.0C218.3,376.7 217.4,372.9 217.0,370.0C216.6,367.1 215.8,363.9 216.6,362.7Z" fill="url(#g43)"/>
<path d="M210.5,390.0C211.2,388.8 213.9,388.8 216.0,388.6C218.1,388.4 221.6,388.1 223.0,389.0C224.4,389.9 225.1,392.9 224.4,394.0C223.7,395.1 221.1,395.3 219.0,395.6C216.9,395.9 213.4,396.5 212.0,395.6C210.6,394.7 209.8,391.2 210.5,390.0Z" fill="url(#g36)"/>
<path d="M180.0,290.0C181.4,288.2 183.8,287.4 186.0,287.0C188.2,286.6 190.8,287.0 193.0,287.5C195.2,288.0 197.7,288.6 199.0,290.0C200.3,291.4 200.8,293.8 201.0,296.0C201.2,298.2 200.8,300.8 200.0,303.0C199.2,305.2 197.7,307.4 196.0,309.0C194.3,310.6 192.0,312.6 190.0,312.9C188.0,313.2 185.8,312.1 184.0,311.0C182.2,309.9 180.1,308.2 179.0,306.0C177.9,303.8 177.5,300.7 177.7,298.0C177.9,295.3 178.6,291.8 180.0,290.0Z" fill="url(#g44)"/></g>
<path d="M172.5,290.4C175.5,288.2 180.8,286.9 184.6,286.0C188.3,285.1 192.1,284.8 195.0,285.2C197.9,285.6 199.6,286.4 201.9,288.7C204.2,291.0 206.8,295.6 208.8,299.0C210.8,302.4 212.3,305.6 214.0,309.4C215.7,313.1 217.5,317.5 219.2,321.5C220.9,325.5 223.2,330.5 224.4,333.6C225.6,336.7 225.4,337.1 226.1,340.2C226.8,343.3 227.8,347.4 228.7,352.3C229.6,357.2 231.2,363.8 231.3,369.6C231.5,375.4 230.5,382.4 229.6,387.0C228.7,391.6 227.8,395.0 226.1,397.3C224.4,399.6 222.4,399.6 219.2,400.7C216.0,401.8 210.0,403.3 207.0,404.2C204.0,405.1 202.6,406.9 201.0,406.0C199.4,405.1 198.5,402.2 197.6,399.0C196.7,395.8 196.0,390.8 195.8,387.0C195.7,383.2 196.4,380.0 196.7,376.5C197.0,373.0 198.2,368.6 197.6,366.0C197.0,363.4 195.2,362.4 193.3,361.0C191.4,359.6 189.2,358.5 186.3,357.5C183.4,356.5 179.8,356.0 176.0,355.0C172.2,354.0 167.0,353.0 163.8,351.4C160.6,349.8 158.4,348.1 157.0,345.4C155.6,342.7 155.6,337.5 155.2,335.0C154.8,332.5 154.3,332.1 154.3,330.2C154.3,328.2 154.3,325.3 155.2,323.3C156.1,321.3 158.1,320.3 159.5,318.0C160.9,315.7 162.7,312.6 163.8,309.4C165.0,306.2 165.0,302.2 166.4,299.0C167.8,295.8 169.5,292.6 172.5,290.4Z" fill="#bdbdbd" opacity="0.05"/>
<clipPath id="env3"><path d="M250.8,287.1C252.0,284.2 254.3,281.8 256.0,280.2C257.7,278.6 258.2,278.1 261.1,277.6C264.0,277.1 269.8,276.6 273.3,277.0C276.8,277.4 279.6,278.2 281.9,280.2C284.2,282.2 286.0,285.9 287.1,288.8C288.2,291.7 286.8,295.5 288.8,297.5C290.8,299.5 296.3,299.6 299.2,301.0C302.1,302.4 304.1,303.8 306.1,306.1C308.1,308.4 309.7,311.6 311.3,314.8C312.9,318.0 314.7,321.4 315.6,325.2C316.5,329.0 315.4,334.0 316.5,337.7C317.6,341.4 320.5,343.8 322.3,347.3C324.1,350.8 326.0,354.6 327.1,358.8C328.2,363.0 329.1,368.4 329.0,372.3C328.9,376.2 328.3,379.1 326.2,382.0C324.1,384.9 319.7,387.5 316.5,389.6C313.3,391.7 310.4,393.3 307.0,394.4C303.6,395.5 298.2,397.4 296.3,396.3C294.4,395.2 295.9,391.1 295.4,387.7C294.9,384.3 294.1,379.9 293.5,376.0C292.9,372.1 292.5,368.1 291.5,364.6C290.5,361.1 289.3,357.2 287.7,355.0C286.1,352.8 284.6,351.5 282.0,351.2C279.4,350.9 275.5,353.3 272.3,353.0C269.1,352.7 265.9,350.5 262.7,349.2C259.5,347.9 256.1,347.3 253.0,345.4C249.9,343.5 246.3,340.3 244.4,337.7C242.5,335.1 242.2,332.7 241.5,330.0C240.8,327.3 240.3,324.2 240.4,321.7C240.5,319.2 241.1,317.4 242.1,314.8C243.1,312.2 245.2,309.0 246.4,306.1C247.6,303.2 248.3,300.7 249.0,297.5C249.7,294.3 249.6,290.0 250.8,287.1Z"/></clipPath>
<path d="M250.8,287.1C252.0,284.2 254.3,281.8 256.0,280.2C257.7,278.6 258.2,278.1 261.1,277.6C264.0,277.1 269.8,276.6 273.3,277.0C276.8,277.4 279.6,278.2 281.9,280.2C284.2,282.2 286.0,285.9 287.1,288.8C288.2,291.7 286.8,295.5 288.8,297.5C290.8,299.5 296.3,299.6 299.2,301.0C302.1,302.4 304.1,303.8 306.1,306.1C308.1,308.4 309.7,311.6 311.3,314.8C312.9,318.0 314.7,321.4 315.6,325.2C316.5,329.0 315.4,334.0 316.5,337.7C317.6,341.4 320.5,343.8 322.3,347.3C324.1,350.8 326.0,354.6 327.1,358.8C328.2,363.0 329.1,368.4 329.0,372.3C328.9,376.2 328.3,379.1 326.2,382.0C324.1,384.9 319.7,387.5 316.5,389.6C313.3,391.7 310.4,393.3 307.0,394.4C303.6,395.5 298.2,397.4 296.3,396.3C294.4,395.2 295.9,391.1 295.4,387.7C294.9,384.3 294.1,379.9 293.5,376.0C292.9,372.1 292.5,368.1 291.5,364.6C290.5,361.1 289.3,357.2 287.7,355.0C286.1,352.8 284.6,351.5 282.0,351.2C279.4,350.9 275.5,353.3 272.3,353.0C269.1,352.7 265.9,350.5 262.7,349.2C259.5,347.9 256.1,347.3 253.0,345.4C249.9,343.5 246.3,340.3 244.4,337.7C242.5,335.1 242.2,332.7 241.5,330.0C240.8,327.3 240.3,324.2 240.4,321.7C240.5,319.2 241.1,317.4 242.1,314.8C243.1,312.2 245.2,309.0 246.4,306.1C247.6,303.2 248.3,300.7 249.0,297.5C249.7,294.3 249.6,290.0 250.8,287.1Z" fill="#bdbdbd" stroke="#a9a9a9" stroke-width="1.2"/>
<g clip-path="url(#env3)"><path d="M250.8,287.1C252.0,284.2 254.3,281.8 256.0,280.2C257.7,278.6 258.2,278.1 261.1,277.6C264.0,277.1 269.8,276.6 273.3,277.0C276.8,277.4 279.6,278.2 281.9,280.2C284.2,282.2 286.0,285.9 287.1,288.8C288.2,291.7 286.8,295.5 288.8,297.5C290.8,299.5 296.3,299.6 299.2,301.0C302.1,302.4 304.1,303.8 306.1,306.1C308.1,308.4 309.7,311.6 311.3,314.8C312.9,318.0 314.7,321.4 315.6,325.2C316.5,329.0 315.4,334.0 316.5,337.7C317.6,341.4 320.5,343.8 322.3,347.3C324.1,350.8 326.0,354.6 327.1,358.8C328.2,363.0 329.1,368.4 329.0,372.3C328.9,376.2 328.3,379.1 326.2,382.0C324.1,384.9 319.7,387.5 316.5,389.6C313.3,391.7 310.4,393.3 307.0,394.4C303.6,395.5 298.2,397.4 296.3,396.3C294.4,395.2 295.9,391.1 295.4,387.7C294.9,384.3 294.1,379.9 293.5,376.0C292.9,372.1 292.5,368.1 291.5,364.6C290.5,361.1 289.3,357.2 287.7,355.0C286.1,352.8 284.6,351.5 282.0,351.2C279.4,350.9 275.5,353.3 272.3,353.0C269.1,352.7 265.9,350.5 262.7,349.2C259.5,347.9 256.1,347.3 253.0,345.4C249.9,343.5 246.3,340.3 244.4,337.7C242.5,335.1 242.2,332.7 241.5,330.0C240.8,327.3 240.3,324.2 240.4,321.7C240.5,319.2 241.1,317.4 242.1,314.8C243.1,312.2 245.2,309.0 246.4,306.1C247.6,303.2 248.3,300.7 249.0,297.5C249.7,294.3 249.6,290.0 250.8,287.1Z" fill="none" stroke="#909090" stroke-width="3.5" opacity="0.45" filter="url(#bl1)"/></g>
<g filter="url(#bump)"><path d="M250.0,294.0C250.8,292.5 253.0,290.7 255.0,290.0C257.0,289.3 260.2,289.0 262.0,290.0C263.8,291.0 265.8,294.0 266.0,296.0C266.2,298.0 264.7,300.8 263.0,302.0C261.3,303.2 258.2,303.5 256.0,303.0C253.8,302.5 251.0,300.5 250.0,299.0C249.0,297.5 249.2,295.5 250.0,294.0Z" fill="url(#g45)"/>
<path d="M250.0,294.5C250.3,293.4 252.7,292.9 253.5,293.5C254.3,294.1 255.3,296.9 255.0,298.0C254.7,299.1 252.3,300.6 251.5,300.0C250.7,299.4 249.7,295.6 250.0,294.5Z" fill="url(#g46)"/>
<path d="M262.5,304.0C263.3,302.9 266.5,302.2 267.5,303.5C268.5,304.8 268.4,309.2 268.5,312.0C268.6,314.8 268.4,317.8 268.0,320.0C267.6,322.2 267.3,323.8 266.0,325.0C264.7,326.2 261.5,327.2 260.0,327.0C258.5,326.8 256.7,325.5 257.0,324.0C257.3,322.5 261.1,320.3 262.0,318.0C262.9,315.7 262.4,312.3 262.5,310.0C262.6,307.7 261.7,305.1 262.5,304.0Z" fill="url(#g19)"/>
<path d="M241.0,318.0C241.5,316.0 243.8,314.8 246.0,314.0C248.2,313.2 251.8,312.5 254.0,313.0C256.2,313.5 258.6,315.2 259.2,317.0C259.8,318.8 259.0,322.2 257.5,324.0C256.0,325.8 252.4,327.3 250.0,327.6C247.6,327.9 244.5,327.6 243.0,326.0C241.5,324.4 240.5,320.0 241.0,318.0Z" fill="url(#g47)"/>
<path d="M268.4,314.0C269.2,311.3 271.7,311.3 274.0,311.0C276.3,310.7 280.2,310.7 282.0,312.0C283.8,313.3 284.8,316.3 284.8,319.0C284.8,321.7 283.6,326.0 282.0,328.0C280.4,330.0 277.2,331.2 275.0,331.0C272.8,330.8 270.1,329.8 269.0,327.0C267.9,324.2 267.6,316.7 268.4,314.0Z" fill="url(#g48)"/>
<path d="M277.5,305.7C278.4,305.0 279.9,303.9 282.0,305.0C284.1,306.1 287.3,309.5 290.0,312.0C292.7,314.5 295.7,317.3 298.0,320.0C300.3,322.7 302.4,325.3 304.0,328.0C305.6,330.7 307.2,333.8 307.5,336.0C307.8,338.2 306.6,340.7 305.5,341.0C304.4,341.3 302.8,339.8 301.0,338.0C299.2,336.2 297.3,332.7 295.0,330.0C292.7,327.3 289.5,324.7 287.0,322.0C284.5,319.3 281.8,316.2 280.0,314.0C278.2,311.8 276.9,310.4 276.5,309.0C276.1,307.6 276.6,306.4 277.5,305.7Z" fill="url(#g43)"/>
<path d="M251.0,331.0C252.2,328.7 254.7,326.0 257.0,325.0C259.3,324.0 263.1,323.7 265.0,325.0C266.9,326.3 268.0,330.0 268.4,333.0C268.8,336.0 268.6,340.6 267.5,343.0C266.4,345.4 264.1,347.2 262.0,347.7C259.9,348.2 257.0,347.4 255.0,346.0C253.0,344.6 250.7,341.5 250.0,339.0C249.3,336.5 249.8,333.3 251.0,331.0Z" fill="url(#g49)"/>
<path d="M264.7,341.0C265.5,339.1 267.6,336.3 270.0,335.5C272.4,334.7 276.5,334.9 279.0,336.0C281.5,337.1 284.1,339.7 284.8,342.0C285.6,344.3 285.0,348.1 283.5,350.0C282.0,351.9 278.6,353.2 276.0,353.5C273.4,353.8 269.8,353.1 268.0,352.0C266.2,350.9 265.6,348.8 265.0,347.0C264.4,345.2 263.9,342.9 264.7,341.0Z" fill="url(#g50)"/>
<path d="M284.8,335.0C285.5,332.0 288.0,331.3 290.0,331.0C292.0,330.7 295.4,331.3 297.0,333.0C298.6,334.7 299.4,338.2 299.4,341.0C299.4,343.8 298.4,348.0 297.0,350.0C295.6,352.0 292.8,353.2 291.0,353.0C289.2,352.8 287.0,352.0 286.0,349.0C285.0,346.0 284.1,338.0 284.8,335.0Z" fill="url(#g39)"/>
<path d="M266.0,327.5C266.9,326.5 268.5,324.6 271.0,325.0C273.5,325.4 277.7,328.2 281.0,330.0C284.3,331.8 288.2,333.8 291.0,335.5C293.8,337.2 297.0,338.4 298.0,340.0C299.0,341.6 298.3,344.3 297.0,345.0C295.7,345.7 292.8,345.0 290.0,344.0C287.2,343.0 283.3,340.7 280.0,339.0C276.7,337.3 272.4,335.3 270.0,334.0C267.6,332.7 266.2,332.1 265.5,331.0C264.8,329.9 265.1,328.5 266.0,327.5Z" fill="url(#g19)"/>
<path d="M297.6,334.0C298.4,332.5 300.8,330.7 303.0,331.0C305.2,331.3 308.8,333.8 311.0,336.0C313.2,338.2 314.9,341.2 316.0,344.0C317.1,346.8 318.0,350.6 317.7,353.0C317.4,355.4 315.6,358.3 314.0,358.6C312.4,358.9 310.0,356.9 308.0,355.0C306.0,353.1 303.7,349.5 302.0,347.0C300.3,344.5 298.7,342.2 298.0,340.0C297.3,337.8 296.8,335.5 297.6,334.0Z" fill="url(#g51)"/>
<path d="M290.3,343.0C291.2,341.3 293.9,338.9 296.0,338.6C298.1,338.3 301.5,339.4 303.0,341.0C304.5,342.6 305.3,345.7 305.0,348.0C304.7,350.3 302.8,353.9 301.0,355.0C299.2,356.1 295.8,355.5 294.0,354.5C292.2,353.5 291.1,350.9 290.5,349.0C289.9,347.1 289.4,344.7 290.3,343.0Z" fill="url(#g41)"/>
<path d="M297.0,356.0C297.5,354.8 300.5,355.0 301.5,356.0C302.5,357.0 303.5,360.8 303.0,362.0C302.5,363.2 299.5,364.5 298.5,363.5C297.5,362.5 296.5,357.2 297.0,356.0Z" fill="url(#g52)"/>
<path d="M296.0,361.0C296.5,358.9 298.8,358.1 300.0,358.6C301.2,359.1 302.2,361.8 303.0,364.0C303.8,366.2 304.4,369.0 305.0,372.0C305.6,375.0 306.5,378.8 306.7,382.0C306.9,385.2 306.9,390.0 306.0,391.5C305.1,393.0 302.7,392.6 301.5,391.0C300.3,389.4 299.8,385.3 299.0,382.0C298.2,378.7 297.5,374.5 297.0,371.0C296.5,367.5 295.5,363.1 296.0,361.0Z" fill="url(#g19)"/>
<path d="M312.2,354.0C312.9,351.9 315.5,350.6 317.0,351.3C318.5,352.0 320.0,355.2 321.0,358.0C322.0,360.8 322.9,364.7 323.2,368.0C323.4,371.3 323.0,375.3 322.5,378.0C322.0,380.7 321.2,383.3 320.0,384.2C318.8,385.1 316.4,385.2 315.5,383.5C314.6,381.8 314.9,377.2 314.5,374.0C314.1,370.8 313.4,367.3 313.0,364.0C312.6,360.7 311.5,356.1 312.2,354.0Z" fill="url(#g43)"/>
<path d="M305.0,384.0C305.9,383.0 308.6,382.6 311.0,382.4C313.4,382.2 318.2,381.9 319.5,383.0C320.8,384.1 320.1,387.9 318.5,389.0C316.9,390.1 312.2,389.8 310.0,389.7C307.8,389.6 306.3,389.4 305.5,388.5C304.7,387.6 304.1,385.0 305.0,384.0Z" fill="url(#g48)"/>
<path d="M263.0,284.0C264.0,282.2 265.8,280.4 268.0,279.5C270.2,278.6 273.5,278.1 276.0,278.3C278.5,278.6 281.2,279.6 283.0,281.0C284.8,282.4 286.1,284.7 286.6,287.0C287.1,289.3 286.8,292.7 286.0,295.0C285.2,297.3 283.8,299.5 282.0,301.0C280.2,302.5 277.3,303.6 275.0,303.8C272.7,304.1 269.9,303.6 268.0,302.5C266.1,301.4 264.5,299.1 263.5,297.0C262.5,294.9 262.3,292.2 262.2,290.0C262.1,287.8 262.0,285.8 263.0,284.0Z" fill="url(#g53)"/></g>
<path d="M250.8,287.1C252.0,284.2 254.3,281.8 256.0,280.2C257.7,278.6 258.2,278.1 261.1,277.6C264.0,277.1 269.8,276.6 273.3,277.0C276.8,277.4 279.6,278.2 281.9,280.2C284.2,282.2 286.0,285.9 287.1,288.8C288.2,291.7 286.8,295.5 288.8,297.5C290.8,299.5 296.3,299.6 299.2,301.0C302.1,302.4 304.1,303.8 306.1,306.1C308.1,308.4 309.7,311.6 311.3,314.8C312.9,318.0 314.7,321.4 315.6,325.2C316.5,329.0 315.4,334.0 316.5,337.7C317.6,341.4 320.5,343.8 322.3,347.3C324.1,350.8 326.0,354.6 327.1,358.8C328.2,363.0 329.1,368.4 329.0,372.3C328.9,376.2 328.3,379.1 326.2,382.0C324.1,384.9 319.7,387.5 316.5,389.6C313.3,391.7 310.4,393.3 307.0,394.4C303.6,395.5 298.2,397.4 296.3,396.3C294.4,395.2 295.9,391.1 295.4,387.7C294.9,384.3 294.1,379.9 293.5,376.0C292.9,372.1 292.5,368.1 291.5,364.6C290.5,361.1 289.3,357.2 287.7,355.0C286.1,352.8 284.6,351.5 282.0,351.2C279.4,350.9 275.5,353.3 272.3,353.0C269.1,352.7 265.9,350.5 262.7,349.2C259.5,347.9 256.1,347.3 253.0,345.4C249.9,343.5 246.3,340.3 244.4,337.7C242.5,335.1 242.2,332.7 241.5,330.0C240.8,327.3 240.3,324.2 240.4,321.7C240.5,319.2 241.1,317.4 242.1,314.8C243.1,312.2 245.2,309.0 246.4,306.1C247.6,303.2 248.3,300.7 249.0,297.5C249.7,294.3 249.6,290.0 250.8,287.1Z" fill="#bdbdbd" opacity="0.05"/>
<clipPath id="env4"><path d="M340.8,277.1C340.9,274.5 340.8,273.3 342.5,271.9C344.2,270.5 347.9,269.1 351.1,268.5C354.3,267.9 358.8,267.9 361.5,268.5C364.2,269.1 366.3,269.9 367.6,271.9C368.9,273.9 368.6,276.6 369.3,280.6C370.0,284.6 370.6,292.9 371.9,296.1C373.2,299.3 375.7,297.9 377.1,299.6C378.6,301.3 379.7,304.5 380.6,306.5C381.5,308.5 380.3,310.0 382.3,311.7C384.3,313.4 389.5,314.6 392.7,316.9C395.9,319.2 399.1,322.3 401.3,325.6C403.5,328.9 404.6,333.1 405.6,336.5C406.6,339.9 407.0,342.3 407.5,346.2C408.0,350.1 408.2,355.4 408.5,359.6C408.8,363.8 408.8,367.4 409.4,371.2C410.0,375.0 412.1,379.5 412.3,382.7C412.5,385.9 412.3,388.3 410.4,390.4C408.5,392.5 404.3,394.2 400.8,395.2C397.3,396.2 392.1,396.7 389.2,396.2C386.3,395.7 384.8,394.2 383.5,392.3C382.2,390.4 382.1,388.1 381.5,384.6C380.9,381.1 380.2,375.4 379.6,371.2C379.0,367.0 378.7,362.5 377.7,359.6C376.7,356.7 375.7,355.2 373.8,353.8C371.9,352.4 369.4,352.1 366.2,351.0C363.0,349.9 357.8,348.2 354.6,347.1C351.4,346.0 349.8,345.3 346.9,344.2C344.0,343.1 340.5,342.0 337.3,340.4C334.1,338.8 329.7,337.1 327.7,334.6C325.7,332.1 325.5,328.3 325.2,325.6C324.9,322.9 325.3,320.8 326.0,318.6C326.7,316.4 327.9,314.6 329.5,312.6C331.1,310.6 333.7,308.7 335.6,306.5C337.5,304.3 339.8,302.8 340.8,299.6C341.8,296.4 341.6,291.2 341.6,287.5C341.6,283.8 340.7,279.7 340.8,277.1Z"/></clipPath>
<path d="M340.8,277.1C340.9,274.5 340.8,273.3 342.5,271.9C344.2,270.5 347.9,269.1 351.1,268.5C354.3,267.9 358.8,267.9 361.5,268.5C364.2,269.1 366.3,269.9 367.6,271.9C368.9,273.9 368.6,276.6 369.3,280.6C370.0,284.6 370.6,292.9 371.9,296.1C373.2,299.3 375.7,297.9 377.1,299.6C378.6,301.3 379.7,304.5 380.6,306.5C381.5,308.5 380.3,310.0 382.3,311.7C384.3,313.4 389.5,314.6 392.7,316.9C395.9,319.2 399.1,322.3 401.3,325.6C403.5,328.9 404.6,333.1 405.6,336.5C406.6,339.9 407.0,342.3 407.5,346.2C408.0,350.1 408.2,355.4 408.5,359.6C408.8,363.8 408.8,367.4 409.4,371.2C410.0,375.0 412.1,379.5 412.3,382.7C412.5,385.9 412.3,388.3 410.4,390.4C408.5,392.5 404.3,394.2 400.8,395.2C397.3,396.2 392.1,396.7 389.2,396.2C386.3,395.7 384.8,394.2 383.5,392.3C382.2,390.4 382.1,388.1 381.5,384.6C380.9,381.1 380.2,375.4 379.6,371.2C379.0,367.0 378.7,362.5 377.7,359.6C376.7,356.7 375.7,355.2 373.8,353.8C371.9,352.4 369.4,352.1 366.2,351.0C363.0,349.9 357.8,348.2 354.6,347.1C351.4,346.0 349.8,345.3 346.9,344.2C344.0,343.1 340.5,342.0 337.3,340.4C334.1,338.8 329.7,337.1 327.7,334.6C325.7,332.1 325.5,328.3 325.2,325.6C324.9,322.9 325.3,320.8 326.0,318.6C326.7,316.4 327.9,314.6 329.5,312.6C331.1,310.6 333.7,308.7 335.6,306.5C337.5,304.3 339.8,302.8 340.8,299.6C341.8,296.4 341.6,291.2 341.6,287.5C341.6,283.8 340.7,279.7 340.8,277.1Z" fill="#bdbdbd" stroke="#a9a9a9" stroke-width="1.2"/>
<g clip-path="url(#env4)"><path d="M340.8,277.1C340.9,274.5 340.8,273.3 342.5,271.9C344.2,270.5 347.9,269.1 351.1,268.5C354.3,267.9 358.8,267.9 361.5,268.5C364.2,269.1 366.3,269.9 367.6,271.9C368.9,273.9 368.6,276.6 369.3,280.6C370.0,284.6 370.6,292.9 371.9,296.1C373.2,299.3 375.7,297.9 377.1,299.6C378.6,301.3 379.7,304.5 380.6,306.5C381.5,308.5 380.3,310.0 382.3,311.7C384.3,313.4 389.5,314.6 392.7,316.9C395.9,319.2 399.1,322.3 401.3,325.6C403.5,328.9 404.6,333.1 405.6,336.5C406.6,339.9 407.0,342.3 407.5,346.2C408.0,350.1 408.2,355.4 408.5,359.6C408.8,363.8 408.8,367.4 409.4,371.2C410.0,375.0 412.1,379.5 412.3,382.7C412.5,385.9 412.3,388.3 410.4,390.4C408.5,392.5 404.3,394.2 400.8,395.2C397.3,396.2 392.1,396.7 389.2,396.2C386.3,395.7 384.8,394.2 383.5,392.3C382.2,390.4 382.1,388.1 381.5,384.6C380.9,381.1 380.2,375.4 379.6,371.2C379.0,367.0 378.7,362.5 377.7,359.6C376.7,356.7 375.7,355.2 373.8,353.8C371.9,352.4 369.4,352.1 366.2,351.0C363.0,349.9 357.8,348.2 354.6,347.1C351.4,346.0 349.8,345.3 346.9,344.2C344.0,343.1 340.5,342.0 337.3,340.4C334.1,338.8 329.7,337.1 327.7,334.6C325.7,332.1 325.5,328.3 325.2,325.6C324.9,322.9 325.3,320.8 326.0,318.6C326.7,316.4 327.9,314.6 329.5,312.6C331.1,310.6 333.7,308.7 335.6,306.5C337.5,304.3 339.8,302.8 340.8,299.6C341.8,296.4 341.6,291.2 341.6,287.5C341.6,283.8 340.7,279.7 340.8,277.1Z" fill="none" stroke="#909090" stroke-width="3.5" opacity="0.45" filter="url(#bl1)"/></g>
<g filter="url(#bump)"><path d="M337.8,295.0C338.3,293.8 339.5,292.2 341.0,291.5C342.5,290.8 345.4,290.2 347.0,291.0C348.6,291.8 350.4,294.2 350.6,296.0C350.8,297.8 349.6,300.5 348.0,301.5C346.4,302.5 342.7,302.4 341.0,302.0C339.3,301.6 338.5,300.2 338.0,299.0C337.5,297.8 337.3,296.2 337.8,295.0Z" fill="url(#g46)"/>
<path d="M328.6,316.0C329.1,314.0 331.6,312.3 334.0,311.5C336.4,310.7 340.8,310.2 343.0,311.0C345.2,311.8 346.7,314.0 347.0,316.0C347.3,318.0 346.5,321.4 345.0,323.0C343.5,324.6 340.3,325.7 338.0,325.8C335.7,325.9 332.6,325.1 331.0,323.5C329.4,321.9 328.1,318.0 328.6,316.0Z" fill="url(#g54)"/>
<path d="M356.0,322.0C357.3,319.9 361.0,317.3 364.0,316.6C367.0,315.9 371.4,316.4 374.0,318.0C376.6,319.6 379.3,323.0 379.8,326.0C380.3,329.0 379.0,333.9 377.0,336.0C375.0,338.1 371.0,338.6 368.0,338.6C365.0,338.6 361.0,337.6 359.0,336.0C357.0,334.4 356.5,331.3 356.0,329.0C355.5,326.7 354.7,324.1 356.0,322.0Z" fill="url(#g55)"/>
<path d="M372.0,312.0C373.0,310.7 376.8,310.4 379.0,311.0C381.2,311.6 383.2,313.5 385.0,315.5C386.8,317.5 388.8,320.2 389.5,323.0C390.2,325.8 390.1,329.8 389.5,332.0C388.9,334.2 387.4,335.8 386.0,336.0C384.6,336.2 382.5,334.7 381.0,333.0C379.5,331.3 378.3,328.3 377.0,326.0C375.7,323.7 373.8,321.3 373.0,319.0C372.2,316.7 371.0,313.3 372.0,312.0Z" fill="url(#g43)"/>
<path d="M345.0,313.0C345.7,311.7 347.8,310.2 350.0,309.5C352.2,308.8 355.3,308.6 358.0,308.5C360.7,308.4 363.3,308.8 366.0,309.0C368.7,309.2 371.5,309.5 374.0,310.0C376.5,310.5 379.5,311.0 381.0,312.0C382.5,313.0 383.5,315.0 383.0,316.0C382.5,317.0 380.3,317.9 378.0,318.0C375.7,318.1 372.2,316.8 369.0,316.5C365.8,316.2 362.0,316.2 359.0,316.5C356.0,316.8 353.2,317.8 351.0,318.0C348.8,318.2 347.0,318.3 346.0,317.5C345.0,316.7 344.3,314.3 345.0,313.0Z" fill="url(#g19)"/>
<path d="M348.5,305.0C349.2,303.7 351.8,302.5 353.0,303.0C354.2,303.5 355.5,306.5 355.5,308.0C355.5,309.5 354.2,311.5 353.0,312.0C351.8,312.5 349.2,312.2 348.5,311.0C347.8,309.8 347.8,306.3 348.5,305.0Z" fill="url(#g19)"/>
<path d="M339.6,330.0C340.5,327.5 342.8,323.2 345.0,322.0C347.2,320.8 351.2,321.5 353.0,323.0C354.8,324.5 355.7,328.0 356.0,331.0C356.3,334.0 356.2,338.5 355.0,341.0C353.8,343.5 351.2,345.4 349.0,345.9C346.8,346.4 343.6,345.5 342.0,344.0C340.4,342.5 339.9,339.3 339.5,337.0C339.1,334.7 338.7,332.5 339.6,330.0Z" fill="url(#g56)"/>
<path d="M352.4,325.0C353.2,323.4 355.7,320.7 358.0,320.3C360.3,319.9 363.3,321.3 366.0,322.5C368.7,323.7 371.7,325.8 374.0,327.5C376.3,329.2 379.5,331.1 379.8,333.0C380.1,334.9 378.1,338.0 376.0,338.6C373.9,339.2 370.0,337.4 367.0,336.5C364.0,335.6 360.3,334.1 358.0,333.0C355.7,331.9 353.9,331.3 353.0,330.0C352.1,328.7 351.6,326.6 352.4,325.0Z" fill="url(#g19)"/>
<path d="M354.2,337.0C354.9,334.8 357.7,332.2 360.0,331.5C362.3,330.8 366.2,331.1 368.0,332.5C369.8,333.9 370.7,337.4 370.7,340.0C370.7,342.6 369.6,346.4 368.0,348.0C366.4,349.6 363.1,350.0 361.0,349.5C358.9,349.0 356.6,347.1 355.5,345.0C354.4,342.9 353.4,339.2 354.2,337.0Z" fill="url(#g57)"/>
<path d="M376.0,341.0C376.8,339.3 378.7,337.0 381.0,336.0C383.3,335.0 387.0,334.8 390.0,335.0C393.0,335.2 396.5,336.0 399.0,337.0C401.5,338.0 403.6,339.2 405.0,341.0C406.4,342.8 407.2,345.4 407.2,348.0C407.2,350.6 406.2,355.6 405.0,356.8C403.8,358.0 401.7,356.5 400.0,355.0C398.3,353.5 397.0,349.5 395.0,348.0C393.0,346.5 389.7,345.3 388.0,346.0C386.3,346.7 385.2,349.7 385.0,352.0C384.8,354.3 387.2,357.7 387.0,360.0C386.8,362.3 385.2,365.7 384.0,366.0C382.8,366.3 380.5,364.3 379.5,362.0C378.5,359.7 378.6,354.7 378.0,352.0C377.4,349.3 376.3,347.8 376.0,346.0C375.7,344.2 375.2,342.7 376.0,341.0Z" fill="url(#g58)"/>
<path d="M380.5,362.0C381.0,360.2 382.9,358.7 384.0,359.0C385.1,359.3 386.2,361.8 387.0,364.0C387.8,366.2 388.1,369.0 388.5,372.0C388.9,375.0 389.5,379.1 389.5,382.0C389.5,384.9 389.3,388.5 388.5,389.7C387.7,390.9 385.5,390.6 384.5,389.0C383.5,387.4 383.1,383.2 382.5,380.0C381.9,376.8 381.3,373.0 381.0,370.0C380.7,367.0 380.0,363.8 380.5,362.0Z" fill="url(#g19)"/>
<path d="M396.2,354.0C396.9,352.4 399.4,351.0 401.0,351.3C402.6,351.6 404.2,353.6 405.5,356.0C406.8,358.4 408.4,362.7 409.0,366.0C409.6,369.3 409.3,373.6 409.0,376.0C408.7,378.4 408.2,379.9 407.0,380.6C405.8,381.3 403.3,381.8 402.0,380.0C400.7,378.2 399.8,373.2 399.0,370.0C398.2,366.8 397.5,363.7 397.0,361.0C396.5,358.3 395.5,355.6 396.2,354.0Z" fill="url(#g43)"/>
<path d="M389.0,381.0C390.0,379.5 393.5,378.2 396.0,377.5C398.5,376.8 401.8,376.4 404.0,377.0C406.2,377.6 408.8,379.3 409.0,381.0C409.2,382.7 407.2,385.8 405.0,387.0C402.8,388.2 398.5,388.1 396.0,388.0C393.5,387.9 391.2,387.7 390.0,386.5C388.8,385.3 388.0,382.5 389.0,381.0Z" fill="url(#g48)"/>
<path d="M349.0,282.0C350.2,280.6 351.8,278.4 354.0,277.5C356.2,276.6 359.7,276.1 362.0,276.4C364.3,276.6 366.4,277.6 368.0,279.0C369.6,280.4 370.8,282.8 371.5,285.0C372.2,287.2 372.7,289.8 372.5,292.0C372.3,294.2 371.8,296.3 370.5,298.0C369.2,299.7 367.2,301.3 365.0,302.0C362.8,302.7 359.5,302.5 357.0,302.0C354.5,301.5 351.7,300.7 350.0,299.0C348.3,297.3 347.5,294.2 347.0,292.0C346.5,289.8 346.6,287.7 346.9,286.0C347.2,284.3 347.8,283.4 349.0,282.0Z" fill="url(#g59)"/>
<path d="M360.0,299.0C360.7,298.2 363.9,297.5 365.0,298.0C366.1,298.5 367.2,301.2 366.5,302.0C365.8,302.8 362.1,303.5 361.0,303.0C359.9,302.5 359.3,299.8 360.0,299.0Z" fill="url(#g34)"/></g>
<path d="M340.8,277.1C340.9,274.5 340.8,273.3 342.5,271.9C344.2,270.5 347.9,269.1 351.1,268.5C354.3,267.9 358.8,267.9 361.5,268.5C364.2,269.1 366.3,269.9 367.6,271.9C368.9,273.9 368.6,276.6 369.3,280.6C370.0,284.6 370.6,292.9 371.9,296.1C373.2,299.3 375.7,297.9 377.1,299.6C378.6,301.3 379.7,304.5 380.6,306.5C381.5,308.5 380.3,310.0 382.3,311.7C384.3,313.4 389.5,314.6 392.7,316.9C395.9,319.2 399.1,322.3 401.3,325.6C403.5,328.9 404.6,333.1 405.6,336.5C406.6,339.9 407.0,342.3 407.5,346.2C408.0,350.1 408.2,355.4 408.5,359.6C408.8,363.8 408.8,367.4 409.4,371.2C410.0,375.0 412.1,379.5 412.3,382.7C412.5,385.9 412.3,388.3 410.4,390.4C408.5,392.5 404.3,394.2 400.8,395.2C397.3,396.2 392.1,396.7 389.2,396.2C386.3,395.7 384.8,394.2 383.5,392.3C382.2,390.4 382.1,388.1 381.5,384.6C380.9,381.1 380.2,375.4 379.6,371.2C379.0,367.0 378.7,362.5 377.7,359.6C376.7,356.7 375.7,355.2 373.8,353.8C371.9,352.4 369.4,352.1 366.2,351.0C363.0,349.9 357.8,348.2 354.6,347.1C351.4,346.0 349.8,345.3 346.9,344.2C344.0,343.1 340.5,342.0 337.3,340.4C334.1,338.8 329.7,337.1 327.7,334.6C325.7,332.1 325.5,328.3 325.2,325.6C324.9,322.9 325.3,320.8 326.0,318.6C326.7,316.4 327.9,314.6 329.5,312.6C331.1,310.6 333.7,308.7 335.6,306.5C337.5,304.3 339.8,302.8 340.8,299.6C341.8,296.4 341.6,291.2 341.6,287.5C341.6,283.8 340.7,279.7 340.8,277.1Z" fill="#bdbdbd" opacity="0.08"/>
<clipPath id="env5"><path d="M423.9,296.6C425.1,293.5 427.1,288.5 431.0,287.1C434.9,285.7 444.1,287.1 447.6,288.3C451.2,289.5 451.1,291.2 452.3,294.2C453.5,297.1 453.1,302.1 454.7,306.0C456.3,309.9 459.6,314.3 461.8,317.9C464.0,321.4 466.3,323.8 467.7,327.3C469.1,330.8 469.6,335.2 470.0,339.1C470.4,343.1 470.6,347.1 470.0,351.0C469.4,354.9 467.3,358.8 466.5,362.8C465.7,366.8 465.9,371.9 465.0,375.0C464.1,378.1 463.1,380.2 461.0,381.5C458.9,382.8 455.2,383.0 452.3,383.0C449.4,383.0 445.5,383.5 443.5,381.5C441.5,379.5 441.0,374.9 440.5,371.0C440.0,367.1 441.7,361.4 440.5,358.1C439.3,354.8 435.4,353.4 433.4,351.0C431.4,348.6 430.3,346.3 428.7,343.9C427.1,341.5 425.7,339.6 423.9,336.8C422.1,334.0 419.2,330.5 418.0,327.3C416.8,324.1 416.6,320.6 416.8,317.9C417.0,315.1 418.0,312.8 419.2,310.8C420.4,308.8 423.1,308.4 423.9,306.0C424.7,303.6 422.7,299.8 423.9,296.6Z"/></clipPath>
<path d="M423.9,296.6C425.1,293.5 427.1,288.5 431.0,287.1C434.9,285.7 444.1,287.1 447.6,288.3C451.2,289.5 451.1,291.2 452.3,294.2C453.5,297.1 453.1,302.1 454.7,306.0C456.3,309.9 459.6,314.3 461.8,317.9C464.0,321.4 466.3,323.8 467.7,327.3C469.1,330.8 469.6,335.2 470.0,339.1C470.4,343.1 470.6,347.1 470.0,351.0C469.4,354.9 467.3,358.8 466.5,362.8C465.7,366.8 465.9,371.9 465.0,375.0C464.1,378.1 463.1,380.2 461.0,381.5C458.9,382.8 455.2,383.0 452.3,383.0C449.4,383.0 445.5,383.5 443.5,381.5C441.5,379.5 441.0,374.9 440.5,371.0C440.0,367.1 441.7,361.4 440.5,358.1C439.3,354.8 435.4,353.4 433.4,351.0C431.4,348.6 430.3,346.3 428.7,343.9C427.1,341.5 425.7,339.6 423.9,336.8C422.1,334.0 419.2,330.5 418.0,327.3C416.8,324.1 416.6,320.6 416.8,317.9C417.0,315.1 418.0,312.8 419.2,310.8C420.4,308.8 423.1,308.4 423.9,306.0C424.7,303.6 422.7,299.8 423.9,296.6Z" fill="#bdbdbd" stroke="#a9a9a9" stroke-width="1.2"/>
<g clip-path="url(#env5)"><path d="M423.9,296.6C425.1,293.5 427.1,288.5 431.0,287.1C434.9,285.7 444.1,287.1 447.6,288.3C451.2,289.5 451.1,291.2 452.3,294.2C453.5,297.1 453.1,302.1 454.7,306.0C456.3,309.9 459.6,314.3 461.8,317.9C464.0,321.4 466.3,323.8 467.7,327.3C469.1,330.8 469.6,335.2 470.0,339.1C470.4,343.1 470.6,347.1 470.0,351.0C469.4,354.9 467.3,358.8 466.5,362.8C465.7,366.8 465.9,371.9 465.0,375.0C464.1,378.1 463.1,380.2 461.0,381.5C458.9,382.8 455.2,383.0 452.3,383.0C449.4,383.0 445.5,383.5 443.5,381.5C441.5,379.5 441.0,374.9 440.5,371.0C440.0,367.1 441.7,361.4 440.5,358.1C439.3,354.8 435.4,353.4 433.4,351.0C431.4,348.6 430.3,346.3 428.7,343.9C427.1,341.5 425.7,339.6 423.9,336.8C422.1,334.0 419.2,330.5 418.0,327.3C416.8,324.1 416.6,320.6 416.8,317.9C417.0,315.1 418.0,312.8 419.2,310.8C420.4,308.8 423.1,308.4 423.9,306.0C424.7,303.6 422.7,299.8 423.9,296.6Z" fill="none" stroke="#909090" stroke-width="3.5" opacity="0.45" filter="url(#bl1)"/></g>
<g filter="url(#bump)"><path d="M426.0,301.0C427.2,300.0 431.5,300.2 433.0,301.0C434.5,301.8 435.5,304.7 435.0,306.0C434.5,307.3 431.5,308.8 430.0,309.0C428.5,309.2 426.7,308.3 426.0,307.0C425.3,305.7 424.8,302.0 426.0,301.0Z" fill="url(#g34)"/>
<path d="M418.0,304.0C418.5,302.5 420.3,300.6 422.0,300.1C423.7,299.6 426.9,299.9 428.0,301.0C429.1,302.1 429.4,305.4 428.7,307.0C428.0,308.6 425.6,310.5 424.0,310.8C422.4,311.1 420.0,310.1 419.0,309.0C418.0,307.9 417.5,305.5 418.0,304.0Z" fill="url(#g46)"/>
<path d="M431.0,312.0C432.0,310.1 435.4,309.8 437.0,310.8C438.6,311.8 440.0,315.5 440.5,318.0C441.0,320.5 440.4,323.7 440.0,326.0C439.6,328.3 439.2,331.0 438.0,332.0C436.8,333.0 434.2,333.7 433.0,332.0C431.8,330.3 431.3,325.3 431.0,322.0C430.7,318.7 430.0,313.9 431.0,312.0Z" fill="url(#g19)"/>
<path d="M419.2,326.0C420.0,323.9 422.9,323.1 425.0,322.6C427.1,322.1 430.2,321.9 432.0,323.0C433.8,324.1 435.6,326.8 435.8,329.0C436.0,331.2 434.6,334.5 433.0,336.0C431.4,337.5 428.2,338.2 426.0,338.0C423.8,337.8 421.1,337.0 420.0,335.0C418.9,333.0 418.4,328.1 419.2,326.0Z" fill="url(#g60)"/>
<path d="M440.5,322.0C441.0,320.8 444.8,320.3 446.0,321.0C447.2,321.7 448.5,324.8 448.0,326.0C447.5,327.2 444.2,328.7 443.0,328.0C441.8,327.3 440.0,323.2 440.5,322.0Z" fill="url(#g60)"/>
<path d="M448.8,322.0C449.8,319.8 453.5,318.7 456.0,319.0C458.5,319.3 461.7,321.7 464.0,324.0C466.3,326.3 469.2,330.0 470.0,333.0C470.8,336.0 470.2,340.0 469.0,342.0C467.8,344.0 465.3,345.3 463.0,345.0C460.7,344.7 457.2,342.2 455.0,340.0C452.8,337.8 451.0,335.0 450.0,332.0C449.0,329.0 447.8,324.2 448.8,322.0Z" fill="url(#g19)"/>
<path d="M433.4,333.0C434.7,331.1 438.2,328.8 441.0,328.5C443.8,328.2 448.1,329.1 450.0,331.0C451.9,332.9 452.3,337.0 452.3,340.0C452.3,343.0 451.7,347.2 450.0,349.0C448.3,350.8 444.5,351.3 442.0,351.0C439.5,350.7 436.4,348.8 435.0,347.0C433.6,345.2 433.7,342.3 433.4,340.0C433.1,337.7 432.1,334.9 433.4,333.0Z" fill="url(#g61)"/>
<path d="M450.0,340.0C451.2,338.5 455.4,337.7 458.0,338.0C460.6,338.3 464.3,340.0 465.3,342.0C466.3,344.0 465.6,348.5 464.0,350.0C462.4,351.5 458.2,351.5 456.0,351.0C453.8,350.5 452.0,348.8 451.0,347.0C450.0,345.2 448.8,341.5 450.0,340.0Z" fill="url(#g62)"/>
<path d="M441.7,350.0C442.7,347.7 446.4,346.5 449.0,346.2C451.6,345.9 455.3,346.5 457.0,348.0C458.7,349.5 459.6,352.5 459.4,355.0C459.2,357.5 457.9,361.3 456.0,363.0C454.1,364.7 450.2,365.7 448.0,365.2C445.8,364.7 444.1,362.5 443.0,360.0C441.9,357.5 440.7,352.3 441.7,350.0Z" fill="url(#g63)"/>
<path d="M440.5,368.0C441.2,365.7 444.1,363.9 447.0,363.0C449.9,362.1 454.8,362.3 458.0,362.8C461.2,363.3 464.4,364.3 466.0,366.0C467.6,367.7 468.2,370.9 467.7,373.0C467.2,375.1 465.6,377.3 463.0,378.4C460.4,379.5 455.3,379.6 452.0,379.4C448.7,379.2 444.9,378.9 443.0,377.0C441.1,375.1 439.8,370.3 440.5,368.0Z" fill="url(#g64)"/>
<path d="M428.0,290.0C429.5,288.6 431.7,286.4 434.0,285.5C436.3,284.6 439.5,284.3 442.0,284.7C444.5,285.1 447.5,286.3 449.0,288.0C450.5,289.7 451.1,292.7 451.1,295.0C451.1,297.3 450.4,300.0 449.0,302.0C447.6,304.0 445.2,305.7 443.0,307.0C440.8,308.3 438.2,309.6 436.0,309.6C433.8,309.6 431.7,308.6 430.0,307.0C428.3,305.4 426.8,302.2 426.0,300.0C425.2,297.8 424.8,295.7 425.1,294.0C425.4,292.3 426.5,291.4 428.0,290.0Z" fill="url(#g65)"/></g>
<path d="M423.9,296.6C425.1,293.5 427.1,288.5 431.0,287.1C434.9,285.7 444.1,287.1 447.6,288.3C451.2,289.5 451.1,291.2 452.3,294.2C453.5,297.1 453.1,302.1 454.7,306.0C456.3,309.9 459.6,314.3 461.8,317.9C464.0,321.4 466.3,323.8 467.7,327.3C469.1,330.8 469.6,335.2 470.0,339.1C470.4,343.1 470.6,347.1 470.0,351.0C469.4,354.9 467.3,358.8 466.5,362.8C465.7,366.8 465.9,371.9 465.0,375.0C464.1,378.1 463.1,380.2 461.0,381.5C458.9,382.8 455.2,383.0 452.3,383.0C449.4,383.0 445.5,383.5 443.5,381.5C441.5,379.5 441.0,374.9 440.5,371.0C440.0,367.1 441.7,361.4 440.5,358.1C439.3,354.8 435.4,353.4 433.4,351.0C431.4,348.6 430.3,346.3 428.7,343.9C427.1,341.5 425.7,339.6 423.9,336.8C422.1,334.0 419.2,330.5 418.0,327.3C416.8,324.1 416.6,320.6 416.8,317.9C417.0,315.1 418.0,312.8 419.2,310.8C420.4,308.8 423.1,308.4 423.9,306.0C424.7,303.6 422.7,299.8 423.9,296.6Z" fill="#bdbdbd" opacity="0.14"/>
<defs><radialGradient id="g0" cx="0.45" cy="0.42" r="0.62"><stop offset="0" stop-color="#ccc078"/><stop offset="0.55" stop-color="#b8a844"/><stop offset="1" stop-color="#7d722e"/></radialGradient><radialGradient id="g1" cx="0.45" cy="0.42" r="0.62"><stop offset="0" stop-color="#d2c57d"/><stop offset="0.55" stop-color="#c0ae4a"/><stop offset="1" stop-color="#837632"/></radialGradient><radialGradient id="g2" cx="0.45" cy="0.42" r="0.62"><stop offset="0" stop-color="#7db882"/><stop offset="0.55" stop-color="#4a9c52"/><stop offset="1" stop-color="#326a38"/></radialGradient><radialGradient id="g3" cx="0.45" cy="0.42" r="0.62"><stop offset="0" stop-color="#7abb81"/><stop offset="0.55" stop-color="#46a050"/><stop offset="1" stop-color="#306d36"/></radialGradient><radialGradient id="g4" cx="0.45" cy="0.42" r="0.62"><stop offset="0" stop-color="#c08881"/><stop offset="0.55" stop-color="#a85a50"/><stop offset="1" stop-color="#723d36"/></radialGradient><radialGradient id="g5" cx="0.45" cy="0.42" r="0.62"><stop offset="0" stop-color="#cc887d"/><stop offset="0.55" stop-color="#b85a4a"/><stop offset="1" stop-color="#7d3d32"/></radialGradient><radialGradient id="g6" cx="0.45" cy="0.42" r="0.62"><stop offset="0" stop-color="#dda99e"/><stop offset="0.55" stop-color="#d08878"/><stop offset="1" stop-color="#8d5c52"/></radialGradient><radialGradient id="g7" cx="0.45" cy="0.42" r="0.62"><stop offset="0" stop-color="#bb6161"/><stop offset="0.55" stop-color="#a02424"/><stop offset="1" stop-color="#6d1818"/></radialGradient><radialGradient id="g8" cx="0.45" cy="0.42" r="0.62"><stop offset="0" stop-color="#d2d7af"/><stop offset="0.55" stop-color="#c0c890"/><stop offset="1" stop-color="#838862"/></radialGradient><radialGradient id="g9" cx="0.45" cy="0.42" r="0.62"><stop offset="0" stop-color="#d7d7b5"/><stop offset="0.55" stop-color="#c8c898"/><stop offset="1" stop-color="#888867"/></radialGradient><radialGradient id="g10" cx="0.45" cy="0.42" r="0.62"><stop offset="0" stop-color="#cc98bb"/><stop offset="0.55" stop-color="#b870a0"/><stop offset="1" stop-color="#7d4c6d"/></radialGradient><radialGradient id="g11" cx="0.45" cy="0.42" r="0.62"><stop offset="0" stop-color="#e3b5d5"/><stop offset="0.55" stop-color="#d898c4"/><stop offset="1" stop-color="#936785"/></radialGradient><radialGradient id="g12" cx="0.45" cy="0.42" r="0.62"><stop offset="0" stop-color="#e975ae"/><stop offset="0.55" stop-color="#e0408e"/><stop offset="1" stop-color="#982c61"/></radialGradient><radialGradient id="g13" cx="0.45" cy="0.42" r="0.62"><stop offset="0" stop-color="#d5d5ec"/><stop offset="0.55" stop-color="#c4c4e4"/><stop offset="1" stop-color="#85859b"/></radialGradient><radialGradient id="g14" cx="0.45" cy="0.42" r="0.62"><stop offset="0" stop-color="#eeaf67"/><stop offset="0.55" stop-color="#e8902c"/><stop offset="1" stop-color="#9e621e"/></radialGradient><radialGradient id="g15" cx="0.45" cy="0.42" r="0.62"><stop offset="0" stop-color="#cca987"/><stop offset="0.55" stop-color="#b88858"/><stop offset="1" stop-color="#7d5c3c"/></radialGradient><radialGradient id="g16" cx="0.45" cy="0.42" r="0.62"><stop offset="0" stop-color="#bbbb81"/><stop offset="0.55" stop-color="#a0a050"/><stop offset="1" stop-color="#6d6d36"/></radialGradient><radialGradient id="g17" cx="0.45" cy="0.42" r="0.62"><stop offset="0" stop-color="#d7c66a"/><stop offset="0.55" stop-color="#c8b030"/><stop offset="1" stop-color="#887821"/></radialGradient><radialGradient id="g18" cx="0.45" cy="0.42" r="0.62"><stop offset="0" stop-color="#f4e064"/><stop offset="0.55" stop-color="#f0d428"/><stop offset="1" stop-color="#a3901b"/></radialGradient><radialGradient id="g19" cx="0.45" cy="0.42" r="0.62"><stop offset="0" stop-color="#60bb75"/><stop offset="0.55" stop-color="#22a040"/><stop offset="1" stop-color="#176d2c"/></radialGradient><radialGradient id="g20" cx="0.45" cy="0.42" r="0.62"><stop offset="0" stop-color="#c6bb7b"/><stop offset="0.55" stop-color="#b0a048"/><stop offset="1" stop-color="#786d31"/></radialGradient><radialGradient id="g21" cx="0.45" cy="0.42" r="0.62"><stop offset="0" stop-color="#cca481"/><stop offset="0.55" stop-color="#b88050"/><stop offset="1" stop-color="#7d5736"/></radialGradient><radialGradient id="g22" cx="0.45" cy="0.42" r="0.62"><stop offset="0" stop-color="#63bb78"/><stop offset="0.55" stop-color="#26a044"/><stop offset="1" stop-color="#1a6d2e"/></radialGradient><radialGradient id="g23" cx="0.45" cy="0.42" r="0.62"><stop offset="0" stop-color="#69b277"/><stop offset="0.55" stop-color="#2e9442"/><stop offset="1" stop-color="#1f652d"/></radialGradient><radialGradient id="g24" cx="0.45" cy="0.42" r="0.62"><stop offset="0" stop-color="#989898"/><stop offset="0.55" stop-color="#707070"/><stop offset="1" stop-color="#4c4c4c"/></radialGradient><radialGradient id="g25" cx="0.45" cy="0.42" r="0.62"><stop offset="0" stop-color="#d29ec3"/><stop offset="0.55" stop-color="#c078ac"/><stop offset="1" stop-color="#835275"/></radialGradient><radialGradient id="g26" cx="0.45" cy="0.42" r="0.62"><stop offset="0" stop-color="#e36dab"/><stop offset="0.55" stop-color="#d8348a"/><stop offset="1" stop-color="#93235e"/></radialGradient><radialGradient id="g27" cx="0.45" cy="0.42" r="0.62"><stop offset="0" stop-color="#a86b67"/><stop offset="0.55" stop-color="#86322c"/><stop offset="1" stop-color="#5b221e"/></radialGradient><radialGradient id="g28" cx="0.45" cy="0.42" r="0.62"><stop offset="0" stop-color="#bb7d78"/><stop offset="0.55" stop-color="#a04a44"/><stop offset="1" stop-color="#6d322e"/></radialGradient><radialGradient id="g29" cx="0.45" cy="0.42" r="0.62"><stop offset="0" stop-color="#b6af81"/><stop offset="0.55" stop-color="#9a9050"/><stop offset="1" stop-color="#696236"/></radialGradient><radialGradient id="g30" cx="0.45" cy="0.42" r="0.62"><stop offset="0" stop-color="#ae6767"/><stop offset="0.55" stop-color="#8e2c2c"/><stop offset="1" stop-color="#611e1e"/></radialGradient><radialGradient id="g31" cx="0.45" cy="0.42" r="0.62"><stop offset="0" stop-color="#f3e7a9"/><stop offset="0.55" stop-color="#eedd88"/><stop offset="1" stop-color="#a2965c"/></radialGradient><radialGradient id="g32" cx="0.45" cy="0.42" r="0.62"><stop offset="0" stop-color="#71b67a"/><stop offset="0.55" stop-color="#3a9a46"/><stop offset="1" stop-color="#276930"/></radialGradient><radialGradient id="g33" cx="0.45" cy="0.42" r="0.62"><stop offset="0" stop-color="#f4e35e"/><stop offset="0.55" stop-color="#f0d820"/><stop offset="1" stop-color="#a39316"/></radialGradient><radialGradient id="g34" cx="0.45" cy="0.42" r="0.62"><stop offset="0" stop-color="#c3b870"/><stop offset="0.55" stop-color="#ac9c38"/><stop offset="1" stop-color="#756a26"/></radialGradient><radialGradient id="g35" cx="0.45" cy="0.42" r="0.62"><stop offset="0" stop-color="#c9c9e3"/><stop offset="0.55" stop-color="#b4b4d8"/><stop offset="1" stop-color="#7a7a93"/></radialGradient><radialGradient id="g36" cx="0.45" cy="0.42" r="0.62"><stop offset="0" stop-color="#949494"/><stop offset="0.55" stop-color="#6a6a6a"/><stop offset="1" stop-color="#484848"/></radialGradient><radialGradient id="g37" cx="0.45" cy="0.42" r="0.62"><stop offset="0" stop-color="#cc97bd"/><stop offset="0.55" stop-color="#b86ea4"/><stop offset="1" stop-color="#7d4b70"/></radialGradient><radialGradient id="g38" cx="0.45" cy="0.42" r="0.62"><stop offset="0" stop-color="#c07167"/><stop offset="0.55" stop-color="#a83a2c"/><stop offset="1" stop-color="#72271e"/></radialGradient><radialGradient id="g39" cx="0.45" cy="0.42" r="0.62"><stop offset="0" stop-color="#c07492"/><stop offset="0.55" stop-color="#a83e68"/><stop offset="1" stop-color="#722a47"/></radialGradient><radialGradient id="g40" cx="0.45" cy="0.42" r="0.62"><stop offset="0" stop-color="#c6bb6d"/><stop offset="0.55" stop-color="#b0a034"/><stop offset="1" stop-color="#786d23"/></radialGradient><radialGradient id="g41" cx="0.45" cy="0.42" r="0.62"><stop offset="0" stop-color="#eee064"/><stop offset="0.55" stop-color="#e8d428"/><stop offset="1" stop-color="#9e901b"/></radialGradient><radialGradient id="g42" cx="0.45" cy="0.42" r="0.62"><stop offset="0" stop-color="#bbaf6a"/><stop offset="0.55" stop-color="#a09030"/><stop offset="1" stop-color="#6d6221"/></radialGradient><radialGradient id="g43" cx="0.45" cy="0.42" r="0.62"><stop offset="0" stop-color="#71a278"/><stop offset="0.55" stop-color="#3a7e44"/><stop offset="1" stop-color="#27562e"/></radialGradient><radialGradient id="g44" cx="0.45" cy="0.42" r="0.62"><stop offset="0" stop-color="#cca47b"/><stop offset="0.55" stop-color="#b88048"/><stop offset="1" stop-color="#7d5731"/></radialGradient><radialGradient id="g45" cx="0.45" cy="0.42" r="0.62"><stop offset="0" stop-color="#c6bb70"/><stop offset="0.55" stop-color="#b0a038"/><stop offset="1" stop-color="#786d26"/></radialGradient><radialGradient id="g46" cx="0.45" cy="0.42" r="0.62"><stop offset="0" stop-color="#eee061"/><stop offset="0.55" stop-color="#e8d424"/><stop offset="1" stop-color="#9e9018"/></radialGradient><radialGradient id="g47" cx="0.45" cy="0.42" r="0.62"><stop offset="0" stop-color="#c6c6dd"/><stop offset="0.55" stop-color="#b0b0d0"/><stop offset="1" stop-color="#78788d"/></radialGradient><radialGradient id="g48" cx="0.45" cy="0.42" r="0.62"><stop offset="0" stop-color="#8b8b8b"/><stop offset="0.55" stop-color="#5e5e5e"/><stop offset="1" stop-color="#404040"/></radialGradient><radialGradient id="g49" cx="0.45" cy="0.42" r="0.62"><stop offset="0" stop-color="#c694bb"/><stop offset="0.55" stop-color="#b06aa0"/><stop offset="1" stop-color="#78486d"/></radialGradient><radialGradient id="g50" cx="0.45" cy="0.42" r="0.62"><stop offset="0" stop-color="#bb7169"/><stop offset="0.55" stop-color="#a03a2e"/><stop offset="1" stop-color="#6d271f"/></radialGradient><radialGradient id="g51" cx="0.45" cy="0.42" r="0.62"><stop offset="0" stop-color="#ccbf70"/><stop offset="0.55" stop-color="#b8a638"/><stop offset="1" stop-color="#7d7126"/></radialGradient><radialGradient id="g52" cx="0.45" cy="0.42" r="0.62"><stop offset="0" stop-color="#c0b26a"/><stop offset="0.55" stop-color="#a89430"/><stop offset="1" stop-color="#726521"/></radialGradient><radialGradient id="g53" cx="0.45" cy="0.42" r="0.62"><stop offset="0" stop-color="#c09871"/><stop offset="0.55" stop-color="#a8703a"/><stop offset="1" stop-color="#724c27"/></radialGradient><radialGradient id="g54" cx="0.45" cy="0.42" r="0.62"><stop offset="0" stop-color="#b8b8cf"/><stop offset="0.55" stop-color="#9c9cbc"/><stop offset="1" stop-color="#6a6a80"/></radialGradient><radialGradient id="g55" cx="0.45" cy="0.42" r="0.62"><stop offset="0" stop-color="#bb738e"/><stop offset="0.55" stop-color="#a03c62"/><stop offset="1" stop-color="#6d2943"/></radialGradient><radialGradient id="g56" cx="0.45" cy="0.42" r="0.62"><stop offset="0" stop-color="#d2a4c8"/><stop offset="0.55" stop-color="#c080b2"/><stop offset="1" stop-color="#835779"/></radialGradient><radialGradient id="g57" cx="0.45" cy="0.42" r="0.62"><stop offset="0" stop-color="#9f6767"/><stop offset="0.55" stop-color="#7a2c2c"/><stop offset="1" stop-color="#531e1e"/></radialGradient><radialGradient id="g58" cx="0.45" cy="0.42" r="0.62"><stop offset="0" stop-color="#d3c880"/><stop offset="0.55" stop-color="#c2b24e"/><stop offset="1" stop-color="#847935"/></radialGradient><radialGradient id="g59" cx="0.45" cy="0.42" r="0.62"><stop offset="0" stop-color="#dda66d"/><stop offset="0.55" stop-color="#d08434"/><stop offset="1" stop-color="#8d5a23"/></radialGradient><radialGradient id="g60" cx="0.45" cy="0.42" r="0.62"><stop offset="0" stop-color="#b6b6cf"/><stop offset="0.55" stop-color="#9a9abc"/><stop offset="1" stop-color="#696980"/></radialGradient><radialGradient id="g61" cx="0.45" cy="0.42" r="0.62"><stop offset="0" stop-color="#d5afd5"/><stop offset="0.55" stop-color="#c490c4"/><stop offset="1" stop-color="#856285"/></radialGradient><radialGradient id="g62" cx="0.45" cy="0.42" r="0.62"><stop offset="0" stop-color="#c9c9c9"/><stop offset="0.55" stop-color="#b4b4b4"/><stop offset="1" stop-color="#7a7a7a"/></radialGradient><radialGradient id="g63" cx="0.45" cy="0.42" r="0.62"><stop offset="0" stop-color="#ab7d73"/><stop offset="0.55" stop-color="#8a4a3c"/><stop offset="1" stop-color="#5e3229"/></radialGradient><radialGradient id="g64" cx="0.45" cy="0.42" r="0.62"><stop offset="0" stop-color="#ab7087"/><stop offset="0.55" stop-color="#8a3858"/><stop offset="1" stop-color="#5e263c"/></radialGradient><radialGradient id="g65" cx="0.45" cy="0.42" r="0.62"><stop offset="0" stop-color="#cc9b6d"/><stop offset="0.55" stop-color="#b87434"/><stop offset="1" stop-color="#7d4f23"/></radialGradient></defs>
<text x="31.5" y="416.3" font-size="7.9" fill="#222" textLength="28.3" lengthAdjust="spacingAndGlyphs">delT4Lq</text>
<text x="112.2" y="455.4" font-size="7.9" fill="#222" textLength="32.7" lengthAdjust="spacingAndGlyphs">delT4pLq</text>
<text x="190.4" y="416.3" font-size="7.9" fill="#222" textLength="19.6" lengthAdjust="spacingAndGlyphs">delT7</text>
<text x="277.0" y="416.3" font-size="7.9" fill="#222" textLength="19.5" lengthAdjust="spacingAndGlyphs">delT8</text>
<text x="367.0" y="416.3" font-size="7.9" fill="#222" textLength="23.0" lengthAdjust="spacingAndGlyphs">delT8L</text>
<text x="438.8" y="416.3" font-size="7.9" fill="#222" textLength="26.2" lengthAdjust="spacingAndGlyphs">delT2-7</text>
<rect x="0.5" y="0.5" width="519" height="464" fill="none" stroke="#4a4a4a" stroke-width="1"/>
<line x1="0" y1="0.5" x2="520" y2="0.5" stroke="#111" stroke-width="1"/>
<line x1="1.5" y1="1" x2="1.5" y2="463" stroke="#aaa" stroke-width="1" opacity="0.6"/>
<line x1="518.5" y1="1" x2="518.5" y2="463" stroke="#999" stroke-width="1" opacity="0.7"/>
<line x1="1" y1="463.5" x2="519" y2="463.5" stroke="#999" stroke-width="1" opacity="0.7"/>
</svg></body></html>
